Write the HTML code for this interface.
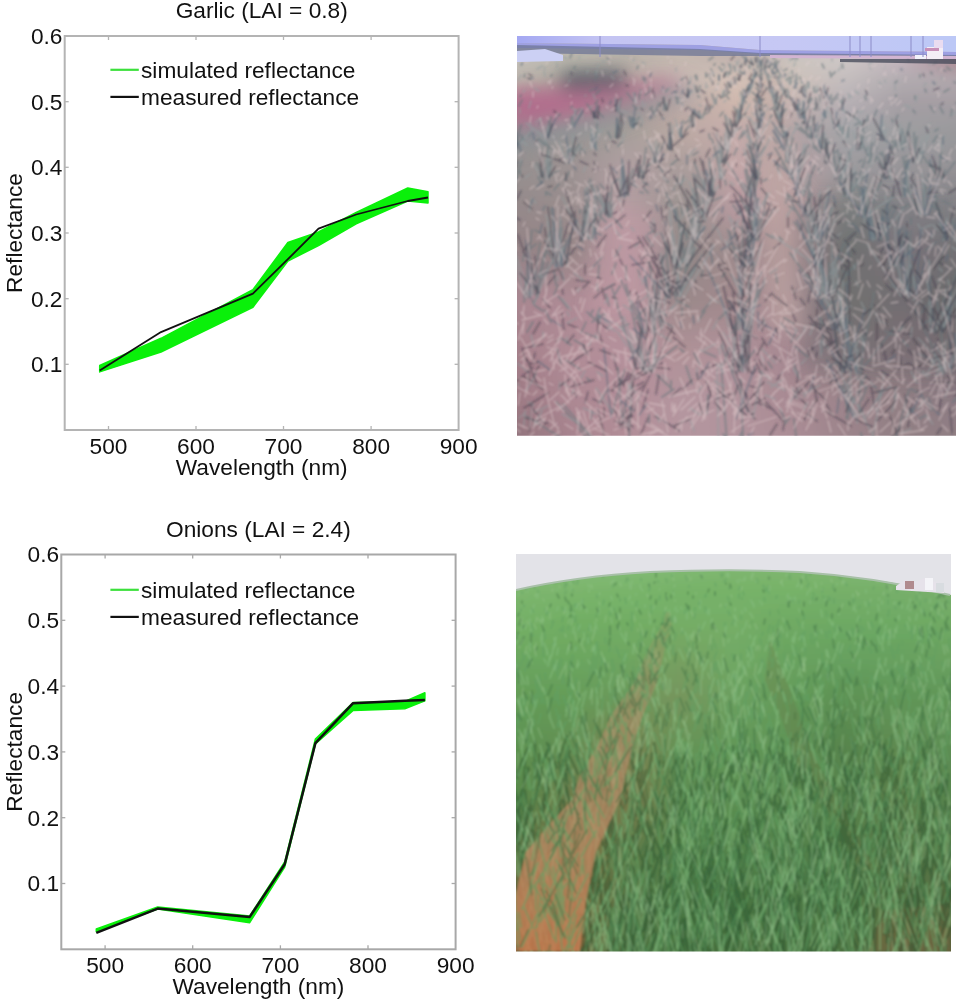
<!DOCTYPE html>
<html><head><meta charset="utf-8"><style>
html,body{margin:0;padding:0;background:#fff;width:966px;height:1000px;overflow:hidden}
svg{display:block}
.t{font-family:"Liberation Sans",sans-serif;font-size:22.7px;fill:#111}
.tx{will-change:transform;filter:blur(0.35px)}
</style></head><body>
<svg class="tx" width="966" height="1000" viewBox="0 0 966 1000">
<polygon points="99.7,365.5 161.0,338.3 252.9,289.7 287.9,242.5 318.5,232.0 356.2,212.4 407.8,188.0 428.0,191.7 428.0,203.0 407.8,201.0 356.2,223.8 318.5,245.6 287.9,261.0 252.9,307.3 161.0,352.0 99.7,371.9" fill="#0af00a" stroke="#0af00a" stroke-width="1.5" stroke-linejoin="round"/>
<polyline points="99.7,370.4 161.0,332.1 252.9,293.6 287.9,259.2 318.5,228.6 356.2,214.5 407.8,201.0 428.0,197.5" fill="none" stroke="#111" stroke-width="1.8" stroke-linejoin="round"/>
<rect x="64.7" y="36.0" width="393.9" height="394.0" fill="none" stroke="#b4b4b4" stroke-width="2"/>
<line x1="108.5" y1="430.0" x2="108.5" y2="426.0" stroke="#b4b4b4" stroke-width="1.3"/>
<line x1="108.5" y1="36.0" x2="108.5" y2="40.0" stroke="#b4b4b4" stroke-width="1.3"/>
<line x1="196.0" y1="430.0" x2="196.0" y2="426.0" stroke="#b4b4b4" stroke-width="1.3"/>
<line x1="196.0" y1="36.0" x2="196.0" y2="40.0" stroke="#b4b4b4" stroke-width="1.3"/>
<line x1="283.5" y1="430.0" x2="283.5" y2="426.0" stroke="#b4b4b4" stroke-width="1.3"/>
<line x1="283.5" y1="36.0" x2="283.5" y2="40.0" stroke="#b4b4b4" stroke-width="1.3"/>
<line x1="371.1" y1="430.0" x2="371.1" y2="426.0" stroke="#b4b4b4" stroke-width="1.3"/>
<line x1="371.1" y1="36.0" x2="371.1" y2="40.0" stroke="#b4b4b4" stroke-width="1.3"/>
<line x1="64.7" y1="364.3" x2="68.7" y2="364.3" stroke="#b4b4b4" stroke-width="1.3"/>
<line x1="458.6" y1="364.3" x2="454.6" y2="364.3" stroke="#b4b4b4" stroke-width="1.3"/>
<line x1="64.7" y1="298.7" x2="68.7" y2="298.7" stroke="#b4b4b4" stroke-width="1.3"/>
<line x1="458.6" y1="298.7" x2="454.6" y2="298.7" stroke="#b4b4b4" stroke-width="1.3"/>
<line x1="64.7" y1="233.0" x2="68.7" y2="233.0" stroke="#b4b4b4" stroke-width="1.3"/>
<line x1="458.6" y1="233.0" x2="454.6" y2="233.0" stroke="#b4b4b4" stroke-width="1.3"/>
<line x1="64.7" y1="167.3" x2="68.7" y2="167.3" stroke="#b4b4b4" stroke-width="1.3"/>
<line x1="458.6" y1="167.3" x2="454.6" y2="167.3" stroke="#b4b4b4" stroke-width="1.3"/>
<line x1="64.7" y1="101.7" x2="68.7" y2="101.7" stroke="#b4b4b4" stroke-width="1.3"/>
<line x1="458.6" y1="101.7" x2="454.6" y2="101.7" stroke="#b4b4b4" stroke-width="1.3"/>
<text x="108.5" y="453.5" text-anchor="middle" class="t">500</text>
<text x="196.0" y="453.5" text-anchor="middle" class="t">600</text>
<text x="283.5" y="453.5" text-anchor="middle" class="t">700</text>
<text x="371.1" y="453.5" text-anchor="middle" class="t">800</text>
<text x="458.6" y="453.5" text-anchor="middle" class="t">900</text>
<text x="62.5" y="372.1" text-anchor="end" class="t">0.1</text>
<text x="62.5" y="306.5" text-anchor="end" class="t">0.2</text>
<text x="62.5" y="240.8" text-anchor="end" class="t">0.3</text>
<text x="62.5" y="175.1" text-anchor="end" class="t">0.4</text>
<text x="62.5" y="109.5" text-anchor="end" class="t">0.5</text>
<text x="62.5" y="43.8" text-anchor="end" class="t">0.6</text>
<text x="261.7" y="475.0" text-anchor="middle" class="t">Wavelength (nm)</text>
<text transform="translate(22.2,233.0) rotate(-90)" text-anchor="middle" class="t">Reflectance</text>
<text x="261.7" y="18.0" text-anchor="middle" class="t">Garlic (LAI = 0.8)</text>
<line x1="110.4" y1="69.8" x2="138.8" y2="69.8" stroke="#3ce03c" stroke-width="2.2"/>
<line x1="110.4" y1="96.9" x2="138.8" y2="96.9" stroke="#111" stroke-width="2.2"/>
<text x="141.0" y="77.8" class="t">simulated reflectance</text>
<text x="141.0" y="104.9" class="t">measured reflectance</text>
<polygon points="96.3,928.9 157.7,907.0 249.7,915.9 284.7,862.0 315.4,739.0 353.1,702.6 404.8,701.5 424.9,692.8 424.9,700.7 404.8,708.8 353.1,710.4 315.4,744.0 284.7,867.0 249.7,922.7 157.7,909.0 96.3,931.4" fill="#0af00a" stroke="#0af00a" stroke-width="1.5" stroke-linejoin="round"/>
<polyline points="96.3,932.9 157.7,908.6 249.7,916.9 284.7,864.3 315.4,743.1 353.1,703.2 404.8,700.7 424.9,700.1" fill="none" stroke="#111" stroke-width="2.5" stroke-linejoin="round"/>
<rect x="61.3" y="554.5" width="394.3" height="394.8" fill="none" stroke="#a8a8a8" stroke-width="2"/>
<line x1="105.1" y1="949.3" x2="105.1" y2="945.3" stroke="#a8a8a8" stroke-width="1.3"/>
<line x1="105.1" y1="554.5" x2="105.1" y2="558.5" stroke="#a8a8a8" stroke-width="1.3"/>
<line x1="192.7" y1="949.3" x2="192.7" y2="945.3" stroke="#a8a8a8" stroke-width="1.3"/>
<line x1="192.7" y1="554.5" x2="192.7" y2="558.5" stroke="#a8a8a8" stroke-width="1.3"/>
<line x1="280.4" y1="949.3" x2="280.4" y2="945.3" stroke="#a8a8a8" stroke-width="1.3"/>
<line x1="280.4" y1="554.5" x2="280.4" y2="558.5" stroke="#a8a8a8" stroke-width="1.3"/>
<line x1="368.0" y1="949.3" x2="368.0" y2="945.3" stroke="#a8a8a8" stroke-width="1.3"/>
<line x1="368.0" y1="554.5" x2="368.0" y2="558.5" stroke="#a8a8a8" stroke-width="1.3"/>
<line x1="61.3" y1="883.5" x2="65.3" y2="883.5" stroke="#a8a8a8" stroke-width="1.3"/>
<line x1="455.6" y1="883.5" x2="451.6" y2="883.5" stroke="#a8a8a8" stroke-width="1.3"/>
<line x1="61.3" y1="817.7" x2="65.3" y2="817.7" stroke="#a8a8a8" stroke-width="1.3"/>
<line x1="455.6" y1="817.7" x2="451.6" y2="817.7" stroke="#a8a8a8" stroke-width="1.3"/>
<line x1="61.3" y1="751.9" x2="65.3" y2="751.9" stroke="#a8a8a8" stroke-width="1.3"/>
<line x1="455.6" y1="751.9" x2="451.6" y2="751.9" stroke="#a8a8a8" stroke-width="1.3"/>
<line x1="61.3" y1="686.1" x2="65.3" y2="686.1" stroke="#a8a8a8" stroke-width="1.3"/>
<line x1="455.6" y1="686.1" x2="451.6" y2="686.1" stroke="#a8a8a8" stroke-width="1.3"/>
<line x1="61.3" y1="620.3" x2="65.3" y2="620.3" stroke="#a8a8a8" stroke-width="1.3"/>
<line x1="455.6" y1="620.3" x2="451.6" y2="620.3" stroke="#a8a8a8" stroke-width="1.3"/>
<text x="105.1" y="972.8" text-anchor="middle" class="t">500</text>
<text x="192.7" y="972.8" text-anchor="middle" class="t">600</text>
<text x="280.4" y="972.8" text-anchor="middle" class="t">700</text>
<text x="368.0" y="972.8" text-anchor="middle" class="t">800</text>
<text x="455.6" y="972.8" text-anchor="middle" class="t">900</text>
<text x="59.1" y="891.3" text-anchor="end" class="t">0.1</text>
<text x="59.1" y="825.5" text-anchor="end" class="t">0.2</text>
<text x="59.1" y="759.7" text-anchor="end" class="t">0.3</text>
<text x="59.1" y="693.9" text-anchor="end" class="t">0.4</text>
<text x="59.1" y="628.1" text-anchor="end" class="t">0.5</text>
<text x="59.1" y="562.3" text-anchor="end" class="t">0.6</text>
<text x="258.4" y="994.3" text-anchor="middle" class="t">Wavelength (nm)</text>
<text transform="translate(22.2,751.9) rotate(-90)" text-anchor="middle" class="t">Reflectance</text>
<text x="258.4" y="536.5" text-anchor="middle" class="t">Onions (LAI = 2.4)</text>
<line x1="110.4" y1="589.8" x2="138.8" y2="589.8" stroke="#3ce03c" stroke-width="2.2"/>
<line x1="110.4" y1="616.9" x2="138.8" y2="616.9" stroke="#111" stroke-width="2.2"/>
<text x="141.0" y="597.8" class="t">simulated reflectance</text>
<text x="141.0" y="624.9" class="t">measured reflectance</text>
<defs><linearGradient id="g1_0" x1="0" x2="1" y1="0" y2="0"><stop offset="0.022" stop-color="#c3beb8"/><stop offset="0.142" stop-color="#bdb8ae"/><stop offset="0.261" stop-color="#b9b2aa"/><stop offset="0.381" stop-color="#c5b9b0"/><stop offset="0.501" stop-color="#c0b2ad"/><stop offset="0.621" stop-color="#cbc4c0"/><stop offset="0.741" stop-color="#cec8c6"/><stop offset="0.861" stop-color="#c5b5bd"/><stop offset="0.978" stop-color="#ac8a93"/></linearGradient><linearGradient id="g1_1" x1="0" x2="1" y1="0" y2="0"><stop offset="0.022" stop-color="#c3beb8"/><stop offset="0.142" stop-color="#bdb8ae"/><stop offset="0.261" stop-color="#b9b2aa"/><stop offset="0.381" stop-color="#c5b9b0"/><stop offset="0.501" stop-color="#c0b2ad"/><stop offset="0.621" stop-color="#cbc4c0"/><stop offset="0.741" stop-color="#cec8c6"/><stop offset="0.861" stop-color="#c5b5bd"/><stop offset="0.978" stop-color="#ac8a93"/></linearGradient><linearGradient id="g1_2" x1="0" x2="1" y1="0" y2="0"><stop offset="0.022" stop-color="#c3beb8"/><stop offset="0.142" stop-color="#bdb8ae"/><stop offset="0.261" stop-color="#b9b2aa"/><stop offset="0.381" stop-color="#c5b9b0"/><stop offset="0.501" stop-color="#c0b2ad"/><stop offset="0.621" stop-color="#cbc4c0"/><stop offset="0.741" stop-color="#cec8c6"/><stop offset="0.861" stop-color="#c5b5bd"/><stop offset="0.978" stop-color="#ac8a93"/></linearGradient><linearGradient id="g1_3" x1="0" x2="1" y1="0" y2="0"><stop offset="0.022" stop-color="#c3beb8"/><stop offset="0.142" stop-color="#bdb8ae"/><stop offset="0.261" stop-color="#b9b2aa"/><stop offset="0.381" stop-color="#c5b9b0"/><stop offset="0.501" stop-color="#c0b2ad"/><stop offset="0.621" stop-color="#cbc4c0"/><stop offset="0.741" stop-color="#cec8c6"/><stop offset="0.861" stop-color="#c5b5bd"/><stop offset="0.978" stop-color="#ac8a93"/></linearGradient><linearGradient id="g1_4" x1="0" x2="1" y1="0" y2="0"><stop offset="0.022" stop-color="#c3beb8"/><stop offset="0.142" stop-color="#bdb8ae"/><stop offset="0.261" stop-color="#b9b2aa"/><stop offset="0.381" stop-color="#c5b9b0"/><stop offset="0.501" stop-color="#c0b2ad"/><stop offset="0.621" stop-color="#cbc4c0"/><stop offset="0.741" stop-color="#cec8c6"/><stop offset="0.861" stop-color="#c5b5bd"/><stop offset="0.978" stop-color="#ac8a93"/></linearGradient><linearGradient id="g1_5" x1="0" x2="1" y1="0" y2="0"><stop offset="0.022" stop-color="#c3beb8"/><stop offset="0.142" stop-color="#bdb8ae"/><stop offset="0.261" stop-color="#b9b2aa"/><stop offset="0.381" stop-color="#c5b9b0"/><stop offset="0.501" stop-color="#c0b2ad"/><stop offset="0.621" stop-color="#cbc4c0"/><stop offset="0.741" stop-color="#cec8c6"/><stop offset="0.861" stop-color="#c5b5bd"/><stop offset="0.978" stop-color="#ac8a93"/></linearGradient><linearGradient id="g1_6" x1="0" x2="1" y1="0" y2="0"><stop offset="0.022" stop-color="#c3beb8"/><stop offset="0.142" stop-color="#bcb8ae"/><stop offset="0.261" stop-color="#b9b2a9"/><stop offset="0.381" stop-color="#c5b9b1"/><stop offset="0.501" stop-color="#c1b2ad"/><stop offset="0.621" stop-color="#cbc4bf"/><stop offset="0.741" stop-color="#cec8c6"/><stop offset="0.861" stop-color="#c4b5bd"/><stop offset="0.978" stop-color="#ac8b94"/></linearGradient><linearGradient id="g1_7" x1="0" x2="1" y1="0" y2="0"><stop offset="0.022" stop-color="#c1bcb5"/><stop offset="0.142" stop-color="#b7b3a9"/><stop offset="0.261" stop-color="#b9b0a8"/><stop offset="0.381" stop-color="#c6b9b1"/><stop offset="0.501" stop-color="#c6b6b0"/><stop offset="0.621" stop-color="#ccc4be"/><stop offset="0.741" stop-color="#cbc5c4"/><stop offset="0.861" stop-color="#c0b2ba"/><stop offset="0.978" stop-color="#ad9199"/></linearGradient><linearGradient id="g1_8" x1="0" x2="1" y1="0" y2="0"><stop offset="0.022" stop-color="#c0bab3"/><stop offset="0.142" stop-color="#b2aea5"/><stop offset="0.261" stop-color="#b8afa7"/><stop offset="0.381" stop-color="#c7b9b2"/><stop offset="0.501" stop-color="#cabab2"/><stop offset="0.621" stop-color="#cdc3bd"/><stop offset="0.741" stop-color="#c9c2c2"/><stop offset="0.861" stop-color="#bbb0b7"/><stop offset="0.978" stop-color="#ae979f"/></linearGradient><linearGradient id="g1_9" x1="0" x2="1" y1="0" y2="0"><stop offset="0.022" stop-color="#bfb8b0"/><stop offset="0.142" stop-color="#adaaa0"/><stop offset="0.261" stop-color="#b8ada6"/><stop offset="0.381" stop-color="#c7bab3"/><stop offset="0.501" stop-color="#cfbdb5"/><stop offset="0.621" stop-color="#cdc3bc"/><stop offset="0.741" stop-color="#c6c0c0"/><stop offset="0.861" stop-color="#b7aeb4"/><stop offset="0.978" stop-color="#ae9ea4"/></linearGradient><linearGradient id="g1_10" x1="0" x2="1" y1="0" y2="0"><stop offset="0.022" stop-color="#beb7ae"/><stop offset="0.142" stop-color="#a8a59c"/><stop offset="0.261" stop-color="#b7aba4"/><stop offset="0.381" stop-color="#c8bab3"/><stop offset="0.501" stop-color="#d4c1b7"/><stop offset="0.621" stop-color="#cec2ba"/><stop offset="0.741" stop-color="#c4bdbd"/><stop offset="0.861" stop-color="#b2acb0"/><stop offset="0.978" stop-color="#afa4aa"/></linearGradient><linearGradient id="g1_11" x1="0" x2="1" y1="0" y2="0"><stop offset="0.022" stop-color="#bcaea9"/><stop offset="0.142" stop-color="#a99f99"/><stop offset="0.261" stop-color="#b5a8a2"/><stop offset="0.381" stop-color="#c7b8b2"/><stop offset="0.501" stop-color="#d4c0b6"/><stop offset="0.621" stop-color="#cdc0b9"/><stop offset="0.741" stop-color="#c1babc"/><stop offset="0.861" stop-color="#afa9ae"/><stop offset="0.978" stop-color="#aea5aa"/></linearGradient><linearGradient id="g1_12" x1="0" x2="1" y1="0" y2="0"><stop offset="0.022" stop-color="#bba2a3"/><stop offset="0.142" stop-color="#ac9897"/><stop offset="0.261" stop-color="#b2a49e"/><stop offset="0.381" stop-color="#c4b5af"/><stop offset="0.501" stop-color="#d3beb4"/><stop offset="0.621" stop-color="#cbbdb7"/><stop offset="0.741" stop-color="#beb8ba"/><stop offset="0.861" stop-color="#ada7ab"/><stop offset="0.978" stop-color="#aca3a8"/></linearGradient><linearGradient id="g1_13" x1="0" x2="1" y1="0" y2="0"><stop offset="0.022" stop-color="#ba979e"/><stop offset="0.142" stop-color="#af9195"/><stop offset="0.261" stop-color="#ae9f9b"/><stop offset="0.381" stop-color="#c2b1ac"/><stop offset="0.501" stop-color="#d1bcb1"/><stop offset="0.621" stop-color="#cabab6"/><stop offset="0.741" stop-color="#bcb5b8"/><stop offset="0.861" stop-color="#aaa4a9"/><stop offset="0.978" stop-color="#a9a2a7"/></linearGradient><linearGradient id="g1_14" x1="0" x2="1" y1="0" y2="0"><stop offset="0.022" stop-color="#b98b98"/><stop offset="0.142" stop-color="#b38a93"/><stop offset="0.261" stop-color="#ab9b98"/><stop offset="0.381" stop-color="#bfaeaa"/><stop offset="0.501" stop-color="#d0b9af"/><stop offset="0.621" stop-color="#c8b8b4"/><stop offset="0.741" stop-color="#b9b2b6"/><stop offset="0.861" stop-color="#a7a1a6"/><stop offset="0.978" stop-color="#a7a0a5"/></linearGradient><linearGradient id="g1_15" x1="0" x2="1" y1="0" y2="0"><stop offset="0.022" stop-color="#b87f92"/><stop offset="0.142" stop-color="#b68391"/><stop offset="0.261" stop-color="#a89694"/><stop offset="0.381" stop-color="#bdaba7"/><stop offset="0.501" stop-color="#ceb7ad"/><stop offset="0.621" stop-color="#c6b5b3"/><stop offset="0.741" stop-color="#b6b0b4"/><stop offset="0.861" stop-color="#a59fa4"/><stop offset="0.978" stop-color="#a59ea3"/></linearGradient><linearGradient id="g1_16" x1="0" x2="1" y1="0" y2="0"><stop offset="0.022" stop-color="#b37f90"/><stop offset="0.142" stop-color="#b38491"/><stop offset="0.261" stop-color="#a79694"/><stop offset="0.381" stop-color="#bcaaa6"/><stop offset="0.501" stop-color="#cdb5ac"/><stop offset="0.621" stop-color="#c3b2b1"/><stop offset="0.741" stop-color="#b3adb2"/><stop offset="0.861" stop-color="#a39ea3"/><stop offset="0.978" stop-color="#a29da2"/></linearGradient><linearGradient id="g1_17" x1="0" x2="1" y1="0" y2="0"><stop offset="0.022" stop-color="#ac8390"/><stop offset="0.142" stop-color="#ad8891"/><stop offset="0.261" stop-color="#a69895"/><stop offset="0.381" stop-color="#bcaaa6"/><stop offset="0.501" stop-color="#cbb3ab"/><stop offset="0.621" stop-color="#bfafae"/><stop offset="0.741" stop-color="#afabaf"/><stop offset="0.861" stop-color="#a29ea2"/><stop offset="0.978" stop-color="#a09ca0"/></linearGradient><linearGradient id="g1_18" x1="0" x2="1" y1="0" y2="0"><stop offset="0.022" stop-color="#a68790"/><stop offset="0.142" stop-color="#a88c92"/><stop offset="0.261" stop-color="#a69a97"/><stop offset="0.381" stop-color="#bdaaa5"/><stop offset="0.501" stop-color="#c9b1ab"/><stop offset="0.621" stop-color="#bbabac"/><stop offset="0.741" stop-color="#aca9ad"/><stop offset="0.861" stop-color="#a19ea2"/><stop offset="0.978" stop-color="#9e9b9f"/></linearGradient><linearGradient id="g1_19" x1="0" x2="1" y1="0" y2="0"><stop offset="0.022" stop-color="#9f8b90"/><stop offset="0.142" stop-color="#a29092"/><stop offset="0.261" stop-color="#a69c98"/><stop offset="0.381" stop-color="#bdaaa5"/><stop offset="0.501" stop-color="#c7afab"/><stop offset="0.621" stop-color="#b7a8a9"/><stop offset="0.741" stop-color="#a8a7aa"/><stop offset="0.861" stop-color="#a09ea1"/><stop offset="0.978" stop-color="#9c9a9e"/></linearGradient><linearGradient id="g1_20" x1="0" x2="1" y1="0" y2="0"><stop offset="0.022" stop-color="#988f90"/><stop offset="0.142" stop-color="#9d9493"/><stop offset="0.261" stop-color="#a59e99"/><stop offset="0.381" stop-color="#bdaaa5"/><stop offset="0.501" stop-color="#c5adaa"/><stop offset="0.621" stop-color="#b4a5a7"/><stop offset="0.741" stop-color="#a5a5a8"/><stop offset="0.861" stop-color="#9e9ea1"/><stop offset="0.978" stop-color="#9a999c"/></linearGradient><linearGradient id="g1_21" x1="0" x2="1" y1="0" y2="0"><stop offset="0.022" stop-color="#969090"/><stop offset="0.142" stop-color="#9b9593"/><stop offset="0.261" stop-color="#a69f9a"/><stop offset="0.381" stop-color="#bba9a4"/><stop offset="0.501" stop-color="#c4abaa"/><stop offset="0.621" stop-color="#b3a4a6"/><stop offset="0.741" stop-color="#a3a3a6"/><stop offset="0.861" stop-color="#9d9da0"/><stop offset="0.978" stop-color="#99989b"/></linearGradient><linearGradient id="g1_22" x1="0" x2="1" y1="0" y2="0"><stop offset="0.022" stop-color="#969090"/><stop offset="0.142" stop-color="#9b9493"/><stop offset="0.261" stop-color="#a89f9c"/><stop offset="0.381" stop-color="#b9a7a2"/><stop offset="0.501" stop-color="#c4aba9"/><stop offset="0.621" stop-color="#b3a3a6"/><stop offset="0.741" stop-color="#a2a2a5"/><stop offset="0.861" stop-color="#9c9c9f"/><stop offset="0.978" stop-color="#98989b"/></linearGradient><linearGradient id="g1_23" x1="0" x2="1" y1="0" y2="0"><stop offset="0.022" stop-color="#969090"/><stop offset="0.142" stop-color="#9b9492"/><stop offset="0.261" stop-color="#a99f9d"/><stop offset="0.381" stop-color="#b6a5a1"/><stop offset="0.501" stop-color="#c4aaa9"/><stop offset="0.621" stop-color="#b4a3a5"/><stop offset="0.741" stop-color="#a1a1a4"/><stop offset="0.861" stop-color="#9b9b9e"/><stop offset="0.978" stop-color="#97979a"/></linearGradient><linearGradient id="g1_24" x1="0" x2="1" y1="0" y2="0"><stop offset="0.022" stop-color="#969090"/><stop offset="0.142" stop-color="#9b9492"/><stop offset="0.261" stop-color="#ab9f9e"/><stop offset="0.381" stop-color="#b3a4a0"/><stop offset="0.501" stop-color="#c3a9a9"/><stop offset="0.621" stop-color="#b4a2a5"/><stop offset="0.741" stop-color="#a09fa3"/><stop offset="0.861" stop-color="#9a999d"/><stop offset="0.978" stop-color="#979699"/></linearGradient><linearGradient id="g1_25" x1="0" x2="1" y1="0" y2="0"><stop offset="0.022" stop-color="#969090"/><stop offset="0.142" stop-color="#9b9392"/><stop offset="0.261" stop-color="#ac9f9f"/><stop offset="0.381" stop-color="#b1a29f"/><stop offset="0.501" stop-color="#c3a8a8"/><stop offset="0.621" stop-color="#b5a2a5"/><stop offset="0.741" stop-color="#a09ea2"/><stop offset="0.861" stop-color="#9a989c"/><stop offset="0.978" stop-color="#969598"/></linearGradient><linearGradient id="g1_26" x1="0" x2="1" y1="0" y2="0"><stop offset="0.022" stop-color="#969090"/><stop offset="0.142" stop-color="#9b9392"/><stop offset="0.261" stop-color="#ae9fa0"/><stop offset="0.381" stop-color="#aea09d"/><stop offset="0.501" stop-color="#c3a8a8"/><stop offset="0.621" stop-color="#b6a1a4"/><stop offset="0.741" stop-color="#9f9da0"/><stop offset="0.861" stop-color="#99979a"/><stop offset="0.978" stop-color="#969498"/></linearGradient><linearGradient id="g1_27" x1="0" x2="1" y1="0" y2="0"><stop offset="0.022" stop-color="#969090"/><stop offset="0.142" stop-color="#9c9292"/><stop offset="0.261" stop-color="#af9fa1"/><stop offset="0.381" stop-color="#ab9e9c"/><stop offset="0.501" stop-color="#c3a7a8"/><stop offset="0.621" stop-color="#b6a1a4"/><stop offset="0.741" stop-color="#9e9c9f"/><stop offset="0.861" stop-color="#989699"/><stop offset="0.978" stop-color="#959397"/></linearGradient><linearGradient id="g1_28" x1="0" x2="1" y1="0" y2="0"><stop offset="0.022" stop-color="#969090"/><stop offset="0.142" stop-color="#9c9292"/><stop offset="0.261" stop-color="#b19fa2"/><stop offset="0.381" stop-color="#a99d9b"/><stop offset="0.501" stop-color="#c3a6a7"/><stop offset="0.621" stop-color="#b7a0a4"/><stop offset="0.741" stop-color="#9d9a9e"/><stop offset="0.861" stop-color="#979498"/><stop offset="0.978" stop-color="#959296"/></linearGradient><linearGradient id="g1_29" x1="0" x2="1" y1="0" y2="0"><stop offset="0.022" stop-color="#968f8f"/><stop offset="0.142" stop-color="#9b9191"/><stop offset="0.261" stop-color="#b19fa2"/><stop offset="0.381" stop-color="#a79b9a"/><stop offset="0.501" stop-color="#c2a5a7"/><stop offset="0.621" stop-color="#b79fa3"/><stop offset="0.741" stop-color="#9a989b"/><stop offset="0.861" stop-color="#959397"/><stop offset="0.978" stop-color="#939194"/></linearGradient><linearGradient id="g1_30" x1="0" x2="1" y1="0" y2="0"><stop offset="0.022" stop-color="#968f8f"/><stop offset="0.142" stop-color="#9b9191"/><stop offset="0.261" stop-color="#b29fa2"/><stop offset="0.381" stop-color="#a59a98"/><stop offset="0.501" stop-color="#c0a3a6"/><stop offset="0.621" stop-color="#b79fa3"/><stop offset="0.741" stop-color="#979598"/><stop offset="0.861" stop-color="#949195"/><stop offset="0.978" stop-color="#918f93"/></linearGradient><linearGradient id="g1_31" x1="0" x2="1" y1="0" y2="0"><stop offset="0.022" stop-color="#968e8e"/><stop offset="0.142" stop-color="#9a9090"/><stop offset="0.261" stop-color="#b29ea2"/><stop offset="0.381" stop-color="#a39997"/><stop offset="0.501" stop-color="#bfa2a5"/><stop offset="0.621" stop-color="#b89ea2"/><stop offset="0.741" stop-color="#949395"/><stop offset="0.861" stop-color="#929094"/><stop offset="0.978" stop-color="#908d91"/></linearGradient><linearGradient id="g1_32" x1="0" x2="1" y1="0" y2="0"><stop offset="0.022" stop-color="#968d8d"/><stop offset="0.142" stop-color="#9a8f8f"/><stop offset="0.261" stop-color="#b39ea2"/><stop offset="0.381" stop-color="#a19795"/><stop offset="0.501" stop-color="#bda0a4"/><stop offset="0.621" stop-color="#b89da2"/><stop offset="0.741" stop-color="#919091"/><stop offset="0.861" stop-color="#918e92"/><stop offset="0.978" stop-color="#8e8c8f"/></linearGradient><linearGradient id="g1_33" x1="0" x2="1" y1="0" y2="0"><stop offset="0.022" stop-color="#958c8d"/><stop offset="0.142" stop-color="#998e8f"/><stop offset="0.261" stop-color="#b39ea2"/><stop offset="0.381" stop-color="#9f9694"/><stop offset="0.501" stop-color="#bc9fa3"/><stop offset="0.621" stop-color="#b89ca2"/><stop offset="0.741" stop-color="#8d8d8e"/><stop offset="0.861" stop-color="#8f8d91"/><stop offset="0.978" stop-color="#8c8a8d"/></linearGradient><linearGradient id="g1_34" x1="0" x2="1" y1="0" y2="0"><stop offset="0.022" stop-color="#958b8c"/><stop offset="0.142" stop-color="#998e8e"/><stop offset="0.261" stop-color="#b49ea2"/><stop offset="0.381" stop-color="#9d9592"/><stop offset="0.501" stop-color="#ba9da2"/><stop offset="0.621" stop-color="#b99ca1"/><stop offset="0.741" stop-color="#8a8a8a"/><stop offset="0.861" stop-color="#8e8b8f"/><stop offset="0.978" stop-color="#8a888c"/></linearGradient><linearGradient id="g1_35" x1="0" x2="1" y1="0" y2="0"><stop offset="0.022" stop-color="#958a8b"/><stop offset="0.142" stop-color="#998d8d"/><stop offset="0.261" stop-color="#b49da2"/><stop offset="0.381" stop-color="#9c9491"/><stop offset="0.501" stop-color="#b99ca1"/><stop offset="0.621" stop-color="#b99ba1"/><stop offset="0.741" stop-color="#878887"/><stop offset="0.861" stop-color="#8c8a8e"/><stop offset="0.978" stop-color="#89868a"/></linearGradient><linearGradient id="g1_36" x1="0" x2="1" y1="0" y2="0"><stop offset="0.022" stop-color="#95898b"/><stop offset="0.142" stop-color="#988c8d"/><stop offset="0.261" stop-color="#b59da2"/><stop offset="0.381" stop-color="#9a9290"/><stop offset="0.501" stop-color="#b79aa0"/><stop offset="0.621" stop-color="#b99aa0"/><stop offset="0.741" stop-color="#848584"/><stop offset="0.861" stop-color="#8b888c"/><stop offset="0.978" stop-color="#878588"/></linearGradient><linearGradient id="g1_37" x1="0" x2="1" y1="0" y2="0"><stop offset="0.022" stop-color="#95898a"/><stop offset="0.142" stop-color="#988b8c"/><stop offset="0.261" stop-color="#b59ca2"/><stop offset="0.381" stop-color="#99918f"/><stop offset="0.501" stop-color="#b5999e"/><stop offset="0.621" stop-color="#b8999f"/><stop offset="0.741" stop-color="#818381"/><stop offset="0.861" stop-color="#8a878b"/><stop offset="0.978" stop-color="#858386"/></linearGradient><linearGradient id="g1_38" x1="0" x2="1" y1="0" y2="0"><stop offset="0.022" stop-color="#95888a"/><stop offset="0.142" stop-color="#988b8b"/><stop offset="0.261" stop-color="#b69ca2"/><stop offset="0.381" stop-color="#98908e"/><stop offset="0.501" stop-color="#b2979c"/><stop offset="0.621" stop-color="#b6979e"/><stop offset="0.741" stop-color="#7f817f"/><stop offset="0.861" stop-color="#898589"/><stop offset="0.978" stop-color="#838184"/></linearGradient><linearGradient id="g1_39" x1="0" x2="1" y1="0" y2="0"><stop offset="0.022" stop-color="#958789"/><stop offset="0.142" stop-color="#988a8b"/><stop offset="0.261" stop-color="#b69ba2"/><stop offset="0.381" stop-color="#978f8d"/><stop offset="0.501" stop-color="#af9599"/><stop offset="0.621" stop-color="#b4969c"/><stop offset="0.741" stop-color="#7d7f7d"/><stop offset="0.861" stop-color="#898388"/><stop offset="0.978" stop-color="#817f82"/></linearGradient><linearGradient id="g1_40" x1="0" x2="1" y1="0" y2="0"><stop offset="0.022" stop-color="#958789"/><stop offset="0.142" stop-color="#97898a"/><stop offset="0.261" stop-color="#b69aa2"/><stop offset="0.381" stop-color="#978e8c"/><stop offset="0.501" stop-color="#ac9497"/><stop offset="0.621" stop-color="#b3949b"/><stop offset="0.741" stop-color="#7b7d7b"/><stop offset="0.861" stop-color="#888286"/><stop offset="0.978" stop-color="#7f7d80"/></linearGradient><linearGradient id="g1_41" x1="0" x2="1" y1="0" y2="0"><stop offset="0.022" stop-color="#958688"/><stop offset="0.142" stop-color="#978889"/><stop offset="0.261" stop-color="#b699a2"/><stop offset="0.381" stop-color="#968d8b"/><stop offset="0.501" stop-color="#a99295"/><stop offset="0.621" stop-color="#b19399"/><stop offset="0.741" stop-color="#797b79"/><stop offset="0.861" stop-color="#888085"/><stop offset="0.978" stop-color="#7d7b7e"/></linearGradient><linearGradient id="g1_42" x1="0" x2="1" y1="0" y2="0"><stop offset="0.022" stop-color="#958588"/><stop offset="0.142" stop-color="#978889"/><stop offset="0.261" stop-color="#b799a2"/><stop offset="0.381" stop-color="#958c8b"/><stop offset="0.501" stop-color="#a69093"/><stop offset="0.621" stop-color="#af9198"/><stop offset="0.741" stop-color="#777977"/><stop offset="0.861" stop-color="#877e83"/><stop offset="0.978" stop-color="#7b797c"/></linearGradient><linearGradient id="g1_43" x1="0" x2="1" y1="0" y2="0"><stop offset="0.022" stop-color="#958587"/><stop offset="0.142" stop-color="#978788"/><stop offset="0.261" stop-color="#b798a2"/><stop offset="0.381" stop-color="#958b8a"/><stop offset="0.501" stop-color="#a38e90"/><stop offset="0.621" stop-color="#ad9096"/><stop offset="0.741" stop-color="#757774"/><stop offset="0.861" stop-color="#877c81"/><stop offset="0.978" stop-color="#797779"/></linearGradient><linearGradient id="g1_44" x1="0" x2="1" y1="0" y2="0"><stop offset="0.022" stop-color="#958487"/><stop offset="0.142" stop-color="#978687"/><stop offset="0.261" stop-color="#b797a1"/><stop offset="0.381" stop-color="#948a89"/><stop offset="0.501" stop-color="#a08d8e"/><stop offset="0.621" stop-color="#ab8e95"/><stop offset="0.741" stop-color="#737572"/><stop offset="0.861" stop-color="#867b80"/><stop offset="0.978" stop-color="#777577"/></linearGradient><linearGradient id="g1_45" x1="0" x2="1" y1="0" y2="0"><stop offset="0.022" stop-color="#968488"/><stop offset="0.142" stop-color="#988688"/><stop offset="0.261" stop-color="#b797a1"/><stop offset="0.381" stop-color="#948a89"/><stop offset="0.501" stop-color="#9f8c8e"/><stop offset="0.621" stop-color="#ab8e95"/><stop offset="0.741" stop-color="#737472"/><stop offset="0.861" stop-color="#85797f"/><stop offset="0.978" stop-color="#767376"/></linearGradient><linearGradient id="g1_46" x1="0" x2="1" y1="0" y2="0"><stop offset="0.022" stop-color="#988589"/><stop offset="0.142" stop-color="#9b8789"/><stop offset="0.261" stop-color="#b796a1"/><stop offset="0.381" stop-color="#958a89"/><stop offset="0.501" stop-color="#a08b8d"/><stop offset="0.621" stop-color="#ab8e95"/><stop offset="0.741" stop-color="#747472"/><stop offset="0.861" stop-color="#84787d"/><stop offset="0.978" stop-color="#757275"/></linearGradient><linearGradient id="g1_47" x1="0" x2="1" y1="0" y2="0"><stop offset="0.022" stop-color="#9a858a"/><stop offset="0.142" stop-color="#9d878b"/><stop offset="0.261" stop-color="#b796a1"/><stop offset="0.381" stop-color="#958a89"/><stop offset="0.501" stop-color="#a08b8d"/><stop offset="0.621" stop-color="#ab8e95"/><stop offset="0.741" stop-color="#747472"/><stop offset="0.861" stop-color="#82787c"/><stop offset="0.978" stop-color="#747274"/></linearGradient><linearGradient id="g1_48" x1="0" x2="1" y1="0" y2="0"><stop offset="0.022" stop-color="#9c858b"/><stop offset="0.142" stop-color="#9f888c"/><stop offset="0.261" stop-color="#b796a0"/><stop offset="0.381" stop-color="#968a89"/><stop offset="0.501" stop-color="#a08b8d"/><stop offset="0.621" stop-color="#ac8e96"/><stop offset="0.741" stop-color="#757472"/><stop offset="0.861" stop-color="#81777b"/><stop offset="0.978" stop-color="#737173"/></linearGradient><linearGradient id="g1_49" x1="0" x2="1" y1="0" y2="0"><stop offset="0.022" stop-color="#9e858c"/><stop offset="0.142" stop-color="#a2888e"/><stop offset="0.261" stop-color="#b796a0"/><stop offset="0.381" stop-color="#978a89"/><stop offset="0.501" stop-color="#a18b8d"/><stop offset="0.621" stop-color="#ac8e96"/><stop offset="0.741" stop-color="#757472"/><stop offset="0.861" stop-color="#80767a"/><stop offset="0.978" stop-color="#727072"/></linearGradient><linearGradient id="g1_50" x1="0" x2="1" y1="0" y2="0"><stop offset="0.022" stop-color="#a0868d"/><stop offset="0.142" stop-color="#a4898f"/><stop offset="0.261" stop-color="#b795a0"/><stop offset="0.381" stop-color="#978989"/><stop offset="0.501" stop-color="#a18a8d"/><stop offset="0.621" stop-color="#ac8f96"/><stop offset="0.741" stop-color="#757572"/><stop offset="0.861" stop-color="#7e7578"/><stop offset="0.978" stop-color="#716f70"/></linearGradient><linearGradient id="g1_51" x1="0" x2="1" y1="0" y2="0"><stop offset="0.022" stop-color="#a2868e"/><stop offset="0.142" stop-color="#a68990"/><stop offset="0.261" stop-color="#b7959f"/><stop offset="0.381" stop-color="#98898a"/><stop offset="0.501" stop-color="#a18a8d"/><stop offset="0.621" stop-color="#ac8f97"/><stop offset="0.741" stop-color="#767572"/><stop offset="0.861" stop-color="#7d7477"/><stop offset="0.978" stop-color="#706e6f"/></linearGradient><linearGradient id="g1_52" x1="0" x2="1" y1="0" y2="0"><stop offset="0.022" stop-color="#a4868f"/><stop offset="0.142" stop-color="#a98a92"/><stop offset="0.261" stop-color="#b7959f"/><stop offset="0.381" stop-color="#98898a"/><stop offset="0.501" stop-color="#a28a8d"/><stop offset="0.621" stop-color="#ac8f97"/><stop offset="0.741" stop-color="#767572"/><stop offset="0.861" stop-color="#7b7376"/><stop offset="0.978" stop-color="#6f6d6e"/></linearGradient><linearGradient id="g1_53" x1="0" x2="1" y1="0" y2="0"><stop offset="0.022" stop-color="#a68790"/><stop offset="0.142" stop-color="#ab8a93"/><stop offset="0.261" stop-color="#b7949f"/><stop offset="0.381" stop-color="#99898a"/><stop offset="0.501" stop-color="#a2898d"/><stop offset="0.621" stop-color="#ad8f97"/><stop offset="0.741" stop-color="#777572"/><stop offset="0.861" stop-color="#7a7275"/><stop offset="0.978" stop-color="#6f6c6d"/></linearGradient><linearGradient id="g1_54" x1="0" x2="1" y1="0" y2="0"><stop offset="0.022" stop-color="#a88791"/><stop offset="0.142" stop-color="#ad8b95"/><stop offset="0.261" stop-color="#b7949e"/><stop offset="0.381" stop-color="#9a898a"/><stop offset="0.501" stop-color="#a2898c"/><stop offset="0.621" stop-color="#ad8f98"/><stop offset="0.741" stop-color="#777572"/><stop offset="0.861" stop-color="#797173"/><stop offset="0.978" stop-color="#6e6b6c"/></linearGradient><linearGradient id="g1_55" x1="0" x2="1" y1="0" y2="0"><stop offset="0.022" stop-color="#a88790"/><stop offset="0.142" stop-color="#ae8b95"/><stop offset="0.261" stop-color="#b7949e"/><stop offset="0.381" stop-color="#9b8a8b"/><stop offset="0.501" stop-color="#a38a8d"/><stop offset="0.621" stop-color="#ac8f97"/><stop offset="0.741" stop-color="#787572"/><stop offset="0.861" stop-color="#797174"/><stop offset="0.978" stop-color="#6e6b6c"/></linearGradient><linearGradient id="g1_56" x1="0" x2="1" y1="0" y2="0"><stop offset="0.022" stop-color="#a88690"/><stop offset="0.142" stop-color="#ae8b95"/><stop offset="0.261" stop-color="#b6939e"/><stop offset="0.381" stop-color="#9d8a8c"/><stop offset="0.501" stop-color="#a48a8f"/><stop offset="0.621" stop-color="#ac8e97"/><stop offset="0.741" stop-color="#787573"/><stop offset="0.861" stop-color="#7a7274"/><stop offset="0.978" stop-color="#706c6d"/></linearGradient><linearGradient id="g1_57" x1="0" x2="1" y1="0" y2="0"><stop offset="0.022" stop-color="#a7858f"/><stop offset="0.142" stop-color="#ae8b96"/><stop offset="0.261" stop-color="#b6939d"/><stop offset="0.381" stop-color="#a08b8d"/><stop offset="0.501" stop-color="#a68b90"/><stop offset="0.621" stop-color="#ab8d96"/><stop offset="0.741" stop-color="#797573"/><stop offset="0.861" stop-color="#7c7275"/><stop offset="0.978" stop-color="#716c6d"/></linearGradient><linearGradient id="g1_58" x1="0" x2="1" y1="0" y2="0"><stop offset="0.022" stop-color="#a7848e"/><stop offset="0.142" stop-color="#af8b96"/><stop offset="0.261" stop-color="#b6939d"/><stop offset="0.381" stop-color="#a28c8f"/><stop offset="0.501" stop-color="#a78c91"/><stop offset="0.621" stop-color="#aa8c95"/><stop offset="0.741" stop-color="#7a7574"/><stop offset="0.861" stop-color="#7d7275"/><stop offset="0.978" stop-color="#726c6e"/></linearGradient><linearGradient id="g1_59" x1="0" x2="1" y1="0" y2="0"><stop offset="0.022" stop-color="#a6848e"/><stop offset="0.142" stop-color="#af8b96"/><stop offset="0.261" stop-color="#b6939d"/><stop offset="0.381" stop-color="#a48d90"/><stop offset="0.501" stop-color="#a88d93"/><stop offset="0.621" stop-color="#a98c94"/><stop offset="0.741" stop-color="#7a7574"/><stop offset="0.861" stop-color="#7e7276"/><stop offset="0.978" stop-color="#736c6e"/></linearGradient><linearGradient id="g1_60" x1="0" x2="1" y1="0" y2="0"><stop offset="0.022" stop-color="#a6838d"/><stop offset="0.142" stop-color="#af8c96"/><stop offset="0.261" stop-color="#b6929d"/><stop offset="0.381" stop-color="#a68e91"/><stop offset="0.501" stop-color="#a98e94"/><stop offset="0.621" stop-color="#a88b94"/><stop offset="0.741" stop-color="#7b7475"/><stop offset="0.861" stop-color="#7f7376"/><stop offset="0.978" stop-color="#756d6f"/></linearGradient><linearGradient id="g1_61" x1="0" x2="1" y1="0" y2="0"><stop offset="0.022" stop-color="#a6828d"/><stop offset="0.142" stop-color="#af8c96"/><stop offset="0.261" stop-color="#b6929c"/><stop offset="0.381" stop-color="#a88e93"/><stop offset="0.501" stop-color="#ab8e95"/><stop offset="0.621" stop-color="#a88a93"/><stop offset="0.741" stop-color="#7c7475"/><stop offset="0.861" stop-color="#817377"/><stop offset="0.978" stop-color="#766d70"/></linearGradient><linearGradient id="g1_62" x1="0" x2="1" y1="0" y2="0"><stop offset="0.022" stop-color="#a5828c"/><stop offset="0.142" stop-color="#af8c96"/><stop offset="0.261" stop-color="#b5929c"/><stop offset="0.381" stop-color="#aa8f94"/><stop offset="0.501" stop-color="#ac8f97"/><stop offset="0.621" stop-color="#a78a92"/><stop offset="0.741" stop-color="#7c7476"/><stop offset="0.861" stop-color="#827378"/><stop offset="0.978" stop-color="#776d70"/></linearGradient><linearGradient id="g1_63" x1="0" x2="1" y1="0" y2="0"><stop offset="0.022" stop-color="#a5818b"/><stop offset="0.142" stop-color="#b08c96"/><stop offset="0.261" stop-color="#b5919c"/><stop offset="0.381" stop-color="#ac9095"/><stop offset="0.501" stop-color="#ad9098"/><stop offset="0.621" stop-color="#a68991"/><stop offset="0.741" stop-color="#7d7476"/><stop offset="0.861" stop-color="#837478"/><stop offset="0.978" stop-color="#786e71"/></linearGradient><linearGradient id="g1_64" x1="0" x2="1" y1="0" y2="0"><stop offset="0.022" stop-color="#a4808b"/><stop offset="0.142" stop-color="#b08c96"/><stop offset="0.261" stop-color="#b5919c"/><stop offset="0.381" stop-color="#ae9196"/><stop offset="0.501" stop-color="#af9199"/><stop offset="0.621" stop-color="#a58891"/><stop offset="0.741" stop-color="#7d7477"/><stop offset="0.861" stop-color="#847479"/><stop offset="0.978" stop-color="#7a6e71"/></linearGradient><linearGradient id="g1_65" x1="0" x2="1" y1="0" y2="0"><stop offset="0.022" stop-color="#a4808a"/><stop offset="0.142" stop-color="#b08c96"/><stop offset="0.261" stop-color="#b5919b"/><stop offset="0.381" stop-color="#af9197"/><stop offset="0.501" stop-color="#af919a"/><stop offset="0.621" stop-color="#a58890"/><stop offset="0.741" stop-color="#807578"/><stop offset="0.861" stop-color="#86757a"/><stop offset="0.978" stop-color="#7b6f73"/></linearGradient><linearGradient id="g1_66" x1="0" x2="1" y1="0" y2="0"><stop offset="0.022" stop-color="#a37f89"/><stop offset="0.142" stop-color="#af8b96"/><stop offset="0.261" stop-color="#b4909b"/><stop offset="0.381" stop-color="#b09298"/><stop offset="0.501" stop-color="#af919a"/><stop offset="0.621" stop-color="#a58891"/><stop offset="0.741" stop-color="#83777a"/><stop offset="0.861" stop-color="#87767b"/><stop offset="0.978" stop-color="#7d7074"/></linearGradient><linearGradient id="g1_67" x1="0" x2="1" y1="0" y2="0"><stop offset="0.022" stop-color="#a27e89"/><stop offset="0.142" stop-color="#af8b95"/><stop offset="0.261" stop-color="#b4909b"/><stop offset="0.381" stop-color="#b09299"/><stop offset="0.501" stop-color="#b0929a"/><stop offset="0.621" stop-color="#a58891"/><stop offset="0.741" stop-color="#86787c"/><stop offset="0.861" stop-color="#88777c"/><stop offset="0.978" stop-color="#7f7176"/></linearGradient><linearGradient id="g1_68" x1="0" x2="1" y1="0" y2="0"><stop offset="0.022" stop-color="#a27e88"/><stop offset="0.142" stop-color="#af8b95"/><stop offset="0.261" stop-color="#b4909a"/><stop offset="0.381" stop-color="#b1939a"/><stop offset="0.501" stop-color="#b0929a"/><stop offset="0.621" stop-color="#a68891"/><stop offset="0.741" stop-color="#897a7e"/><stop offset="0.861" stop-color="#89787d"/><stop offset="0.978" stop-color="#807278"/></linearGradient><linearGradient id="g1_69" x1="0" x2="1" y1="0" y2="0"><stop offset="0.022" stop-color="#a17d88"/><stop offset="0.142" stop-color="#ae8a95"/><stop offset="0.261" stop-color="#b4909a"/><stop offset="0.381" stop-color="#b1939b"/><stop offset="0.501" stop-color="#b0929b"/><stop offset="0.621" stop-color="#a68891"/><stop offset="0.741" stop-color="#8c7c80"/><stop offset="0.861" stop-color="#8b797e"/><stop offset="0.978" stop-color="#82747a"/></linearGradient><linearGradient id="g1_70" x1="0" x2="1" y1="0" y2="0"><stop offset="0.022" stop-color="#a17d87"/><stop offset="0.142" stop-color="#ae8a94"/><stop offset="0.261" stop-color="#b38f9a"/><stop offset="0.381" stop-color="#b2949b"/><stop offset="0.501" stop-color="#b0929b"/><stop offset="0.621" stop-color="#a68991"/><stop offset="0.741" stop-color="#8f7d82"/><stop offset="0.861" stop-color="#8c7a7f"/><stop offset="0.978" stop-color="#84757b"/></linearGradient><linearGradient id="g1_71" x1="0" x2="1" y1="0" y2="0"><stop offset="0.022" stop-color="#a07c86"/><stop offset="0.142" stop-color="#ad8994"/><stop offset="0.261" stop-color="#b38f99"/><stop offset="0.381" stop-color="#b2949c"/><stop offset="0.501" stop-color="#b0929b"/><stop offset="0.621" stop-color="#a68991"/><stop offset="0.741" stop-color="#927f84"/><stop offset="0.861" stop-color="#8d7b81"/><stop offset="0.978" stop-color="#85767d"/></linearGradient><linearGradient id="g1_72" x1="0" x2="1" y1="0" y2="0"><stop offset="0.022" stop-color="#9f7b86"/><stop offset="0.142" stop-color="#ad8993"/><stop offset="0.261" stop-color="#b38f99"/><stop offset="0.381" stop-color="#b3959d"/><stop offset="0.501" stop-color="#b1939b"/><stop offset="0.621" stop-color="#a68991"/><stop offset="0.741" stop-color="#958086"/><stop offset="0.861" stop-color="#8e7c82"/><stop offset="0.978" stop-color="#87777f"/></linearGradient><linearGradient id="g1_73" x1="0" x2="1" y1="0" y2="0"><stop offset="0.022" stop-color="#9f7b85"/><stop offset="0.142" stop-color="#ad8993"/><stop offset="0.261" stop-color="#b28e99"/><stop offset="0.381" stop-color="#b3959e"/><stop offset="0.501" stop-color="#b1939b"/><stop offset="0.621" stop-color="#a78992"/><stop offset="0.741" stop-color="#988288"/><stop offset="0.861" stop-color="#8f7e83"/><stop offset="0.978" stop-color="#897881"/></linearGradient><linearGradient id="g1_74" x1="0" x2="1" y1="0" y2="0"><stop offset="0.022" stop-color="#9e7a85"/><stop offset="0.142" stop-color="#ac8893"/><stop offset="0.261" stop-color="#b28e99"/><stop offset="0.381" stop-color="#b4969f"/><stop offset="0.501" stop-color="#b1939c"/><stop offset="0.621" stop-color="#a78992"/><stop offset="0.741" stop-color="#9b848a"/><stop offset="0.861" stop-color="#917f84"/><stop offset="0.978" stop-color="#8a7a82"/></linearGradient><linearGradient id="g1_75" x1="0" x2="1" y1="0" y2="0"><stop offset="0.022" stop-color="#9d7a84"/><stop offset="0.142" stop-color="#ac8892"/><stop offset="0.261" stop-color="#b28e98"/><stop offset="0.381" stop-color="#b4969f"/><stop offset="0.501" stop-color="#b1939c"/><stop offset="0.621" stop-color="#a78992"/><stop offset="0.741" stop-color="#9c848b"/><stop offset="0.861" stop-color="#917f84"/><stop offset="0.978" stop-color="#8b7a83"/></linearGradient><linearGradient id="g1_76" x1="0" x2="1" y1="0" y2="0"><stop offset="0.022" stop-color="#9b7983"/><stop offset="0.142" stop-color="#ab8792"/><stop offset="0.261" stop-color="#b28e98"/><stop offset="0.381" stop-color="#b4969f"/><stop offset="0.501" stop-color="#b1939c"/><stop offset="0.621" stop-color="#a88a93"/><stop offset="0.741" stop-color="#9c848b"/><stop offset="0.861" stop-color="#917f84"/><stop offset="0.978" stop-color="#8c7b83"/></linearGradient><linearGradient id="g1_77" x1="0" x2="1" y1="0" y2="0"><stop offset="0.022" stop-color="#9a7882"/><stop offset="0.142" stop-color="#aa8691"/><stop offset="0.261" stop-color="#b28e98"/><stop offset="0.381" stop-color="#b4969f"/><stop offset="0.501" stop-color="#b1939c"/><stop offset="0.621" stop-color="#a98b93"/><stop offset="0.741" stop-color="#9c848b"/><stop offset="0.861" stop-color="#917f84"/><stop offset="0.978" stop-color="#8d7c83"/></linearGradient><linearGradient id="g1_78" x1="0" x2="1" y1="0" y2="0"><stop offset="0.022" stop-color="#987781"/><stop offset="0.142" stop-color="#aa8690"/><stop offset="0.261" stop-color="#b28e98"/><stop offset="0.381" stop-color="#b4969f"/><stop offset="0.501" stop-color="#b1939c"/><stop offset="0.621" stop-color="#a98b94"/><stop offset="0.741" stop-color="#9c848b"/><stop offset="0.861" stop-color="#917f84"/><stop offset="0.978" stop-color="#8e7d84"/></linearGradient><linearGradient id="g1_79" x1="0" x2="1" y1="0" y2="0"><stop offset="0.022" stop-color="#977780"/><stop offset="0.142" stop-color="#a98590"/><stop offset="0.261" stop-color="#b28e98"/><stop offset="0.381" stop-color="#b4969f"/><stop offset="0.501" stop-color="#b1939c"/><stop offset="0.621" stop-color="#aa8c94"/><stop offset="0.741" stop-color="#9c848b"/><stop offset="0.861" stop-color="#917f84"/><stop offset="0.978" stop-color="#8f7d84"/></linearGradient><linearGradient id="g1_80" x1="0" x2="1" y1="0" y2="0"><stop offset="0.022" stop-color="#95767f"/><stop offset="0.142" stop-color="#a9858f"/><stop offset="0.261" stop-color="#b28e98"/><stop offset="0.381" stop-color="#b4969f"/><stop offset="0.501" stop-color="#b1939c"/><stop offset="0.621" stop-color="#aa8c95"/><stop offset="0.741" stop-color="#9c848b"/><stop offset="0.861" stop-color="#917f84"/><stop offset="0.978" stop-color="#907e84"/></linearGradient><linearGradient id="g1_81" x1="0" x2="1" y1="0" y2="0"><stop offset="0.022" stop-color="#93757e"/><stop offset="0.142" stop-color="#a8848f"/><stop offset="0.261" stop-color="#b28e98"/><stop offset="0.381" stop-color="#b4969f"/><stop offset="0.501" stop-color="#b1939c"/><stop offset="0.621" stop-color="#ab8d96"/><stop offset="0.741" stop-color="#9c848b"/><stop offset="0.861" stop-color="#917f84"/><stop offset="0.978" stop-color="#917f84"/></linearGradient><linearGradient id="g1_82" x1="0" x2="1" y1="0" y2="0"><stop offset="0.022" stop-color="#93757e"/><stop offset="0.142" stop-color="#a8848e"/><stop offset="0.261" stop-color="#b28e98"/><stop offset="0.381" stop-color="#b4969f"/><stop offset="0.501" stop-color="#b1939c"/><stop offset="0.621" stop-color="#ab8d96"/><stop offset="0.741" stop-color="#9c848b"/><stop offset="0.861" stop-color="#917f84"/><stop offset="0.978" stop-color="#917f84"/></linearGradient><linearGradient id="g1_83" x1="0" x2="1" y1="0" y2="0"><stop offset="0.022" stop-color="#93757e"/><stop offset="0.142" stop-color="#a8848e"/><stop offset="0.261" stop-color="#b28e98"/><stop offset="0.381" stop-color="#b4969f"/><stop offset="0.501" stop-color="#b1939c"/><stop offset="0.621" stop-color="#ab8d96"/><stop offset="0.741" stop-color="#9c848b"/><stop offset="0.861" stop-color="#917f84"/><stop offset="0.978" stop-color="#917f84"/></linearGradient><filter id="bl1" x="0" y="0" width="1" height="1"><feGaussianBlur stdDeviation="0.8"/></filter><filter id="bf1" x="-0.2" y="-0.2" width="1.4" height="1.4"><feGaussianBlur stdDeviation="9"/></filter><filter id="bb1" x="0" y="0" width="1" height="1"><feGaussianBlur stdDeviation="3"/></filter><clipPath id="c1"><rect x="517" y="36" width="439" height="399.7"/></clipPath></defs>
<g clip-path="url(#c1)">
<g filter="url(#bb1)">
<rect x="507" y="26" width="459" height="5.6" fill="url(#g1_0)"/>
<rect x="507" y="31" width="459" height="5.6" fill="url(#g1_1)"/>
<rect x="507" y="36" width="459" height="5.6" fill="url(#g1_2)"/>
<rect x="507" y="41" width="459" height="5.6" fill="url(#g1_3)"/>
<rect x="507" y="46" width="459" height="5.6" fill="url(#g1_4)"/>
<rect x="507" y="51" width="459" height="5.6" fill="url(#g1_5)"/>
<rect x="507" y="56" width="459" height="5.6" fill="url(#g1_6)"/>
<rect x="507" y="61" width="459" height="5.6" fill="url(#g1_7)"/>
<rect x="507" y="66" width="459" height="5.6" fill="url(#g1_8)"/>
<rect x="507" y="71" width="459" height="5.6" fill="url(#g1_9)"/>
<rect x="507" y="76" width="459" height="5.6" fill="url(#g1_10)"/>
<rect x="507" y="81" width="459" height="5.6" fill="url(#g1_11)"/>
<rect x="507" y="86" width="459" height="5.6" fill="url(#g1_12)"/>
<rect x="507" y="91" width="459" height="5.6" fill="url(#g1_13)"/>
<rect x="507" y="96" width="459" height="5.6" fill="url(#g1_14)"/>
<rect x="507" y="101" width="459" height="5.6" fill="url(#g1_15)"/>
<rect x="507" y="106" width="459" height="5.6" fill="url(#g1_16)"/>
<rect x="507" y="111" width="459" height="5.6" fill="url(#g1_17)"/>
<rect x="507" y="116" width="459" height="5.6" fill="url(#g1_18)"/>
<rect x="507" y="121" width="459" height="5.6" fill="url(#g1_19)"/>
<rect x="507" y="126" width="459" height="5.6" fill="url(#g1_20)"/>
<rect x="507" y="131" width="459" height="5.6" fill="url(#g1_21)"/>
<rect x="507" y="136" width="459" height="5.6" fill="url(#g1_22)"/>
<rect x="507" y="141" width="459" height="5.6" fill="url(#g1_23)"/>
<rect x="507" y="146" width="459" height="5.6" fill="url(#g1_24)"/>
<rect x="507" y="151" width="459" height="5.6" fill="url(#g1_25)"/>
<rect x="507" y="156" width="459" height="5.6" fill="url(#g1_26)"/>
<rect x="507" y="161" width="459" height="5.6" fill="url(#g1_27)"/>
<rect x="507" y="166" width="459" height="5.6" fill="url(#g1_28)"/>
<rect x="507" y="171" width="459" height="5.6" fill="url(#g1_29)"/>
<rect x="507" y="176" width="459" height="5.6" fill="url(#g1_30)"/>
<rect x="507" y="181" width="459" height="5.6" fill="url(#g1_31)"/>
<rect x="507" y="186" width="459" height="5.6" fill="url(#g1_32)"/>
<rect x="507" y="191" width="459" height="5.6" fill="url(#g1_33)"/>
<rect x="507" y="196" width="459" height="5.6" fill="url(#g1_34)"/>
<rect x="507" y="201" width="459" height="5.6" fill="url(#g1_35)"/>
<rect x="507" y="206" width="459" height="5.6" fill="url(#g1_36)"/>
<rect x="507" y="211" width="459" height="5.6" fill="url(#g1_37)"/>
<rect x="507" y="216" width="459" height="5.6" fill="url(#g1_38)"/>
<rect x="507" y="221" width="459" height="5.6" fill="url(#g1_39)"/>
<rect x="507" y="226" width="459" height="5.6" fill="url(#g1_40)"/>
<rect x="507" y="231" width="459" height="5.6" fill="url(#g1_41)"/>
<rect x="507" y="236" width="459" height="5.6" fill="url(#g1_42)"/>
<rect x="507" y="241" width="459" height="5.6" fill="url(#g1_43)"/>
<rect x="507" y="246" width="459" height="5.6" fill="url(#g1_44)"/>
<rect x="507" y="251" width="459" height="5.6" fill="url(#g1_45)"/>
<rect x="507" y="256" width="459" height="5.6" fill="url(#g1_46)"/>
<rect x="507" y="261" width="459" height="5.6" fill="url(#g1_47)"/>
<rect x="507" y="266" width="459" height="5.6" fill="url(#g1_48)"/>
<rect x="507" y="271" width="459" height="5.6" fill="url(#g1_49)"/>
<rect x="507" y="276" width="459" height="5.6" fill="url(#g1_50)"/>
<rect x="507" y="281" width="459" height="5.6" fill="url(#g1_51)"/>
<rect x="507" y="286" width="459" height="5.6" fill="url(#g1_52)"/>
<rect x="507" y="291" width="459" height="5.6" fill="url(#g1_53)"/>
<rect x="507" y="296" width="459" height="5.6" fill="url(#g1_54)"/>
<rect x="507" y="301" width="459" height="5.6" fill="url(#g1_55)"/>
<rect x="507" y="306" width="459" height="5.6" fill="url(#g1_56)"/>
<rect x="507" y="311" width="459" height="5.6" fill="url(#g1_57)"/>
<rect x="507" y="316" width="459" height="5.6" fill="url(#g1_58)"/>
<rect x="507" y="321" width="459" height="5.6" fill="url(#g1_59)"/>
<rect x="507" y="326" width="459" height="5.6" fill="url(#g1_60)"/>
<rect x="507" y="331" width="459" height="5.6" fill="url(#g1_61)"/>
<rect x="507" y="336" width="459" height="5.6" fill="url(#g1_62)"/>
<rect x="507" y="341" width="459" height="5.6" fill="url(#g1_63)"/>
<rect x="507" y="346" width="459" height="5.6" fill="url(#g1_64)"/>
<rect x="507" y="351" width="459" height="5.6" fill="url(#g1_65)"/>
<rect x="507" y="356" width="459" height="5.6" fill="url(#g1_66)"/>
<rect x="507" y="361" width="459" height="5.6" fill="url(#g1_67)"/>
<rect x="507" y="366" width="459" height="5.6" fill="url(#g1_68)"/>
<rect x="507" y="371" width="459" height="5.6" fill="url(#g1_69)"/>
<rect x="507" y="376" width="459" height="5.6" fill="url(#g1_70)"/>
<rect x="507" y="381" width="459" height="5.6" fill="url(#g1_71)"/>
<rect x="507" y="386" width="459" height="5.6" fill="url(#g1_72)"/>
<rect x="507" y="391" width="459" height="5.6" fill="url(#g1_73)"/>
<rect x="507" y="396" width="459" height="5.6" fill="url(#g1_74)"/>
<rect x="507" y="401" width="459" height="5.6" fill="url(#g1_75)"/>
<rect x="507" y="406" width="459" height="5.6" fill="url(#g1_76)"/>
<rect x="507" y="411" width="459" height="5.6" fill="url(#g1_77)"/>
<rect x="507" y="416" width="459" height="5.6" fill="url(#g1_78)"/>
<rect x="507" y="421" width="459" height="5.6" fill="url(#g1_79)"/>
<rect x="507" y="426" width="459" height="5.6" fill="url(#g1_80)"/>
<rect x="507" y="431" width="459" height="5.6" fill="url(#g1_81)"/>
<rect x="507" y="436" width="459" height="5.6" fill="url(#g1_82)"/>
<rect x="507" y="441" width="459" height="5.3" fill="url(#g1_83)"/>
</g>
<g filter="url(#bf1)">
<path d="M510,90 L600,86 L665,78 L690,82 L640,98 L580,114 L510,130 Z" fill="#af698c" opacity="0.75"/>
<path d="M562,72 L625,70 L625,88 L562,90 Z" fill="#46505e" opacity="0.8"/>
<path d="M510,132 L580,118 L690,86 L700,92 L600,130 L510,150 Z" fill="#82919a" opacity="0.55"/>
<path d="M752,62 L776,62 L800,200 L805,330 L770,330 L760,200 Z" fill="#c0aaa4" opacity="0.5"/>
<path d="M600,210 L660,210 L650,320 L590,320 Z" fill="#c39ca4" opacity="0.45"/>
<path d="M790,200 L956,190 L956,380 L800,370 Z" fill="#5a5f69" opacity="0.2"/>
</g>
<g filter="url(#bl1)">
<path d="M731 68l-2 -4M722 71l-3 -4M713 74l-2 -5M706 77l0 -4M706 77l2 -2M697 80l-1 -5M697 80l0 -3M697 80l-2 -4M688 84l2 -2M665 92l3 -3M635 103l-8 -10M635 103l-0 -10M619 110l2 -12M595 118l-1 -5M572 127l11 -15M572 128l0 -10M573 126l-0 -9M572 128l-1 -11M548 137l3 -20M547 137l2 -16M513 149l10 -11M513 149l0 -7M515 149l1 -17M515 149l6 -24M480 161l7 -25M482 164l6 -22M480 162l0 -19M435 178l15 -29M436 178l2 -12M435 177l-2 -20M383 195l-1 -32M388 196l-1 -12M389 196l-6 -27M385 194l7 -31M336 215l-9 -44M338 217l0 -17M332 216l-1 -33M335 217l3 -20M272 240l25 -41M271 239l-11 -41M279 241l-1 -15M215 265l3 -48M215 263l-6 -22M210 267l3 -19M214 263l-8 -15M209 264l5 -31M209 267l33 -48M134 298l-24 -35M129 294l-35 -13M119 295l3 -20M128 294l-3 -21M125 297l-2 -18M120 294l-2 -65M123 295l7 -26M39 329l20 -66M38 332l25 -21M29 333l-20 -72M43 331l29 -19M32 333l-41 -55M37 328l6 -53M30 330l-10 -16M36 330l6 -21M37 329l17 -58M35 332l10 -71M28 332l-44 -47M45 328l-17 -48M-82 370l4 -37M-71 373l17 -40M-73 367l40 -71M-86 371l18 -47M-77 369l44 -56M-87 373l36 -39M-85 372l8 -31M-68 367l-2 -85M-75 372l37 -45M-198 416l-17 -38M-190 413l-8 -71M-207 413l-12 -87M-192 413l14 -27M-208 419l-33 -42M-335 472l33 -75M-324 471l-66 -69M752 62l-1 -3M741 68l1 -4M735 71l-1 -5M729 74l-1 -2M730 74l1 -4M724 77l1 -3M724 77l2 -3M719 80l-0 -3M719 80l-0 -4M713 84l-3 -7M698 92l2 -6M688 97l0 -9M678 103l-2 -5M678 103l-3 -11M677 103l1 -6M667 110l-1 -5M664 110l-0 -13M653 118l6 -15M632 127l-1 -7M633 128l2 -9M634 127l5 -10M615 137l2 -8M616 137l1 -19M591 148l1 -12M593 148l2 -10M596 148l1 -24M568 163l11 -19M572 162l2 -16M549 179l4 -31M549 179l-0 -17M545 179l14 -9M543 177l2 -9M547 177l1 -32M543 177l-6 -14M509 196l-6 -35M513 197l4 -20M511 197l6 -21M507 196l-11 -21M511 196l-0 -32M509 196l13 -35M478 214l2 -46M483 216l-1 -27M481 216l7 -12M474 217l18 -31M483 217l6 -14M479 215l12 -21M432 239l-1 -27M434 241l-2 -43M438 237l16 -29M435 237l21 -33M436 238l-0 -16M390 266l-6 -17M395 264l24 -22M396 263l6 -23M387 264l11 -28M388 264l23 -55M398 265l-10 -19M386 264l-5 -45M384 267l-10 -51M394 265l-40 -41M330 297l10 -62M343 295l28 -51M330 298l-1 -57M334 294l-11 -30M331 295l-12 -16M340 296l10 -27M278 329l8 -33M276 329l12 -20M280 328l9 -40M262 329l8 -39M262 329l-6 -76M271 328l2 -37M206 370l-22 -47M207 367l35 -81M198 372l53 -44M202 371l-14 -28M109 416l-44 -38M109 415l-28 -87M102 419l5 -38M12 466l72 -88M19 470l-33 -56M756 62l-1 -4M753 65l0 -2M753 65l-1 -3M749 68l-0 -2M744 74l-4 -3M739 80l-1 -2M734 84l1 -3M736 84l-1 -7M727 92l1 -10M722 97l3 -6M723 97l7 -5M716 104l0 -5M715 103l-3 -9M709 110l4 -4M700 118l-1 -7M702 118l4 -9M694 126l0 -15M689 127l2 -5M691 126l3 -9M680 136l3 -15M683 137l-4 -4M668 149l3 -17M671 148l-1 -25M654 163l5 -19M659 163l-12 -23M654 162l11 -20M644 177l-5 -9M644 177l-4 -9M640 177l6 -7M642 179l4 -31M638 178l3 -12M621 197l1 -33M625 197l8 -28M621 196l1 -18M628 195l-5 -22M627 194l-4 -30M610 217l3 -16M609 217l3 -31M608 217l1 -15M609 217l-21 -35M601 216l-11 -37M607 216l-10 -30M612 217l-7 -14M581 239l8 -34M592 240l4 -27M581 238l6 -35M589 239l-1 -52M592 240l17 -47M587 238l-2 -48M582 239l2 -32M563 265l-18 -25M560 264l6 -24M557 266l-8 -33M556 264l5 -43M561 264l1 -20M555 263l-10 -15M560 266l-9 -58M566 263l-2 -14M557 266l5 -38M538 294l11 -60M538 297l-9 -44M524 297l8 -34M533 295l7 -52M529 296l6 -26M524 295l8 -65M528 298l25 -36M537 293l11 -31M537 295l13 -63M536 295l8 -42M529 295l13 -29M480 330l-35 -44M482 331l-35 -68M485 333l-37 -52M480 330l14 -48M482 330l15 -19M499 329l-16 -55M495 333l0 -21M486 331l-36 -47M456 368l-4 -33M469 371l-40 -52M463 371l-47 -63M392 414l1 -56M410 413l-25 -101M397 416l-47 -75M400 419l19 -16M406 412l-18 -60M418 418l-41 -82M341 469l-22 -58M366 471l56 -104M361 468l10 -37M759 65l-2 -4M758 68l-1 -4M754 77l-0 -2M755 77l2 -3M753 80l-0 -3M753 80l0 -3M751 88l0 -3M750 87l0 -3M749 92l1 -6M745 97l3 -11M745 97l4 -8M746 103l-5 -11M746 103l-1 -3M741 110l2 -12M739 118l-1 -9M738 117l5 -12M740 118l-6 -11M732 128l-2 -9M737 127l-0 -13M731 137l-5 -16M730 137l4 -13M729 138l-4 -23M733 137l8 -22M727 149l1 -25M725 149l0 -15M725 163l6 -29M723 163l-2 -26M722 162l2 -17M719 163l-7 -24M721 162l0 -15M722 179l-2 -8M721 177l-6 -27M722 179l4 -9M705 196l2 -22M706 194l-2 -14M714 195l-5 -37M712 194l-2 -32M706 194l-12 -32M710 195l5 -26M703 217l4 -20M703 217l-10 -43M708 215l-12 -40M698 215l-5 -26M698 214l-6 -16M687 238l-21 -45M686 240l10 -36M699 238l-1 -30M695 241l11 -32M695 240l-2 -25M688 238l-6 -13M693 240l2 -24M696 237l1 -16M693 239l-6 -32M680 267l16 -35M675 264l-14 -31M688 266l7 -17M685 265l-6 -40M678 265l-6 -24M678 267l26 -39M679 266l19 -45M686 264l-10 -57M680 267l1 -35M679 296l17 -27M678 294l16 -47M681 296l6 -37M679 295l6 -17M669 295l-9 -38M679 294l-7 -60M675 295l19 -41M670 297l-4 -52M675 295l21 -30M667 298l-6 -18M644 333l-23 -53M655 329l5 -49M646 333l0 -21M655 330l-10 -54M656 332l-3 -26M654 328l-2 -30M661 330l-1 -37M653 333l-4 -31M655 331l2 -29M661 329l-12 -67M644 370l-5 -56M645 371l32 -25M651 370l-5 -20M645 373l-19 -89M643 370l-4 -23M643 370l12 -34M655 368l-1 -62M636 367l-24 -79M646 370l-10 -20M612 413l13 -44M623 419l6 -33M622 419l-4 -51M614 469l-36 -41M616 464l-53 -60M613 470l-87 -54M624 471l-68 -69M628 472l3 -90M762 62l0 -1M762 62l0 -2M762 65l1 -3M761 65l-1 -4M761 68l-2 -4M762 68l-0 -2M760 71l1 -4M760 74l0 -1M760 77l-1 -1M760 77l-0 -3M761 80l-3 -4M761 80l1 -7M759 84l3 -5M760 87l1 -4M761 88l0 -4M761 92l-5 -4M759 92l-0 -3M759 98l-7 -6M758 97l-1 -3M759 103l0 -4M761 103l-0 -4M761 103l-0 -4M759 110l-5 -11M761 111l1 -11M760 110l6 -5M759 118l-1 -8M758 119l1 -6M757 118l-2 -12M758 118l0 -7M758 127l1 -5M760 126l3 -19M761 127l-0 -12M757 127l-0 -5M759 136l-3 -7M751 148l-4 -23M753 149l6 -13M756 148l3 -23M758 163l-11 -18M753 163l6 -20M754 162l11 -15M753 161l11 -25M756 162l-8 -16M754 179l-0 -18M759 179l-7 -22M751 196l-5 -32M753 195l2 -23M754 194l5 -25M750 195l-5 -25M748 197l-17 -29M752 196l8 -23M751 194l-2 -18M753 195l-9 -11M751 195l10 -34M754 195l5 -20M760 214l-9 -36M750 216l-10 -19M749 216l3 -42M755 240l-9 -41M753 240l6 -16M752 238l-13 -11M759 240l-4 -38M746 240l22 -30M750 240l9 -41M750 240l-2 -12M757 240l2 -30M756 239l18 -30M758 240l9 -47M756 238l-13 -36M757 238l-9 -31M756 239l-2 -44M751 264l-4 -38M746 267l-12 -14M741 267l2 -47M742 297l-8 -17M738 297l9 -54M743 295l-13 -63M743 294l-12 -20M749 331l-7 -18M747 329l18 -51M732 333l33 -50M744 330l2 -29M746 333l-8 -34M738 329l18 -25M733 329l29 -57M737 367l17 -58M739 367l8 -46M742 371l16 -87M742 368l1 -23M732 368l6 -56M733 373l2 -41M736 373l19 -23M748 412l-27 -67M729 469l-8 -106M723 470l20 -40M744 469l-3 -90M745 464l-22 -30M764 65l2 -3M765 68l5 -2M766 71l-1 -5M766 74l-0 -2M766 74l-2 -5M767 77l1 -4M768 80l0 -6M770 84l1 -2M769 84l1 -3M770 92l-1 -9M771 92l1 -4M773 97l0 -10M775 103l-4 -11M775 104l0 -4M776 110l-3 -12M775 110l3 -13M775 110l2 -14M778 110l-5 -15M777 118l7 -8M780 118l6 -9M777 118l2 -14M777 118l-3 -8M780 126l1 -14M784 137l-2 -11M784 137l-6 -21M786 150l1 -8M783 150l5 -16M793 164l16 -19M788 162l5 -24M786 162l-0 -20M793 162l-9 -16M793 179l3 -35M797 177l9 -27M797 179l4 -19M792 178l-17 -30M791 177l1 -8M795 195l6 -16M804 195l11 -30M804 196l-22 -33M803 195l5 -11M804 194l-7 -24M807 217l-1 -11M809 214l0 -27M804 216l3 -13M810 217l-21 -22M810 217l-0 -41M817 237l-5 -26M809 241l8 -10M812 240l-25 -46M820 268l-24 -45M822 264l9 -56M816 265l-8 -43M820 267l-2 -52M818 296l27 -53M817 296l20 -28M829 294l-0 -31M833 294l6 -19M825 296l-15 -63M822 297l-32 -44M825 296l33 -33M841 328l-21 -68M856 371l3 -23M859 373l35 -45M840 371l-7 -55M843 372l10 -27M855 369l-18 -78M860 368l14 -75M848 418l-4 -36M846 418l20 -43M848 419l-0 -40M859 416l5 -95M888 469l21 -79M870 472l-9 -39M766 62l1 -2M768 65l-0 -4M768 65l0 -5M772 71l1 -2M773 74l0 -1M775 77l-1 -5M775 77l1 -5M777 80l1 -4M779 83l-2 -5M779 84l-1 -7M779 83l2 -8M782 88l-0 -3M785 92l2 -3M784 92l-3 -10M785 92l-2 -6M788 98l0 -7M794 103l-5 -7M802 118l7 -13M803 118l-7 -14M802 117l2 -14M808 126l-3 -6M806 128l-1 -14M807 127l4 -10M812 137l-2 -10M810 138l3 -19M814 137l9 -17M811 137l-16 -14M812 138l-15 -10M816 137l2 -6M821 148l0 -11M817 149l-11 -15M821 148l-6 -19M828 163l1 -9M827 163l-4 -30M839 178l-6 -20M841 179l-3 -27M841 179l0 -25M838 178l-5 -29M841 177l7 -12M836 179l4 -19M840 177l-9 -12M840 178l4 -9M852 194l14 -36M852 195l0 -20M845 197l-8 -23M847 194l20 -20M867 216l6 -22M858 216l5 -15M868 215l8 -19M863 214l0 -24M864 216l16 -34M862 216l-8 -14M866 216l-12 -43M860 214l6 -17M864 217l17 -35M857 216l10 -30M880 240l16 -33M874 240l18 -34M871 237l22 -42M873 240l13 -33M879 239l6 -18M872 240l-1 -37M871 237l-9 -49M899 263l0 -46M900 265l4 -38M894 264l12 -28M895 267l-10 -23M891 267l-9 -57M901 264l5 -32M889 267l31 -25M894 265l-10 -33M908 296l6 -16M909 297l-9 -36M911 296l-3 -63M908 296l3 -65M917 295l-11 -54M914 295l-17 -17M905 294l-1 -20M905 293l4 -16M909 297l-20 -47M932 331l-3 -71M943 332l6 -26M945 328l-1 -30M942 332l18 -45M941 331l18 -68M936 333l-9 -54M946 372l-6 -48M956 371l7 -80M949 368l27 -79M951 373l12 -71M944 373l-29 -64M960 372l5 -34M983 415l9 -60M1007 468l19 -109M768 62l1 -2M769 62l-2 -3M772 65l-1 -3M774 68l2 -3M780 74l-3 -5M787 80l3 -3M790 84l1 -6M790 84l1 -3M800 92l2 -2M806 97l-2 -2M806 97l-1 -12M809 103l3 -4M809 103l2 -5M819 110l1 -15M815 110l1 -12M826 117l-2 -7M843 137l1 -10M843 137l-5 -4M843 136l4 -17M848 137l0 -10M843 137l-5 -16M862 148l1 -23M858 150l7 -17M872 162l4 -21M871 162l1 -17M870 162l-11 -28M870 162l-2 -8M868 163l4 -20M872 162l5 -15M890 179l-8 -27M885 179l-1 -8M889 177l-11 -19M909 195l-3 -19M904 195l-2 -24M906 195l2 -29M909 194l-6 -37M910 197l-4 -15M905 195l1 -39M921 216l4 -37M921 214l8 -40M920 215l-17 -31M944 238l-9 -42M942 241l4 -12M953 240l1 -17M943 241l2 -19M974 264l-8 -56M978 264l20 -48M969 268l-0 -17M982 266l26 -35M970 267l-15 -29M1002 296l8 -25M1005 296l16 -19M999 298l18 -39M1003 293l5 -17M1001 296l4 -66M1011 295l-8 -47M1003 295l-13 -58M1005 294l-8 -27M999 298l-33 -55M1011 295l8 -45M1002 295l-20 -22M1043 329l-5 -70M1035 332l2 -21M1029 331l1 -32M1036 330l-0 -21M1078 367l-9 -31M1090 369l-49 -65M1089 370l-6 -61M1084 371l12 -60M1083 372l41 -42M1078 370l22 -66M1081 373l-11 -39M1131 417l27 -31M1125 416l78 -61M1182 472l-23 -62M1165 471l-11 -81M1194 467l36 -96M776 65l3 -4M775 65l1 -5M783 71l4 -2M794 77l-2 -6M793 77l0 -2M797 80l-1 -6M802 83l-2 -6M808 87l-0 -3M808 87l0 -5M816 92l2 -2M814 92l-0 -5M830 103l8 -9M832 104l6 -6M832 103l-1 -3M831 103l-0 -8M840 110l3 -13M843 110l-2 -6M866 127l2 -11M867 127l2 -7M864 128l-10 -13M903 150l0 -18M898 150l-2 -10M903 149l7 -26M902 149l-2 -10M897 150l5 -21M903 149l-11 -8M920 163l6 -20M916 163l-2 -30M913 162l4 -25M939 178l2 -26M938 177l-20 -28M942 178l3 -8M937 178l3 -11M942 179l13 -17M973 197l-2 -36M971 195l4 -36M965 197l1 -34M969 195l-6 -35M968 197l-0 -22M972 195l-4 -39M994 216l3 -26M1002 216l-30 -29M993 216l-4 -23M994 217l-2 -39M1000 217l1 -44M1029 239l-14 -31M1030 237l-2 -15M1026 240l2 -42M1029 238l-9 -17M1027 239l-9 -27M1023 239l-0 -18M1067 266l-0 -38M1068 267l7 -32M1080 267l-2 -16M1069 265l-11 -30M1072 267l-5 -59M1069 263l-0 -15M1125 298l12 -64M1122 294l18 -44M1124 295l4 -58M1123 295l1 -45M1118 294l0 -33M1111 294l-3 -27M1113 295l20 -66M1116 296l4 -27M1161 332l23 -52M1170 333l8 -38M1162 330l-6 -40M1167 329l21 -61M1168 330l-7 -20M1157 333l4 -30M1163 331l13 -32M1171 330l8 -44M1159 332l-18 -68M1158 329l-9 -54M1237 373l4 -48M1234 372l-1 -48M1221 371l-20 -42M1224 369l12 -57M1292 413l-13 -84M1291 416l21 -99M1366 470l-19 -51M1380 468l-29 -104M1366 471l-29 -99M680 270l3 -3M554 295l4 -10M700 365l-6 -12M524 77l1 -3M751 230l4 -3M634 320l12 -12M890 246l-9 -8M935 131l3 -2M531 248l5 -4M755 76l2 -4M925 323l7 -4M681 185l2 -9M536 281l-6 -4M596 318l4 -10M908 346l-6 -6M783 241l-4 -4M543 311l-9 -6M944 92l5 -3M635 186l-2 -8M713 216l6 -7M852 201l-6 -7M719 319l11 -11M591 225l-6 -4M609 306l-3 -12M909 144l-4 -2M693 155l5 -3M676 185l2 -7M682 214l0 -7M698 321l7 -10M724 65l-2 -1M551 322l-6 -12M950 204l-7 -3M720 116l3 -4M632 353l-3 -12M554 190l5 -6M902 209l7 -5M601 235l-8 -4M835 175l6 -8M582 242l2 -6M956 103l3 -1M585 153l-5 -6M900 329l3 -5M814 109l2 -2M703 115l6 -3M581 154l-1 -4M612 274l4 -11M673 190l1 -2M950 347l4 -7M561 364l-4 -15M834 222l3 -5M797 331l-3 -3M520 97l1 -2M933 64l4 -2M603 117l-5 -5M820 265l-4 -4M682 235l2 -9M690 119l2 -6M816 137l-3 -4M704 350l11 -6M827 328l-9 -11M843 68l-1 -4M683 106l-1 -3M653 232l-3 -9M956 307l1 -8M796 436l-2 -17M648 185l-5 -3M524 140l-3 -5M637 340l-1 -4M519 106l3 -6M596 94l4 -4M692 384l-6 -18M941 368l-9 -6M699 97l-1 -1M623 115l-4 -3M873 222l-6 -10M746 59l-4 -3M770 110l6 -4M731 251l-6 -10M934 410l-6 -12M667 316l-10 -8M908 258l8 -4M855 125l6 -3M897 336l-12 -5M543 210l2 -4M726 185l-1 -5M657 158l-4 -5M876 388l-6 -6M874 193l-1 -6M788 141l-1 -6M748 247l4 -5M773 238l-7 -4M605 209l-1 -3M637 109l-4 -4M570 151l0 -4M689 307l-13 -7M550 148l-5 -6M725 74l1 -2M653 113l2 -1M786 136l-4 -7M779 172l-2 -8M932 74l-1 -2M643 193l-3 -1M875 161l2 -5M824 68l-2 -4M943 294l4 -5M773 59l1 -2M546 195l0 -3M943 113l-3 -6M832 75l3 -3M941 231l6 -8M648 234l6 -3M894 146l3 -2M811 197l1 -4M856 176l0 -4M797 212l-8 -6M803 112l-3 -3M948 321l-1 -7M854 400l-13 -15M895 83l2 -2M723 366l6 -18M551 195l-5 -3M786 422l-6 -13M956 83l-2 -1M673 274l4 -12M834 153l4 -3M749 211l-4 -3M826 368l12 -6M581 333l5 -11M617 128l0 -7M662 397l12 -8M576 115l-0 -3M815 126l-3 -5M791 336l-10 -13M626 280l-0 -14M595 104l3 -4M891 152l3 -7M797 59l0 -5M638 187l-7 -3M645 81l-2 -2M915 113l-2 -3M859 162l3 -2M770 118l2 -3M639 177l-4 -2M648 193l-4 -5M918 393l-7 -4M614 296l6 -10M951 116l1 -7M574 68l1 -1M806 132l2 -4M529 136l2 -4M837 131l6 -3M821 305l2 -7M701 277l2 -7M702 312l10 -12M863 413l-3 -6M886 324l-10 -5M645 95l5 -4M675 298l5 -7M542 184l-4 -7M671 165l6 -5M753 81l-3 -2M801 126l3 -5M777 143l-4 -5M944 315l-4 -4M755 107l2 -2M933 168l-6 -6M734 155l3 -7M779 148l3 -2M905 419l5 -11M650 109l2 -2M520 174l-0 -3M825 309l6 -6M947 239l-5 -12M649 89l1 -2M907 165l1 -8M527 332l6 -10M763 181l4 -2M668 182l-5 -5M709 60l4 -3M820 330l1 -13M772 368l-4 -6M640 275l-2 -5M682 315l-0 -7M867 150l1 -3M926 250l10 -8M948 228l8 -9M686 130l4 -5M904 291l-13 -6M595 80l2 -4M641 126l0 -2M597 110l0 -6M599 403l8 -13M931 238l3 -4M743 135l5 -6M599 323l-12 -11M730 237l-2 -7M571 108l1 -2M622 228l-7 -9M592 322l12 -8M896 97l-0 -2M874 116l3 -6M739 214l-6 -9M736 131l5 -4M612 184l6 -5M783 94l1 -1M804 409l3 -6M637 69l1 -3M663 172l-4 -6M889 220l3 -3M591 419l1 -8M915 99l0 -3M611 138l-3 -6M781 109l2 -4M905 418l10 -10M827 145l2 -3M590 316l3 -6M794 324l-10 -6M707 414l1 -19M757 113l0 -2M598 291l-1 -7M739 252l-8 -9M758 300l1 -11M581 370l-15 -10M739 139l4 -7M785 424l5 -7M743 155l3 -2M585 346l-11 -6M798 376l-4 -12M831 144l-1 -2M628 425l-8 -4M646 322l-11 -8M882 155l-3 -2M619 328l10 -4M846 179l5 -8M809 136l4 -2M950 70l-3 -3M608 151l-2 -5M580 213l-0 -3M862 400l5 -14M618 146l4 -3M597 338l-12 -5M851 225l-3 -3M551 76l1 -1M624 330l-2 -13M575 112l5 -3M714 65l1 -1M831 77l-1 -5M721 154l-2 -2M540 233l-5 -3M540 124l1 -5M850 400l-10 -13M722 277l3 -4M534 303l5 -11M851 324l-5 -5M808 357l-14 -11M720 354l-1 -6M653 246l-7 -10M571 345l-10 -7M909 61l-1 -4M946 71l-3 -1M559 116l1 -2M777 283l-1 -9M690 198l8 -5M882 395l-4 -4M649 423l0 -8M844 285l5 -4M716 357l-16 -7M938 310l-1 -12M903 284l12 -7M854 117l3 -6M926 92l-1 -3M598 278l1 -13M850 275l-8 -4M866 100l-1 -4M791 342l6 -12M598 322l2 -7M639 314l-7 -13M681 80l3 -2M920 77l0 -2M556 285l-2 -14M744 285l-10 -7M524 302l2 -9M823 243l-2 -13M953 402l6 -6M934 208l3 -11M934 112l-4 -6M590 381l-3 -3M639 99l0 -4M894 398l2 -10M671 388l-14 -13M523 261l1 -7M940 210l-10 -5M881 176l-2 -2M596 75l-1 -3M619 129l-1 -3M896 119l2 -4M820 173l-1 -4M808 198l1 -9M710 139l-1 -5M684 352l-4 -3M604 189l-4 -5M641 338l1 -6M634 125l-1 -7M893 122l-1 -3M919 419l7 -4M931 410l-9 -14M822 352l1 -18M933 142l4 -6M598 139l0 -3M911 224l-0 -5M647 167l3 -3M640 95l1 -5M935 361l-16 -7M667 225l-2 -4M710 75l0 -1M712 201l10 -4M606 222l-7 -7M798 227l-4 -5M942 306l4 -12M593 267l9 -10M820 152l-7 -5M786 203l1 -10M714 76l-1 -2M685 123l6 -4M915 304l7 -3M759 118l5 -5M545 145l-6 -6M591 110l-4 -6M850 160l-1 -8M920 314l10 -13M671 391l0 -10M876 402l7 -12M865 388l-5 -10M781 106l-4 -4M527 250l1 -5M661 264l6 -12M673 327l-13 -7M844 183l3 -5M590 91l3 -2M742 137l-1 -2M568 308l-10 -12M534 304l-2 -4M729 99l-3 -4M565 180l4 -8" stroke="#69787d" stroke-opacity="0.60" stroke-width="1.8" fill="none" stroke-linecap="round"/>
<path d="M746 62l-1 -3M746 62l-1 -1M737 65l-1 -4M737 65l0 -1M738 65l1 -5M730 68l1 -4M722 71l3 -4M713 74l-0 -2M689 84l2 -7M679 87l1 -3M666 92l4 -4M637 103l-4 -10M618 110l2 -9M618 111l-3 -13M616 110l-0 -9M574 127l8 -19M571 127l5 -18M544 137l-18 -14M548 137l0 -11M549 138l-1 -9M515 148l18 -18M476 163l-0 -13M475 163l-4 -9M478 162l1 -18M434 177l-8 -24M385 197l5 -11M392 195l4 -10M328 217l22 -38M330 214l-4 -14M333 216l-4 -14M328 216l-2 -14M336 215l-22 -25M336 217l-10 -28M328 214l14 -19M276 241l8 -22M277 238l2 -29M274 237l-1 -12M208 267l7 -28M204 263l14 -43M204 267l-16 -24M201 265l-1 -18M125 293l-7 -25M132 297l17 -55M134 297l-40 -39M128 295l14 -39M123 295l-1 -44M37 331l23 -70M37 329l-9 -41M42 332l-8 -60M34 330l30 -73M37 331l-44 -59M41 329l6 -54M44 332l-2 -36M-74 372l4 -81M-67 369l-16 -64M-76 370l24 -57M-68 369l-1 -75M-200 415l-12 -22M-190 416l2 -45M-200 414l-6 -27M-193 412l-9 -35M-335 464l29 -58M751 62l-0 -2M746 65l-0 -3M735 71l1 -4M706 88l2 -2M706 88l-0 -4M706 87l0 -4M696 92l-0 -3M696 92l-2 -7M679 103l2 -4M665 110l-1 -4M667 110l-1 -8M650 118l4 -9M636 127l1 -7M633 126l1 -6M620 136l-0 -10M597 149l-6 -20M591 149l-0 -13M597 150l-5 -6M570 162l12 -18M571 163l-5 -9M566 163l-7 -22M565 163l3 -19M571 162l-1 -13M570 162l3 -27M541 178l-7 -14M541 178l6 -21M547 177l2 -26M545 178l4 -10M545 177l7 -12M475 215l-11 -32M475 215l1 -24M474 217l-22 -26M441 238l0 -36M436 238l-4 -27M434 240l-2 -22M428 240l-8 -35M429 240l30 -27M433 239l-4 -43M441 238l11 -22M433 239l-4 -18M433 239l-17 -22M397 264l23 -45M392 266l-16 -23M384 266l-3 -26M264 329l3 -29M274 329l-9 -66M274 332l-11 -35M277 328l-17 -44M275 333l-56 -45M272 332l-12 -23M215 367l-13 -20M200 372l22 -39M200 371l-30 -81M207 367l-20 -67M204 372l-14 -68M103 419l5 -88M27 469l-21 -67M30 469l-7 -51M751 68l-1 -4M740 77l-0 -5M730 87l1 -7M730 88l2 -5M727 92l-1 -5M721 97l3 -7M714 104l4 -9M708 110l-1 -4M706 110l-0 -4M708 110l-2 -5M703 118l-4 -5M694 127l-5 -10M682 137l-7 -18M681 137l-5 -12M671 149l2 -24M655 163l1 -23M652 162l5 -14M655 163l-0 -10M622 196l-3 -17M620 195l3 -34M610 216l6 -13M603 214l0 -11M611 216l-4 -14M607 217l-9 -25M592 241l-21 -26M592 238l4 -34M592 238l3 -50M582 237l7 -28M583 238l-21 -41M582 237l23 -33M562 263l-16 -48M567 267l3 -31M555 268l-5 -33M555 266l-8 -44M562 266l-2 -50M556 266l8 -19M538 294l16 -37M530 296l-20 -58M527 297l0 -16M523 293l-12 -54M490 331l-12 -61M481 329l-33 -49M484 329l14 -68M489 329l-1 -47M450 372l-0 -33M395 416l10 -55M395 419l-25 -65M364 468l67 -74M760 62l1 -2M756 71l1 -2M753 80l1 -5M751 83l3 -5M751 88l0 -2M749 92l5 -8M748 92l-1 -5M746 97l-3 -8M743 103l-3 -9M740 111l-1 -8M741 110l1 -13M742 118l8 -14M741 118l-4 -9M732 127l-6 -11M734 126l5 -12M733 137l2 -8M726 149l0 -20M726 150l4 -10M724 162l6 -17M719 162l-2 -29M722 179l1 -11M719 179l0 -17M721 178l-1 -14M721 177l-1 -35M711 195l-5 -24M712 195l-3 -33M707 195l-5 -18M712 195l-16 -10M701 216l17 -30M701 214l-12 -32M703 215l13 -39M697 216l-5 -19M691 238l4 -25M674 267l9 -42M680 266l-11 -49M674 266l-4 -56M677 267l19 -20M686 266l14 -57M683 298l31 -53M680 297l-1 -20M669 293l-8 -40M674 295l5 -24M679 297l23 -42M663 328l3 -41M654 329l1 -49M648 370l-17 -37M652 372l4 -33M653 372l4 -28M640 367l-16 -50M642 370l-20 -44M613 413l-17 -25M759 103l0 -7M759 110l-3 -7M758 119l-6 -6M759 127l-13 -11M759 138l11 -18M757 137l3 -19M757 137l-1 -14M759 137l-9 -20M756 148l-13 -18M756 149l-7 -13M758 162l12 -24M753 162l-1 -11M754 162l-7 -19M755 162l-3 -6M752 163l-2 -20M754 177l-10 -28M751 197l2 -12M749 196l-7 -14M749 196l4 -29M755 216l9 -14M753 217l-8 -12M753 216l17 -23M753 239l1 -28M755 267l-9 -35M747 267l-9 -17M744 266l-15 -50M753 265l2 -49M753 264l-6 -27M746 294l16 -50M740 293l8 -32M747 295l7 -47M740 331l-1 -22M749 333l4 -29M749 332l1 -46M742 371l-19 -39M746 370l11 -79M740 369l-23 -85M741 367l3 -54M753 418l9 -47M719 468l-2 -104M763 62l1 -5M765 68l1 -5M766 71l-0 -3M766 74l-1 -1M769 77l0 -2M768 80l4 -4M768 80l2 -3M772 92l-1 -3M775 97l1 -7M773 97l-1 -10M774 103l2 -12M776 103l4 -7M775 103l-4 -12M780 118l-4 -15M778 118l-1 -10M780 127l-1 -10M784 138l-10 -10M781 137l10 -10M785 149l10 -20M783 148l14 -20M787 148l-2 -7M784 149l-8 -16M786 162l5 -16M792 163l0 -13M793 177l-2 -8M793 177l13 -33M790 178l-1 -32M792 178l-6 -26M797 178l12 -25M803 195l5 -22M797 196l1 -29M808 239l13 -17M811 241l-5 -23M818 239l-12 -38M816 240l-7 -23M819 237l1 -46M819 238l10 -52M819 241l14 -34M815 239l-4 -23M819 238l-6 -30M821 264l9 -50M815 267l19 -45M821 267l-13 -27M819 266l-48 -31M825 263l-10 -25M819 294l-2 -16M832 294l0 -64M827 294l-9 -30M831 295l5 -29M821 294l1 -51M831 295l-20 -46M827 294l23 -49M843 330l-8 -71M844 328l-4 -34M846 328l-39 -69M840 332l3 -51M838 331l-5 -68M838 328l-20 -51M844 328l-36 -52M847 370l14 -36M843 368l5 -54M842 373l3 -21M858 369l-4 -43M855 416l-7 -29M853 418l-6 -97M867 416l13 -22M866 472l17 -88M888 464l-48 -91M772 71l-2 -5M778 80l3 -6M787 97l-4 -4M787 97l1 -5M796 110l3 -6M796 110l8 -10M808 126l2 -5M823 148l-13 -21M822 149l6 -10M825 161l4 -6M829 162l-4 -30M829 163l-3 -13M825 162l2 -9M834 177l13 -9M842 178l11 -31M848 194l25 -31M848 195l7 -28M849 196l-9 -33M863 217l29 -19M880 239l23 -30M873 240l-4 -18M875 239l-10 -52M872 238l-1 -15M896 267l-1 -42M906 294l5 -51M916 294l-5 -29M908 297l-3 -55M903 294l-7 -45M901 296l-34 -52M937 329l-10 -47M943 328l13 -30M930 333l-1 -73M933 332l30 -54M946 367l-28 -29M957 368l0 -65M950 367l34 -64M944 370l2 -30M951 368l-17 -24M963 373l-1 -24M990 414l-11 -53M990 418l23 -67M975 413l34 -77M1023 472l-9 -52M786 80l0 -4M791 83l-1 -4M790 84l-3 -4M795 87l2 -5M799 92l-0 -3M804 97l0 -4M810 103l-4 -4M810 103l0 -5M818 110l-1 -9M825 118l3 -11M824 117l2 -5M822 118l1 -5M835 128l-7 -17M838 127l-1 -8M837 128l-5 -7M847 138l-7 -12M845 137l2 -5M843 136l-5 -11M860 150l4 -6M859 148l-6 -16M870 162l-2 -15M883 178l5 -13M891 179l-2 -10M909 196l6 -13M905 196l4 -32M920 214l-4 -22M926 215l-4 -42M944 238l3 -20M944 240l8 -21M979 266l6 -24M978 266l7 -39M970 265l-15 -27M974 265l-10 -42M974 264l-22 -17M979 265l25 -45M1004 294l-27 -57M1009 294l6 -40M1008 294l13 -23M1009 294l3 -20M1013 296l-39 -56M1004 298l-0 -17M1013 295l-26 -36M1031 331l-18 -46M1031 332l2 -50M1041 328l3 -73M1030 333l7 -19M1032 332l1 -24M1046 330l0 -32M1090 373l72 -40M1068 369l22 -87M1075 370l3 -90M1071 368l18 -35M1084 368l9 -74M1112 416l-17 -102M1120 412l3 -58M1172 465l-21 -63M771 62l2 -3M780 68l-1 -5M783 71l-2 -2M789 74l1 -1M797 80l0 -3M802 83l0 -2M809 88l-0 -4M808 87l1 -5M816 92l1 -6M843 110l-4 -12M855 119l-14 -10M863 126l-6 -7M884 138l3 -9M884 137l0 -12M881 137l1 -19M882 137l1 -15M904 148l-4 -24M900 149l-1 -16M917 163l6 -26M919 162l9 -27M967 194l9 -35M968 196l3 -27M968 194l-7 -34M974 195l-4 -39M1001 216l-15 -41M998 215l13 -28M998 215l7 -31M995 215l-9 -36M1003 217l-5 -31M999 215l-13 -30M1002 216l-8 -28M1001 215l-4 -23M996 215l-2 -19M1028 238l-15 -32M1024 241l-4 -16M1029 240l-13 -36M1025 240l-3 -47M1026 238l-1 -34M1029 240l-1 -42M1069 267l-20 -57M1073 264l-19 -31M1080 267l-16 -36M1112 295l2 -28M1115 293l-25 -34M1109 294l-1 -59M1118 296l-2 -56M1175 330l8 -48M1165 332l-25 -65M1240 367l-11 -56M1240 371l-9 -50M1239 373l-2 -51M1224 371l-4 -81M1294 414l-3 -43M1292 413l7 -83M1280 417l-37 -80M1380 464l-33 -58M817 280l-12 -5M688 157l2 -1M622 142l2 -8M605 289l9 -5M546 143l-1 -4M860 113l4 -3M831 381l4 -4M915 381l-4 -10M569 82l1 -2M537 69l5 -3M928 372l8 -13M804 397l4 -6M801 364l5 -5M937 230l-4 -5M635 247l3 -3M740 216l0 -7M743 282l5 -9M793 257l5 -9M724 386l-10 -5M564 281l-2 -9M616 331l-9 -4M672 310l5 -8M776 212l2 -2M545 76l-1 -5M865 310l-4 -8M579 423l-17 -9M849 99l0 -4M938 282l3 -5M945 397l6 -14M802 394l18 -9M782 90l-2 -1M674 210l-7 -7M536 203l-5 -5M591 135l1 -6M866 421l-2 -7M838 71l3 -4M589 108l4 -2M713 231l0 -6M772 380l-13 -9M910 108l-5 -3M749 95l0 -2M814 119l0 -3M652 312l-1 -7M859 199l6 -6M624 332l-8 -9M747 138l-1 -4M534 405l-6 -3M912 187l-5 -3M640 114l-2 -1M520 113l-0 -4M581 378l4 -7M659 422l-2 -7M858 351l-7 -9M590 211l-1 -4M864 122l1 -2M572 394l2 -5M534 412l14 -6M820 140l3 -5M790 402l10 -15M892 412l5 -18M884 68l-0 -2M745 304l-8 -4M524 425l1 -14M525 178l5 -4M518 164l3 -4M519 385l-13 -7M596 74l1 -4M830 274l9 -10M614 79l-3 -3M518 156l0 -5M797 109l2 -3M585 96l1 -1M751 249l-5 -10M921 229l10 -4M534 426l8 -15M627 346l-9 -14M597 134l6 -5M657 162l-4 -5M736 339l-8 -3M713 329l4 -8M663 302l8 -12M928 377l-10 -6M678 220l1 -3M738 71l1 -3M787 133l-3 -7M539 91l-5 -3M717 85l2 -2M642 105l1 -4M781 176l-3 -5M536 122l5 -4M654 237l4 -4M679 184l7 -5M645 83l2 -1M671 98l-1 -1M534 347l-3 -12M701 106l-2 -1M819 197l-0 -3M605 303l4 -5M800 379l-7 -11M518 80l3 -5M598 122l-4 -3M595 99l-2 -5M615 257l6 -11M949 285l-1 -5M857 423l-1 -13M785 390l-18 -8M671 341l-13 -8M815 241l-6 -4M895 90l0 -5M583 172l3 -5M668 380l-6 -5M587 73l1 -3M545 69l-1 -2M943 80l-1 -3M766 111l2 -4M582 119l1 -4M698 392l4 -6M794 66l1 -3M758 86l-2 -3M567 386l-4 -3M859 94l-4 -3M557 68l-0 -5M579 59l1 -2M878 414l-3 -7M832 61l-0 -3M947 228l-8 -4M884 392l7 -7M879 236l2 -7M825 279l-3 -14M797 399l-4 -11M764 361l-3 -5M923 234l-5 -10M777 128l5 -2M803 182l1 -3M647 373l12 -16M546 162l5 -3M738 226l-8 -8M526 391l10 -17M559 389l1 -7M551 233l5 -11M734 185l-4 -3M855 269l-1 -4M578 117l-5 -2M952 71l1 -2M571 310l-9 -12M734 230l5 -11M930 375l-8 -4M694 431l-3 -10M577 292l3 -3M638 108l1 -1M527 145l-4 -3M913 300l4 -3M690 154l6 -6M918 409l5 -8M796 340l6 -6M852 97l-4 -3M765 324l-2 -7M790 83l-1 -1M676 71l0 -3M700 415l-10 -7M567 59l-3 -2M689 95l4 -4M584 150l2 -2M858 286l-2 -5M601 322l-3 -11M725 143l-0 -5M901 433l10 -4M787 216l5 -8M896 75l-0 -1M702 205l1 -10M936 371l4 -3M847 311l3 -12M722 240l-5 -12M936 376l8 -11M523 92l2 -2M858 380l-3 -13M881 84l-2 -2M723 349l0 -7M917 383l-3 -7M804 333l1 -7M714 278l-4 -3M558 281l-0 -5M894 271l-6 -3M843 395l1 -5M742 109l1 -2M942 271l-3 -3M724 102l2 -2M634 231l-3 -4M831 265l5 -5M601 132l-4 -3M702 229l2 -3M632 311l-9 -6M746 259l8 -5M528 372l-11 -9M775 363l-13 -14M534 304l4 -9M598 339l-3 -5M583 280l-9 -7M643 123l-2 -6M719 303l-9 -6M529 212l2 -10M869 64l3 -2M943 149l-4 -7M724 373l-6 -9M621 202l-3 -4M864 223l1 -8M674 287l-11 -7M829 349l-9 -9M944 139l-0 -3M605 323l-0 -9M652 149l-0 -2M710 176l-8 -3M929 137l-3 -1M939 70l-0 -2M728 77l-1 -3M886 201l-1 -6M925 128l6 -5M543 338l-0 -6M596 137l-1 -2M596 414l-13 -6M586 350l-6 -2M643 107l3 -3M529 108l2 -7M629 196l-1 -4M803 149l1 -5M782 139l-5 -3M897 332l6 -4M790 61l0 -2M871 69l-1 -2M757 114l4 -4M567 343l-0 -6M795 61l1 -2M802 110l1 -5M585 190l3 -3M770 273l7 -4M636 393l-9 -10M613 330l-7 -10M655 228l-2 -9M543 277l-4 -2M821 356l-1 -14M620 80l2 -1M951 115l6 -3M806 89l2 -2M929 65l2 -3M651 147l2 -4M916 102l1 -6M859 406l-9 -7M531 129l-1 -7M519 418l7 -6M911 337l1 -10M771 387l11 -7M622 126l-2 -3M589 346l2 -6M669 311l4 -5M760 100l2 -1M706 221l-3 -8M643 281l-4 -5M594 220l-3 -2M879 318l-4 -5M810 335l3 -10M715 90l2 -1M729 167l-2 -5M712 160l3 -4M825 293l3 -11M785 142l-0 -3M597 67l2 -2M930 362l5 -6M697 377l-0 -9M576 111l-4 -3M836 237l5 -4M641 301l7 -6M603 376l-6 -4M560 247l2 -4M768 90l-3 -4M621 237l-6 -7M795 128l3 -4M842 310l9 -4M645 64l-3 -2M943 375l-4 -11M567 323l10 -5M633 61l1 -2M924 86l2 -3M726 249l3 -10M605 62l-3 -1M627 113l-6 -3M885 82l0 -2M883 380l1 -7M775 399l-10 -4M642 284l5 -8M845 167l2 -5M864 345l-3 -8M942 327l3 -4M569 316l-2 -4M933 424l-7 -8M682 218l4 -8" stroke="#919ea0" stroke-opacity="0.55" stroke-width="1.6" fill="none" stroke-linecap="round"/>
<path d="M746 62l0 -5M617 111l-1 -11M594 117l3 -10M596 117l-3 -5M574 127l9 -17M547 137l10 -21M514 150l3 -7M514 149l1 -16M515 149l-13 -20M434 179l10 -14M393 196l12 -22M328 214l-1 -23M276 237l12 -17M275 240l4 -15M273 237l4 -21M275 238l9 -31M271 239l-5 -25M213 267l-0 -14M119 297l9 -30M131 295l7 -16M34 331l-11 -35M-77 373l-14 -76M-342 465l-33 -77M719 80l0 -5M687 97l4 -7M650 119l2 -6M635 127l-4 -10M631 126l-2 -9M633 127l2 -18M617 138l-0 -19M596 150l-4 -16M570 163l-4 -27M508 195l3 -13M476 215l-5 -21M429 237l-4 -16M439 237l-5 -34M388 264l-12 -15M343 294l8 -66M330 296l2 -29M331 295l22 -27M264 329l29 -30M117 414l-7 -46M115 418l-49 -73M744 74l1 -3M700 118l-6 -9M699 118l-9 -10M681 137l0 -14M670 150l-1 -22M659 162l5 -8M625 195l-3 -36M624 197l-2 -30M583 239l-13 -17M562 267l-5 -38M558 267l19 -47M559 264l9 -10M556 267l-3 -59M531 298l-5 -58M495 332l-22 -44M483 332l-5 -23M457 371l-13 -66M462 371l-3 -24M759 62l-1 -5M759 62l0 -2M755 74l-1 -5M755 77l-0 -2M752 84l1 -4M749 92l-0 -7M749 92l1 -8M745 97l-1 -7M746 97l0 -3M743 103l1 -9M743 104l-0 -3M739 119l1 -8M712 196l-6 -26M697 238l8 -11M670 298l-40 -42M644 332l-7 -31M611 417l-7 -69M761 65l-1 -3M761 71l1 -1M760 80l1 -1M761 87l-1 -8M760 104l-2 -10M760 119l-5 -6M761 128l3 -15M761 127l0 -16M756 163l2 -15M756 179l-5 -9M757 179l-3 -19M753 215l2 -25M750 217l1 -29M752 238l-16 -37M754 238l4 -39M750 266l7 -44M749 264l-3 -15M741 267l14 -36M753 265l-4 -20M733 328l-29 -68M748 333l-19 -33M743 329l-4 -63M744 372l-4 -37M736 419l19 -53M727 472l11 -31M772 92l-1 -7M774 97l1 -3M780 118l4 -16M785 137l2 -6M782 137l-10 -15M785 149l-11 -19M783 148l-10 -17M793 177l-20 -17M797 195l1 -35M804 215l-11 -38M808 216l-5 -11M816 240l2 -13M820 240l10 -49M820 240l8 -17M817 265l-20 -45M819 295l-6 -43M829 298l-12 -49M833 329l-12 -30M844 333l3 -48M841 333l-42 -63M836 329l6 -22M858 373l-12 -31M846 373l-15 -22M846 368l19 -59M851 371l-6 -60M854 418l-27 -58M773 74l-1 -3M781 87l-1 -2M794 104l-1 -6M798 110l1 -10M803 118l1 -16M800 118l-4 -12M808 127l-4 -12M811 137l7 -14M821 148l-3 -9M863 217l-23 -35M859 215l9 -44M870 240l-1 -20M874 238l-5 -26M878 240l5 -23M871 237l-10 -50M901 267l6 -37M889 264l-2 -60M909 296l-11 -64M916 294l5 -65M917 293l9 -36M965 371l-11 -38M950 368l-0 -77M998 419l3 -76M1018 471l36 -98M771 65l-1 -3M775 68l-1 -5M777 71l0 -5M783 77l1 -2M796 88l-1 -8M794 88l3 -5M805 97l-2 -9M825 118l-2 -5M825 118l0 -7M834 128l3 -16M885 179l5 -35M905 196l-0 -23M928 216l10 -36M926 215l-12 -27M924 215l7 -32M951 237l16 -38M946 240l-1 -16M947 240l-8 -26M981 267l8 -55M998 295l-3 -23M1041 331l-11 -70M1046 331l-5 -20M1074 368l19 -55M1074 368l9 -39M1132 417l-9 -40M825 97l-1 -12M831 103l-5 -11M842 110l1 -7M880 138l2 -23M1070 266l4 -28M1230 371l-4 -52M1280 418l9 -24M1286 417l2 -100M1375 468l2 -73M849 260l-1 -14M713 265l-2 -12M646 339l-13 -10M658 211l-2 -6M609 59l-2 -1M810 391l4 -15M700 378l9 -15M521 152l-2 -8M947 161l-7 -5M904 257l10 -8M613 323l-15 -7M759 329l-1 -17M694 323l-1 -7M534 139l-1 -6M617 173l-4 -5M835 302l4 -3M931 236l-0 -4M531 204l2 -5M836 127l2 -2M570 58l2 -5M646 79l-3 -2M899 234l2 -6M550 370l-12 -9M748 435l5 -2M650 77l1 -4M777 95l1 -3M844 349l-2 -4M788 135l-3 -3M842 81l2 -1M940 415l-4 -3M768 155l4 -2M646 286l-1 -9M843 261l-10 -5M561 326l-9 -6M634 411l-14 -11M769 344l7 -15M846 124l2 -1M576 170l-3 -5M664 119l-2 -1M629 361l10 -14M540 233l2 -9M730 240l6 -6M590 199l-3 -6M662 91l1 -4M672 93l5 -2M836 203l-3 -7M658 192l-2 -3M722 212l1 -5M537 187l6 -6M682 93l1 -3M595 90l2 -3M605 229l7 -5M801 193l-8 -5M521 65l2 -2M917 415l-7 -5M517 179l-3 -3M786 75l-1 -1M887 363l8 -8M710 253l3 -7M914 261l-5 -10M935 84l-2 -2M860 232l-7 -8M530 79l3 -1M906 168l4 -8M639 415l8 -11M610 104l1 -3M676 221l-2 -11M946 260l2 -5M902 70l-1 -1M888 142l-6 -4M943 144l-0 -7M746 311l14 -6M943 253l2 -9M771 329l-14 -9M713 156l6 -5M810 165l1 -3M613 73l4 -2M721 250l11 -7M912 410l10 -17M931 166l-1 -6M583 250l-6 -5M596 239l-1 -10M837 413l2 -15M682 328l-2 -6M792 59l3 -2M687 164l0 -9" stroke="#56687a" stroke-opacity="0.50" stroke-width="1.8" fill="none" stroke-linecap="round"/>
<path d="M688 83l-2 -6M678 88l-1 -3M654 97l-2 -9M615 110l3 -11M616 111l-1 -6M597 118l1 -7M598 119l1 -13M594 118l-2 -7M595 118l0 -7M548 138l4 -14M517 148l-2 -19M476 162l9 -9M439 177l-10 -15M436 177l-5 -28M389 195l6 -38M393 196l-10 -25M392 194l-3 -33M384 196l9 -37M386 197l4 -10M333 217l8 -27M339 217l-1 -27M332 215l5 -42M334 216l-15 -27M330 216l11 -6M335 215l12 -25M328 215l2 -13M277 240l-9 -48M278 239l-2 -13M274 237l-1 -26M280 239l3 -16M203 264l3 -22M204 264l2 -42M208 264l13 -42M129 297l-10 -21M128 297l-40 -35M122 294l-1 -54M46 333l-6 -28M39 328l-4 -38M36 330l13 -24M41 333l-4 -74M45 333l1 -42M-81 373l50 -65M-84 368l-1 -33M-85 373l-1 -76M-74 373l-4 -23M-83 372l-12 -50M745 65l-0 -4M740 68l0 -2M741 68l-0 -2M724 77l1 -4M713 84l0 -3M697 92l-1 -6M688 97l0 -7M688 97l-4 -4M666 110l-3 -12M667 110l3 -11M652 118l-0 -8M617 138l4 -23M618 138l1 -9M620 137l3 -19M565 163l-24 -9M569 162l7 -25M541 177l-0 -25M549 177l6 -10M543 178l-3 -14M546 177l-4 -15M507 196l11 -35M508 195l-10 -27M505 195l4 -40M505 196l4 -11M476 215l17 -33M478 217l-19 -17M474 214l-2 -33M439 240l-7 -46M438 237l4 -14M428 241l16 -31M437 238l3 -32M384 264l-12 -31M393 266l-3 -49M388 264l13 -44M329 298l-6 -26M337 295l51 -45M335 297l7 -23M342 297l42 -23M263 332l-1 -42M267 331l4 -39M265 328l-5 -26M204 371l-22 -85M205 373l-19 -81M210 372l13 -26M122 419l14 -39M15 469l-44 -45M756 62l0 -5M753 65l-2 -3M741 77l-0 -3M738 80l1 -3M740 80l-2 -6M735 83l-2 -5M731 87l-2 -5M730 87l-1 -5M728 92l-3 -8M721 98l-2 -3M708 110l2 -5M709 111l-3 -13M706 110l1 -4M699 118l-9 -8M694 127l-3 -5M692 127l0 -14M682 138l4 -8M669 149l-8 -14M673 150l-5 -26M672 148l-2 -18M671 150l-0 -11M671 148l17 -15M655 163l-0 -11M660 163l3 -16M639 177l1 -22M643 179l6 -20M638 177l-1 -11M628 195l1 -34M628 194l11 -35M628 194l-1 -17M619 196l10 -22M621 195l-9 -23M619 196l-9 -31M609 216l-6 -21M606 215l2 -33M605 214l4 -41M580 237l-15 -48M581 240l3 -19M566 265l9 -53M558 264l-13 -22M555 264l-7 -57M554 264l19 -52M563 265l32 -46M539 293l-21 -58M537 294l-10 -46M489 330l3 -24M496 328l-25 -64M494 333l1 -32M499 333l7 -23M458 370l-0 -86M450 373l-6 -34M467 371l-13 -77M457 367l12 -79M453 367l-18 -39M414 418l-2 -47M393 413l29 -65M756 74l-0 -1M752 83l-1 -3M746 97l2 -9M742 110l-1 -4M741 118l0 -13M737 127l4 -10M736 126l-3 -15M735 127l-1 -7M733 127l3 -16M733 137l-2 -16M732 137l-8 -14M724 149l-11 -16M722 162l5 -8M723 162l8 -8M710 195l-0 -17M714 195l-8 -16M710 195l-7 -25M712 196l-12 -38M711 195l0 -26M710 196l-15 -17M708 195l-5 -34M697 216l-23 -40M706 217l9 -25M699 215l-5 -37M708 217l-22 -27M694 238l-20 -22M686 266l37 -48M676 267l9 -45M673 267l-11 -54M669 297l14 -54M678 294l7 -19M674 295l-36 -58M666 296l-16 -31M679 294l-36 -57M667 297l-17 -52M666 296l12 -14M672 295l40 -51M669 294l-1 -23M654 328l5 -74M651 333l-15 -41M635 370l6 -41M643 371l9 -85M629 419l44 -92M632 418l2 -67M762 62l2 -3M761 84l-1 -7M759 87l-3 -4M761 92l2 -8M758 97l1 -6M760 98l7 -10M759 110l-3 -14M760 111l1 -6M759 110l-1 -5M760 128l-1 -10M758 128l-2 -19M760 138l-7 -9M755 137l-6 -17M757 150l4 -11M757 162l-4 -19M756 179l-9 -29M757 178l-7 -32M755 178l-9 -19M746 196l9 -27M754 196l0 -11M749 215l6 -41M758 215l-28 -30M759 237l12 -35M747 240l3 -26M755 239l-7 -23M752 240l-6 -43M753 237l-19 -43M749 267l15 -29M753 267l-2 -14M745 266l3 -55M743 264l2 -44M752 264l-11 -59M744 267l-9 -35M736 295l-17 -29M741 298l12 -30M744 296l-6 -60M743 332l-0 -79M751 373l-6 -28M747 373l-3 -33M740 372l-11 -24M743 369l-20 -84M749 371l1 -88M740 367l8 -33M739 371l-6 -79M739 413l25 -31M747 416l-29 -27M755 419l-36 -88M765 65l-0 -4M765 68l1 -3M770 84l-1 -3M771 88l-0 -5M770 88l-0 -4M776 103l1 -11M777 110l5 -15M782 127l-0 -13M781 127l-7 -16M781 127l2 -19M785 149l-2 -12M785 149l3 -17M789 163l1 -13M790 178l10 -24M794 197l11 -29M802 216l7 -17M808 216l23 -26M820 238l-6 -41M811 238l10 -43M824 267l1 -16M815 267l13 -33M822 264l7 -39M828 297l3 -17M834 296l13 -28M842 331l-12 -37M832 330l-20 -9M849 333l-0 -76M851 370l-42 -54M845 373l-22 -53M841 373l-7 -51M861 466l41 -39M766 62l-1 -5M769 68l-0 -2M786 97l-1 -6M797 110l-2 -8M795 110l-4 -12M794 111l3 -12M809 126l-6 -4M807 127l3 -17M813 138l1 -22M822 150l1 -25M825 163l1 -24M830 163l-5 -14M828 162l-1 -19M827 163l8 -19M837 179l2 -13M835 179l10 -15M850 195l1 -31M866 216l11 -36M861 215l-7 -10M880 240l-13 -18M880 237l-10 -39M894 264l-19 -46M901 263l5 -27M897 264l11 -26M894 264l8 -29M902 296l19 -51M909 295l4 -30M942 332l31 -34M937 333l36 -68M944 331l-16 -37M935 333l-2 -35M932 328l31 -63M929 331l-44 -60M943 332l-32 -42M935 328l-7 -53M951 373l31 -22M952 368l-2 -40M995 415l33 -62M994 412l39 -62M1025 466l26 -70M799 92l4 -6M800 92l1 -4M805 97l-4 -6M808 103l3 -11M817 110l-0 -9M836 126l3 -7M835 128l-4 -20M857 149l1 -21M859 148l2 -6M860 149l-3 -9M887 178l-8 -15M885 177l6 -31M882 178l8 -21M888 177l-2 -14M883 177l3 -22M901 196l-9 -27M918 216l-4 -22M946 240l8 -32M948 237l-12 -34M944 238l3 -12M980 267l-11 -25M973 267l-3 -49M973 266l-6 -57M1004 294l-8 -15M1003 296l-5 -16M1002 298l12 -20M998 295l10 -66M1013 296l3 -47M1035 328l-24 -71M1032 332l-9 -47M1042 332l-19 -63M1040 333l14 -65M1090 369l14 -26M1121 417l-11 -61M1136 419l-12 -85M823 98l-3 -10M840 110l5 -11M854 117l-8 -5M863 126l1 -6M863 126l2 -6M884 138l-11 -20M882 137l-5 -3M913 162l7 -14M913 162l-5 -30M945 178l-6 -11M941 177l-9 -21M937 178l-3 -17M969 196l16 -36M973 194l3 -33M975 194l10 -37M973 196l-4 -11M995 214l9 -30M997 216l12 -12M994 214l-13 -44M1024 238l24 -46M1029 237l-8 -45M1075 263l-10 -56M1068 264l5 -43M1071 267l0 -35M1115 295l0 -16M1111 295l1 -37M1163 328l-7 -18M1175 329l0 -45M1165 328l-15 -74M1169 330l-34 -67M1224 371l9 -45M1222 370l-22 -77M1231 373l-44 -76M1240 368l-12 -74M1273 413l5 -45M1285 419l29 -84M1376 470l19 -105M533 377l6 -11M841 269l-1 -7M900 237l3 -3M705 93l-4 -3M751 64l-4 -4M556 222l1 -4M567 343l7 -8M695 163l-0 -4M747 310l-13 -8M900 210l-7 -4M725 264l-10 -10M896 370l13 -7M588 165l-8 -4M955 396l4 -8M564 330l-2 -17M881 181l-7 -6M536 269l-1 -13M751 207l3 -6M734 254l-10 -10M642 177l7 -7M778 336l-2 -8M654 225l-5 -3M520 220l-9 -5M706 157l2 -5M666 208l2 -7M577 328l-9 -4M643 187l4 -4M563 294l-1 -5M812 173l-2 -3M809 355l5 -8M624 386l-6 -9M749 293l4 -9M762 376l-7 -16M696 289l-10 -11M702 371l15 -7M609 330l-9 -7M550 308l-7 -9M801 231l1 -7M753 374l3 -5M819 224l6 -11M632 387l-1 -11M736 166l0 -3M799 394l-3 -7M889 189l-6 -4M746 348l-7 -3M556 342l4 -4M740 357l-4 -13M772 206l-5 -3M634 125l4 -2M700 132l4 -2M696 283l-1 -3M822 310l-6 -10M689 210l-2 -9M528 382l2 -19M643 408l5 -18M718 131l-5 -3M725 398l-8 -10M945 235l-8 -10M752 405l13 -7M900 141l-0 -6M604 418l-0 -10M783 430l1 -6M616 143l-4 -2M823 329l-13 -5M826 106l1 -3M845 194l-2 -4M673 267l5 -5M621 211l3 -11M662 214l-1 -7M891 377l-10 -6M598 333l-0 -14M952 381l-4 -5M766 406l-12 -12M605 299l-3 -11M916 358l-8 -8M530 79l-3 -2M660 269l3 -13M700 218l4 -4M864 314l7 -5M836 246l-8 -11M628 431l-1 -12M624 384l4 -11M770 435l7 -11M576 397l-1 -5M794 293l3 -4M916 187l-5 -9M748 269l-7 -9M748 91l-2 -1M593 170l5 -2M891 250l-4 -7M743 265l-10 -8M873 427l-18 -8M846 358l7 -3M576 156l-4 -4M731 315l-0 -10M762 331l1 -11M720 188l-0 -9M953 313l9 -9M928 194l7 -6M703 413l-4 -10M864 370l-4 -3M907 402l-2 -7M766 368l-7 -8M867 95l-1 -5M641 434l7 -16M937 434l5 -7M666 227l-0 -11M660 106l2 -4M872 231l-10 -7M893 196l1 -10M893 154l-3 -6M935 330l-5 -4M847 267l-7 -4M747 343l4 -17M517 199l4 -8M835 126l4 -4M847 146l-4 -5M778 78l-4 -1M892 354l3 -5M596 155l-2 -2M585 213l1 -3M757 287l-2 -15M771 210l5 -3M912 188l-1 -3M662 335l2 -4M723 166l5 -8M812 268l3 -13M898 127l-2 -7M891 164l2 -6M532 76l-4 -2M546 237l-1 -9M737 214l8 -7M832 347l-2 -13M899 184l-3 -3M644 336l-7 -14M547 285l8 -9M840 396l-4 -17M575 289l3 -1M879 309l-5 -4M911 178l2 -4M622 428l-7 -18M780 361l-7 -5M734 229l1 -7M874 384l-12 -11M851 181l2 -7M765 301l7 -8M724 414l-9 -12M924 76l-1 -2M617 370l-3 -12M941 105l2 -2M921 373l-11 -9M601 279l-4 -2M887 214l-4 -4M826 94l2 -6M602 343l-3 -10M558 114l-4 -3M934 90l5 -2M890 408l6 -8M855 360l6 -7M627 419l0 -8M635 379l17 -9M893 291l-7 -6M831 216l7 -4M949 193l8 -5M732 329l-2 -11M594 298l7 -6M846 161l-6 -3M901 326l10 -9M757 355l7 -13M817 421l-10 -7M626 75l-2 -4M838 238l-7 -5M685 347l-12 -10M631 296l-1 -5M603 102l-1 -3M674 426l16 -7M807 211l-5 -4M523 177l-1 -2M817 318l-0 -9M657 162l7 -3M805 305l-5 -7M649 349l8 -16M952 325l1 -9M761 184l0 -6M566 181l-0 -8M814 285l-7 -13M939 411l2 -12M634 387l10 -5M664 176l7 -7M907 227l0 -4M801 115l3 -3M702 415l-1 -8M641 259l6 -4M877 341l-0 -18M866 335l-5 -8M885 278l4 -11M617 299l-5 -2M951 317l-7 -8M706 157l4 -8M913 369l17 -8M731 60l3 -4M788 227l0 -10M730 270l-12 -6M538 261l2 -3M651 178l0 -2M737 244l-6 -4M816 357l1 -5M735 312l-6 -11M799 163l3 -4M774 249l7 -7M655 233l-0 -9M878 258l5 -10M860 412l9 -13M687 206l-8 -3M700 268l-3 -2M599 170l-5 -8M701 373l3 -3M642 261l-2 -5M679 160l-3 -5M887 253l1 -10M777 380l6 -9M943 265l-3 -2M526 361l-4 -13M685 110l3 -3M628 86l-2 -1M559 160l5 -3M858 267l5 -3M681 301l6 -3M934 167l-4 -2M749 79l3 -5M662 116l-4 -5M884 266l3 -13M585 403l3 -11M796 322l-4 -10M807 352l9 -7M748 243l3 -3M898 250l1 -12M523 252l6 -9M924 329l0 -23M872 393l26 -6M658 259l-10 -4M744 115l2 -2M955 383l-23 -2M887 363l-5 -19M846 412l6 -15M855 253l-10 -13M585 274l0 -9M838 328l-3 -15M593 197l-3 -7M914 295l4 -6M524 408l24 -15M548 187l4 -1M825 347l12 -7M588 355l-5 -10M543 389l-20 -13M583 288l6 -6M922 279l-7 -9M629 429l-14 -8M769 159l2 -4M616 356l-16 -6M707 408l4 -17M799 202l-12 -2M590 282l-14 -2M884 140l-7 -1M713 277l-12 -2M714 399l21 -6M897 434l-8 -20M636 303l3 -7M804 420l13 -21M530 364l8 -2M615 223l10 -8M933 269l11 -13M656 167l4 -1M656 394l3 -18M817 401l-4 -18M636 369l27 -6M680 431l-25 -15M670 369l-17 -2M757 338l-13 -7M852 365l-6 -4M664 322l-3 -6M761 329l5 -5M787 306l-15 -12M547 273l12 -4M602 291l13 -7M733 401l5 -16M572 217l-8 -9M531 287l-11 -14M797 383l2 -12M672 258l-8 -15M830 383l9 -13M761 100l3 -1M848 262l-11 -13M533 334l7 -12M623 266l-7 -16M848 240l8 -8M701 248l-10 -10M931 193l6 -1M683 389l9 -9M643 110l-2 -2M619 428l16 -19M835 207l-1 -4M877 421l20 -21M928 133l-2 -6M826 400l-13 -12M606 371l-18 -9M808 302l3 -11M938 291l-7 -15M633 427l-11 -13M914 399l5 -9M753 417l-9 -14M890 224l-11 -1M878 408l11 -10M671 397l10 -9M619 385l24 -14M560 386l11 -8M784 422l-18 -20M952 433l-2 -25M927 358l-14 -20M611 391l23 -19M881 267l9 -13M831 413l-5 -9M627 400l17 -15M599 226l-4 -12M808 407l-15 -17M572 74l-1 -1M757 388l-7 -2M886 327l-0 -8M613 391l2 -10M842 393l18 -2M767 346l-5 -8M851 426l-26 -15M837 224l9 -6M846 368l-14 -10M875 410l-4 -24M775 165l5 -7M570 363l22 -14M548 423l-23 -5M672 283l16 -3M933 353l5 -14M577 387l-3 -6M569 387l25 -7M575 226l-0 -10M675 334l-8 -7M533 360l2 -7M532 209l-8 -7M633 376l-5 -5M794 398l16 -17M632 265l18 -3M629 248l11 -6M597 247l9 -12M536 142l1 -2M644 220l7 -9M517 381l16 -14M750 408l-4 -15M537 384l-10 -25M767 371l-6 -7M698 380l-1 -7M908 427l3 -23M730 202l12 -1M563 279l-3 -8M790 117l2 -4M877 320l3 -6M529 431l3 -26M934 358l20 -5M603 403l-10 -4M766 194l-5 -6M903 257l-14 -10M901 368l-1 -14M843 189l3 -10M545 424l-16 -20M741 313l4 -5M670 303l-19 -6M955 349l-3 -6M698 222l7 -1M711 395l-5 -14M612 214l5 -2M911 334l-21 -3M617 197l11 -5M796 299l-4 -12M604 435l-6 -26M774 410l-16 -7M524 348l19 -4" stroke="#3c3746" stroke-opacity="0.50" stroke-width="1.6" fill="none" stroke-linecap="round"/>
<path d="M713 74l-2 -3M688 83l-3 -4M678 88l2 -5M664 92l-2 -3M653 97l-1 -3M652 98l-1 -3M636 103l0 -6M635 103l1 -6M572 128l-4 -4M546 138l-6 -20M513 149l-2 -6M476 163l3 -20M476 161l6 -29M441 179l-2 -30M336 216l-7 -19M269 237l12 -32M205 266l16 -21M203 263l-19 -31M208 264l-18 -48M120 296l-10 -60M131 294l3 -33M127 294l20 -39M-83 373l-2 -58M-330 470l57 -42M-342 472l15 -64M-346 469l7 -47M713 83l-2 -7M653 118l-2 -6M591 148l4 -9M593 149l-3 -7M566 162l-14 -16M567 163l-12 -22M547 179l-8 -29M513 197l2 -28M504 197l15 -18M473 216l18 -25M437 237l15 -19M433 240l12 -29M390 264l-3 -46M390 265l7 -29M392 267l3 -19M334 294l6 -23M339 296l-3 -20M268 333l16 -41M280 330l25 -73M267 332l-40 -35M270 329l-26 -39M109 417l-21 -60M747 71l-0 -1M747 71l-1 -4M734 84l-1 -6M727 92l-1 -6M690 126l2 -4M659 163l-10 -24M658 162l1 -13M657 163l9 -21M618 195l-13 -26M585 240l-16 -19M586 239l2 -16M585 238l8 -45M559 265l-2 -42M555 264l3 -58M532 296l-5 -68M526 297l-19 -28M524 294l25 -56M494 328l17 -30M498 333l-21 -42M465 370l17 -44M465 368l-19 -25M468 368l21 -83M460 367l43 -32M349 469l-8 -47M342 464l42 -94M758 65l0 -3M733 137l7 -14M729 149l-3 -12M726 148l11 -20M726 149l-13 -16M727 149l8 -14M726 148l-0 -14M715 178l-3 -14M708 217l22 -24M705 216l2 -37M695 239l2 -16M695 240l-16 -45M694 239l1 -22M682 267l-19 -45M684 266l14 -54M674 266l2 -20M669 295l-10 -13M645 332l8 -59M652 329l-12 -20M656 328l-4 -36M654 372l-2 -54M651 369l5 -33M640 371l22 -76M654 370l17 -35M600 465l-17 -54M760 84l-2 -6M760 83l-1 -6M760 87l1 -6M760 92l2 -5M759 118l-2 -15M756 118l-3 -14M756 128l1 -6M759 136l3 -14M757 138l3 -9M760 137l7 -10M758 138l-0 -7M757 163l-2 -16M757 217l-5 -30M755 238l24 -30M751 263l6 -19M741 297l-16 -45M748 297l-12 -34M751 296l13 -58M751 293l27 -47M745 329l12 -48M749 330l9 -63M746 373l-29 -48M740 418l-19 -59M763 62l2 -4M764 65l1 -3M767 71l-0 -2M772 92l-1 -9M785 149l-4 -12M789 162l-4 -21M793 163l-2 -8M790 177l1 -19M798 178l-4 -34M791 177l18 -21M803 194l-13 -38M798 194l11 -29M799 196l-9 -38M808 216l1 -12M803 215l-2 -20M820 239l0 -29M814 239l17 -35M813 265l7 -15M817 266l18 -43M820 298l15 -8M818 295l2 -19M827 294l-3 -56M817 296l1 -49M844 330l-2 -32M869 418l23 -28M879 468l-3 -46M765 62l1 -4M774 77l-0 -2M778 80l-2 -4M780 83l-0 -5M782 88l1 -6M792 103l2 -12M794 111l-4 -4M806 126l3 -15M809 127l1 -5M814 138l-2 -17M831 162l-0 -23M837 179l-14 -29M836 178l8 -23M838 177l-13 -19M848 196l-0 -33M867 217l12 -41M858 214l-11 -27M860 215l15 -40M862 215l-1 -18M878 238l-9 -47M891 266l-14 -55M896 265l11 -23M890 266l9 -19M915 295l31 -52M915 295l15 -29M905 295l-1 -21M909 297l-14 -18M947 372l-6 -24M959 367l-17 -64M988 417l32 -41M997 413l10 -58M982 415l-12 -21M1025 472l-4 -80M1022 470l-12 -81M783 77l-1 -2M799 92l1 -3M805 98l0 -6M818 110l2 -6M834 127l3 -7M843 137l-9 -12M844 137l4 -17M858 148l1 -16M872 163l6 -26M923 215l-6 -41M922 214l-6 -18M917 215l-10 -22M926 214l16 -43M953 237l-18 -24M978 265l-31 -43M1004 295l-23 -62M1014 295l-7 -43M1036 332l-4 -49M1079 369l-3 -82M1073 369l-20 -60M1189 465l31 -48M771 62l1 -3M770 62l-1 -3M779 68l1 -5M794 77l0 -4M822 97l-2 -5M833 103l9 -6M830 103l1 -3M841 110l-2 -7M852 118l2 -11M856 117l-2 -10M867 127l5 -12M864 127l4 -5M899 149l-2 -17M917 163l-9 -26M969 197l-7 -30M995 214l-0 -24M999 217l0 -40M1003 215l1 -11M1021 239l-23 -45M1067 265l-13 -23M1075 263l22 -29M1071 264l9 -15M1071 265l-2 -58M1076 264l1 -38M1173 330l17 -56M1225 368l-7 -58M1234 368l21 -76M1231 368l-10 -61M1278 417l3 -47M569 403l-8 -8M589 360l-2 -17M628 407l8 -15M768 379l4 -2M665 309l1 -4M578 135l3 -2M812 415l2 -14M904 354l-6 -3M769 64l-0 -2M848 384l8 -7M788 362l3 -3M533 97l-0 -5M630 281l-5 -5M915 403l-8 -6M692 423l6 -16M543 316l-9 -4M533 262l-8 -4M717 392l-13 -15M709 304l12 -10M552 159l1 -8M797 197l3 -4M658 134l-4 -3M854 143l5 -5M617 311l5 -3M794 168l4 -7M654 140l1 -2M696 147l5 -3M566 267l7 -7M557 170l3 -2M808 418l1 -9M926 262l-2 -6M703 196l-5 -7M905 288l-7 -9M526 392l2 -18M915 247l-11 -8M628 427l0 -6M600 254l4 -12M873 101l-3 -4M595 172l2 -9M530 122l1 -6M931 173l-1 -4M617 280l-4 -12M619 238l10 -5M789 314l14 -6M853 95l-1 -4M754 255l-8 -8M581 312l4 -13M657 180l-8 -6M654 176l-1 -3M622 415l-9 -9M782 411l-9 -11M918 163l3 -8M643 372l14 -13M617 403l14 -13M869 358l-1 -16M807 398l5 -8M757 352l-2 -5M519 156l4 -4M883 329l-7 -16M944 182l2 -5M742 403l1 -16M862 110l2 -3M868 89l-1 -1M777 342l-7 -8M841 264l5 -7M774 212l-4 -9M701 387l-3 -5M881 351l14 -11M680 285l5 -10M909 413l-10 -17M548 338l5 -3M787 412l3 -12M584 186l-9 -4M585 198l9 -5M890 100l-1 -2M580 303l1 -5M658 263l2 -6M863 357l0 -4M874 66l2 -1M779 88l-5 -2M952 416l16 -10M537 108l1 -2M575 294l-2 -4M824 107l4 -3M542 240l-3 -5M924 350l-1 -5M845 350l-5 -4M730 360l8 -5M536 425l9 -6M901 147l7 -4M578 422l-1 -13M939 150l0 -7M568 207l1 -3M709 201l-8 -8M700 351l5 -10M714 395l-2 -7M788 201l-2 -1M848 401l5 -11M836 258l-2 -9M794 75l1 -1M708 377l0 -9M783 419l8 -3M628 392l-1 -9M921 173l0 -4M870 411l7 -9M681 101l3 -2M800 239l1 -8M736 315l-12 -6M710 271l-6 -8M531 359l-3 -4M790 395l-6 -17M826 379l2 -7M893 339l12 -10M787 312l-3 -5M781 73l2 -3M565 86l3 -1M680 319l5 -2M809 239l-1 -5M787 118l3 -3M621 146l2 -1M873 152l1 -5M525 397l2 -7M797 262l-4 -12M672 195l6 -3M949 290l2 -4M613 209l4 -6M711 268l8 -10M910 419l7 -6M918 350l4 -2M845 129l2 -7M774 315l13 -6M902 177l3 -2M878 181l2 -10M934 110l1 -2M878 342l5 -5M895 408l3 -15M821 282l-6 -5M834 415l-14 -9M658 364l-8 -4M879 408l11 -6M897 105l4 -4M550 84l1 -4M841 111l-0 -7M720 243l-4 -3M734 413l2 -11M523 315l1 -9M737 70l1 -2M632 181l5 -4M829 336l-12 -6M525 63l-1 -2M567 369l-7 -12M838 269l2 -8M631 59l0 -2M854 285l7 -4M906 187l-3 -2M622 211l-2 -10M705 104l-2 -1M666 180l-6 -6M618 282l3 -4M681 431l1 -5M759 330l6 -7M930 420l-4 -11M545 314l3 -4M547 304l-3 -7M879 108l4 -5M683 339l-10 -13M921 392l9 -5M597 195l5 -5M847 355l-3 -3M913 308l-5 -5M684 329l-3 -9M816 135l1 -3M605 434l-12 -16M566 146l-4 -2M675 361l-12 -7M771 380l-5 -8M740 69l1 -2M858 299l5 -15M641 93l1 -2M735 417l3 -11M870 356l-6 -14M827 325l10 -6M758 211l1 -11M943 194l-3 -4M896 75l0 -2M609 435l-16 -7M904 344l5 -4M952 409l13 -9M764 142l-3 -3M846 436l-8 -12M885 75l-0 -3M932 351l13 -8M733 356l4 -5M801 81l4 -2M707 241l3 -1M623 154l0 -5M786 365l9 -7M789 326l-4 -5M896 348l0 -15M843 222l1 -3M706 416l-1 -13M641 154l-2 -1M657 335l2 -5M799 71l0 -2M754 391l8 -4M616 341l-7 -4M647 73l3 -2M840 318l6 -7M824 382l12 -5M901 212l-3 -3M738 132l-5 -5M753 313l5 -14M772 161l2 -3M859 200l-9 -6M603 193l4 -2M558 432l0 -5M729 253l-4 -13M812 192l-2 -5M790 184l-6 -3M541 381l-4 -4M530 394l-13 -7M675 413l0 -9M868 83l1 -4M693 367l1 -7M930 126l-2 -1M924 150l1 -7M647 115l5 -2M535 363l-9 -13M806 65l3 -3M533 395l4 -4M747 264l-6 -7M616 361l-5 -4M530 436l4 -4M886 273l-4 -7M754 235l2 -8M798 311l-7 -6M785 196l-3 -2M859 390l3 -4M763 218l-8 -9M608 149l1 -5M603 76l-1 -5M532 87l-2 -5M558 176l-0 -3M805 189l-6 -3M915 381l2 -19M654 299l-8 -9M721 261l-9 -10M877 247l12 -5M813 247l0 -3M672 243l-2 -9M685 65l1 -3M593 138l-0 -7M529 429l-11 -5M634 343l-12 -10M586 430l6 -5M855 341l-6 -16M687 263l3 -8M707 178l-2 -3M566 392l-1 -17M872 67l-1 -1M553 316l10 -6M944 230l7 -4M765 281l0 -14M840 361l-5 -7M566 361l7 -14M567 130l5 -4M940 137l1 -2M629 303l4 -7M571 186l-6 -3M842 321l2 -5M949 389l5 -13M857 399l-1 -14M672 255l1 -12M637 342l-4 -11M756 233l-8 -3M871 255l-2 -11M944 354l15 -7M763 210l-2 -5M928 342l-2 -4M919 428l-1 -8M572 204l4 -8M748 168l-7 -5M737 313l8 -14M938 409l-18 -10M586 130l-0 -7M842 343l-2 -16M891 385l-12 -13M784 242l-3 -1M598 231l0 -7M783 389l-1 -16M711 165l2 -2M867 160l1 -3M651 82l0 -3M550 400l9 -8M681 110l2 -6M738 146l-3 -5M670 132l-2 -6M640 400l-0 -6M898 178l-9 -5M789 153l4 -6M885 327l-3 -13M637 301l3 -3M843 342l14 -8M749 403l9 -8M679 422l17 -8M835 122l-2 -7M858 131l5 -5M594 291l9 -10M545 261l-1 -3M573 371l-13 -14M741 272l1 -6M648 142l4 -4M797 331l-7 -8M897 177l5 -8M848 430l-0 -8M771 397l5 -6M690 316l-2 -7M680 295l-2 -5M778 239l-4 -6M570 379l9 -16M943 161l7 -4M688 154l3 -5M749 414l4 -3M886 231l-2 -7M555 128l1 -2M625 120l-1 -2M852 260l-12 -7M596 424l19 -9M877 199l-8 -6M562 138l3 -2M695 295l-3 -15M823 85l-1 -1M705 414l9 -4M664 196l-2 -9M724 179l-4 -7M909 406l2 -5M860 378l5 -3M667 158l1 -5M902 436l0 -13M646 412l8 -4M590 236l-3 -3M555 154l-1 -4M952 186l-4 -5M592 212l-0 -3M539 429l7 -12M796 154l-2 -2M751 411l-3 -12M954 108l-1 -1M730 352l-2 -4M920 390l-1 -20M600 380l-2 -5M572 177l0 -6M709 76l2 -2M672 411l-0 -8M816 298l-5 -4M870 287l-3 -6M634 85l0 -4M687 214l3 -2M858 88l1 -4M589 199l7 -6M729 371l-16 -10M558 344l5 -13M592 218l-1 -7M537 239l3 -2M786 407l8 -19M745 96l4 -5M875 255l-4 -3M716 302l-9 -8M945 283l-7 -4M923 366l8 -11M949 155l3 -6M616 425l5 -19M719 90l-3 -5M928 185l-6 -6M894 245l-2 -4M654 139l5 -5M927 240l1 -6M832 391l2 -8M661 351l16 -9M537 189l7 -4M626 434l-1 -15M948 305l3 -8M651 89l-0 -5M580 396l-6 -19M777 362l3 -5M895 152l1 -3M823 231l5 -10M850 147l-4 -3M668 58l-0 -2M781 194l-5 -3M803 408l-13 -5M546 64l2 -2M712 266l6 -5M880 432l11 -10M560 181l3 -5M891 105l1 -3M678 194l1 -2M941 71l1 -3M702 421l3 -8M667 190l-3 -6M939 386l-4 -11M681 410l14 -13M700 236l3 -3M823 220l-0 -4M679 158l-0 -9M865 346l-6 -5M956 267l-5 -8M784 87l-0 -2M745 321l-8 -13M643 67l-0 -2M574 277l-4 -2M768 272l5 -4M573 237l3 -2M589 270l4 -3M565 193l-3 -5M557 182l-2 -8M814 383l-4 -5M735 87l1 -5M669 176l-2 -2M696 237l2 -4M589 187l-4 -6M824 192l6 -3M724 408l-7 -6M585 204l-9 -6M773 113l-3 -2M734 300l-5 -2M817 65l2 -1M694 131l1 -5M751 433l3 -6M601 258l2 -6M611 58l-2 -2M767 73l2 -1M948 431l-6 -6M674 412l-0 -6M544 154l1 -6M790 233l-5 -3M698 357l1 -7M579 236l-4 -7M903 425l5 -12M747 233l-4 -10M740 266l-5 -9M887 114l-0 -3M794 229l-2 -2M630 405l11 -12M655 332l8 -5M619 363l-1 -10M674 139l-2 -4M749 366l8 -5M833 218l1 -3M755 380l7 -4M692 235l3 -3M528 77l-1 -2M849 120l-2 -6M797 342l10 -14M758 144l2 -8M563 191l3 -6M850 300l2 -5M542 128l2 -1M730 83l-1 -3M874 384l-13 -5M781 373l10 -9M833 395l7 -6M829 324l-4 -2M825 95l-2 -1M611 110l4 -2M606 184l-0 -10M951 160l-8 -4M783 330l-11 -11M942 251l-4 -5M600 399l6 -11M860 101l2 -1M661 266l-4 -4M880 299l-1 -4M532 167l1 -5M570 220l-5 -4M636 342l-6 -12M841 192l-4 -7M955 212l-6 -3M581 255l-3 -3M763 119l-1 -2M928 254l2 -6M774 376l-4 -3M560 371l7 -4M702 366l-7 -16M698 322l-1 -6M916 368l-2 -17M708 111l-1 -5M804 81l-1 -3M561 245l3 -2M536 424l9 -6M837 254l-4 -12M775 267l10 -8M699 320l-2 -7M618 361l-6 -7M552 436l8 -4M882 289l-5 -4M639 158l-4 -5M864 135l-3 -3M935 148l4 -5M824 214l6 -8M864 238l-3 -11M745 96l-1 -3M786 198l-2 -11M839 335l12 -7M555 207l4 -11M865 422l-5 -4M944 80l0 -2M922 217l-7 -6M616 170l7 -6M664 146l1 -2M930 180l2 -6M583 156l-1 -5M791 355l4 -14M942 363l5 -8M639 187l-5 -4M836 177l5 -5M597 140l2 -6M864 175l5 -4M834 379l-9 -13M632 399l-4 -4M644 275l3 -14M779 59l-1 -3M690 328l0 -4M903 384l-1 -17M748 305l-12 -6M829 354l10 -6M764 256l8 -5M940 141l-2 -1M699 215l-5 -2M713 146l1 -2M616 218l6 -9M683 364l6 -7M616 234l-3 -12M916 424l-13 -17M851 167l-1 -3M857 402l5 -9M778 289l-2 -4M883 129l1 -2M930 395l8 -15M787 362l1 -5M790 204l-0 -5M887 190l-4 -2M760 318l8 -11M824 345l0 -5M822 258l6 -4M709 179l1 -3M812 143l-3 -4M835 385l14 -11M609 316l0 -6M784 262l3 -2M690 114l1 -4M582 320l-8 -14M597 289l-6 -3M711 269l-9 -11M619 422l10 -10M823 382l-1 -5M806 430l7 -15M669 229l-5 -10M816 144l2 -7M662 246l-9 -9M587 340l1 -5M731 432l18 -12M627 396l9 -10M834 169l-3 -4M869 269l2 -3M927 282l3 -12M871 103l-0 -4M731 229l4 -4M723 201l6 -4M893 72l1 -3M570 362l11 -15M651 225l-8 -10M666 170l-6 -5M893 164l5 -6M683 306l2 -5M766 109l-5 -2M560 215l3 -1M931 409l-16 -11M523 334l1 -12M921 298l8 -6M884 67l-1 -1M701 341l-0 -12M893 135l2 -8M894 278l-2 -11M935 256l1 -9M699 141l-4 -2M936 404l4 -18M863 323l-10 -9M786 240l2 -9M814 360l-5 -12M813 273l0 -6M680 183l1 -10M838 284l1 -5M779 331l6 -8M915 197l-1 -10M897 418l3 -7M909 175l-1 -4M606 228l5 -5M829 239l0 -7M659 137l2 -3M727 396l-15 -13M629 279l-7 -13M743 77l1 -1M741 354l1 -5M865 135l6 -3M552 316l8 -10M577 291l2 -3M787 131l-2 -3M919 407l8 -8M570 398l-3 -6M816 80l4 -3M890 140l-0 -3M905 271l-2 -4M666 200l2 -1M815 377l2 -12M572 162l-1 -5M738 184l4 -4M731 387l0 -6M873 364l2 -7M842 400l-6 -16M653 310l-3 -7M786 301l-3 -6M566 149l5 -3M585 431l14 -13M831 432l-3 -11M678 96l-4 -2M655 114l3 -2M666 380l-1 -17M574 272l8 -7M675 168l-3 -1M557 340l5 -6M615 403l-6 -10M520 432l-8 -7M577 204l2 -10M587 111l0 -2M749 310l-8 -5M830 292l2 -6M852 210l-7 -6M886 152l2 -2M707 345l-11 -8M767 66l-0 -2M831 299l-8 -4M680 232l2 -4M868 171l2 -2M869 432l8 -6M536 285l-3 -5M735 343l-0 -6M715 288l11 -5M931 333l3 -11M911 313l7 -13M799 248l7 -8M603 231l-10 -7M744 418l-9 -10M883 257l9 -5M586 354l-7 -7M853 227l-5 -2M867 415l4 -6M548 83l1 -2M740 233l-2 -4M676 129l6 -5M614 308l2 -9M767 317l6 -4M557 427l-8 -7M691 428l12 -18M524 366l0 -8M545 421l-6 -5M552 88l1 -1M776 405l7 -6M666 162l1 -3M644 171l-0 -5M528 62l-1 -1M867 186l-3 -3M773 394l9 -8M610 415l-14 -7M758 274l7 -9M600 170l-5 -3M796 103l-1 -3M711 372l8 -7M761 113l1 -2M904 294l-5 -4M617 97l-1 -3M819 242l-8 -8M853 219l1 -4M634 369l-4 -8M704 333l7 -14M610 64l-1 -3M539 220l-3 -2M703 290l-13 -8M869 216l9 -6M548 324l-4 -5M783 179l-5 -8M580 340l8 -3M590 419l0 -11M819 159l-4 -3M715 89l4 -2M902 111l2 -3M650 180l-0 -5M901 383l4 -4M912 417l-8 -3M577 201l4 -3M649 311l-6 -9M566 391l11 -16M913 246l10 -7M780 180l-1 -6M560 318l5 -3M788 189l6 -3M612 203l3 -5M679 326l-4 -10M932 307l5 -12M920 430l7 -4M525 428l-7 -4M925 270l2 -7M572 203l-1 -9M752 219l-7 -6M791 185l-3 -2M743 354l-3 -12M553 385l-4 -2M635 81l-2 -3M760 323l-11 -9M936 178l2 -7M536 411l7 -10M665 282l12 -6M735 370l-10 -12M573 429l-8 -5M882 232l-12 -5M818 173l5 -5M694 210l0 -3M862 213l-7 -4M751 370l-0 -10M688 395l-8 -17M649 261l1 -11M678 152l-3 -4M725 261l0 -10M613 374l-14 -13M847 251l9 -10M825 370l4 -7M700 395l9 -15M905 82l1 -5M671 63l0 -2M881 87l-2 -1M809 80l3 -4M569 159l2 -6M664 214l3 -3M737 252l8 -4M886 75l-3 -1M814 107l-3 -2M793 405l-7 -3M913 155l-2 -4M642 378l-17 -9M747 254l12 -6M645 139l-1 -8M646 92l-1 -4M888 175l-5 -5M930 201l5 -2M939 94l-2 -2M552 304l-7 -4M858 184l2 -5M564 412l-10 -11M767 123l-3 -3M774 198l-6 -5M814 282l-1 -8M901 341l-7 -14M521 360l5 -5M946 371l-3 -9M815 211l3 -4M894 103l3 -5M932 184l-4 -6M610 87l3 -3M731 170l1 -9M894 296l6 -12M918 248l9 -10M933 237l-8 -7M550 361l7 -14M893 178l1 -9M757 287l-4 -4M629 389l6 -19M641 259l5 -12M919 169l0 -3M828 352l6 -7M951 269l-6 -4M595 244l-4 -5M942 411l6 -8M612 320l-9 -10M517 250l-2 -6M829 227l-0 -10M539 274l8 -4M661 141l-5 -6M915 396l6 -5M924 423l5 -6M951 365l-0 -10M869 336l3 -4M795 353l2 -4M537 145l-1 -3M750 163l-5 -6M761 392l1 -5M554 138l-1 -2M756 131l2 -1M768 358l3 -3M649 435l11 -5M944 386l2 -6M571 104l1 -2M770 178l2 -3M819 124l3 -2M574 165l-6 -5M530 189l4 -3M668 358l11 -7M815 276l-1 -7M571 194l-4 -4M732 257l5 -7M896 138l3 -2M916 298l10 -8M609 185l-1 -4M832 244l-8 -4M731 341l-2 -13M658 202l2 -8M613 257l-0 -7M578 274l-11 -9M557 224l-5 -8M735 177l-6 -5M910 60l1 -3M838 190l8 -6M591 256l-1 -7M796 159l3 -7M548 119l-1 -2M772 140l-3 -4M704 418l-6 -9M810 281l-7 -4M660 421l4 -7M940 152l-6 -4M841 93l-0 -2M681 169l2 -3M812 92l-2 -1M598 260l-3 -7M732 167l4 -7M626 226l3 -5M853 367l7 -9M632 413l7 -17M520 355l7 -5M546 388l-27 -10M914 380l25 -11M608 387l15 -15M932 246l-7 -4M738 244l-7 -4M789 372l-10 -24M834 221l10 -8M587 346l6 -8M601 405l-6 -15M696 124l-2 -5M675 313l23 -2M934 235l0 -5M814 409l-26 -9M892 434l3 -15M543 305l4 -16M718 416l9 -11M533 429l4 -13M829 312l2 -7M561 335l-5 -21M890 98l3 -0M912 368l-27 -3M812 165l3 -5M712 372l-2 -8M893 369l-7 -3M797 127l5 -2M737 244l7 -10M794 428l14 -26M802 275l13 -14M895 408l4 -14M659 297l3 -5M851 299l-12 -10M773 315l0 -13M898 329l4 -7M641 435l18 -5M705 278l17 -5M934 300l4 -7M709 250l10 -9M559 289l11 -11M638 418l-1 -27M682 145l1 -2M755 391l5 -15M534 347l12 -14M623 210l-1 -3M879 362l-1 -18M814 253l12 -10M813 261l-11 -12M807 394l-5 -8M938 97l1 -2M885 280l8 -13M818 165l-7 -6M608 108l-2 -2M690 170l1 -7M745 237l4 -4M598 208l-8 -5M747 281l-10 -11M933 397l23 -5M906 159l8 -5M571 96l-1 -0M605 139l1 -2M633 404l-20 -17M641 359l7 -21M939 420l8 -14M940 280l12 -12M534 372l11 -2M557 411l23 -20M688 411l10 -8M733 407l-5 -8M547 301l11 -7M946 191l-5 -2M661 337l3 -6M955 241l-0 -5M848 425l7 -9M853 407l-18 -22M703 269l-3 -6M859 280l-1 -20M764 407l-3 -14M723 145l-0 -3M555 117l3 -4M792 292l16 -6M891 303l7 -1M764 368l-3 -16M895 256l12 -12M886 176l2 -10M773 277l11 -4M822 412l6 -21M944 362l5 -6M815 384l6 -7M811 383l9 -5M873 366l22 -6M676 431l11 -14M676 286l-7 -4M596 131l-5 -5M859 416l-14 -22M541 152l-3 -8M582 208l-4 -10M652 204l-5 -2M565 260l-7 -16M722 414l12 -21M933 363l-7 -15M928 152l4 -6M573 378l-18 -18M570 395l-4 -8M716 373l17 -5M604 418l-19 -16M561 357l24 -6M662 356l2 -15M668 432l-6 -31M547 343l6 -4M891 317l-8 -10M637 356l-24 -6M717 347l-17 -14M634 298l13 -8M906 213l8 -6M518 340l6 -18M758 289l9 -8M811 224l14 -5M899 381l-5 -6M868 142l2 -5M651 299l0 -5M880 255l-8 -5M886 317l-7 -3M883 172l3 -1M760 274l-14 -1M669 397l28 -7M656 166l-5 -5M583 385l-7 -12M850 223l-5 -5M626 366l-1 -18M543 358l10 -9M881 388l16 -19M561 247l-5 -14M800 377l-4 -28M671 209l8 -5M721 362l-3 -23M640 427l-9 -8M814 328l-18 -4M673 416l11 -17M922 302l-16 -11M585 426l-9 -18M578 436l22 -10M614 430l20 -8M886 418l-6 -11M930 384l10 -10M946 297l-1 -5M549 375l11 -22M556 350l-9 -3M816 340l14 -20M518 405l2 -12M811 172l-5 -7M931 367l7 -3M812 298l4 -16M768 219l-4 -2M950 298l-10 -6M606 331l16 -11M687 220l7 -5M816 290l-2 -6M881 297l-4 -6M827 418l-6 -17M923 409l-2 -9M938 300l-10 -7M838 376l-17 -12M572 246l8 -2M653 255l-8 -2M689 301l-6 -5M705 419l-5 -24M871 385l7 -4M876 308l13 -14M550 354l9 -15M609 347l-16 -8M733 403l-15 -8M644 358l14 -4M553 252l3 -3M922 292l-4 -7M793 356l-20 -12M777 304l-13 -9M802 289l-5 -16M868 243l-13 -4M850 195l3 -2M637 378l-10 -21M956 148l1 -3M810 269l2 -5M837 323l8 -19M935 218l-8 -1M529 204l-3 -4M574 295l-2 -6M594 342l-18 -13M854 340l12 -10M862 329l12 -19M638 429l0 -26M844 177l-2 -7M577 193l3 -9M846 306l-8 -11M805 377l10 -3M819 391l24 -8M895 426l27 -16M664 422l-19 -19M826 298l10 -5M747 221l0 -9M522 320l19 -5M650 374l-16 -22M568 120l-3 -0M899 228l5 -15M796 386l19 -12M588 210l8 -5M799 334l-16 -6M546 391l-2 -13M859 177l-3 -1M647 252l6 -12M889 415l-12 -1M921 359l-3 -12M596 289l2 -9M806 352l-19 -18M597 275l-8 -1M713 222l5 -11M694 211l9 -6M857 416l24 -10M684 275l-9 -5M942 397l-1 -24M526 319l-5 -7M906 332l5 -9M952 331l1 -13M665 406l-16 -3M770 376l-13 -1M873 359l1 -10M571 374l23 -10M810 120l1 -1M601 230l5 -3M815 419l-18 -6M541 213l-4 -1M934 215l3 -3M561 250l-16 -2M781 337l-13 -8M657 281l17 -9M546 295l0 -18M778 204l-11 -4M666 325l-5 -16M668 315l10 -9M661 291l9 -4M817 219l11 -4M920 329l-2 -22M779 343l2 -25M953 385l-6 -25M757 337l-15 -6M697 393l0 -10M584 246l-8 -5M629 305l6 -6M888 195l-2 -4M792 399l-1 -13M847 213l2 -11M752 295l-14 -12M666 302l-12 -2M956 412l10 -27M930 249l3 -6M665 240l7 -13M916 246l1 -9M673 198l-5 -2M563 216l2 -10M865 171l-4 -2M673 189l-3 -1M748 426l28 -9M815 319l11 -8M526 346l21 -11M860 264l3 -9M569 231l1 -5M677 360l11 -8M663 432l-12 -8M518 324l-19 -13M649 156l-3 -1M754 286l-2 -5M745 382l-6 -6M873 370l-25 -8M633 241l-15 -3M899 434l25 -4M530 427l2 -20M907 387l15 -13M810 408l3 -7M621 329l-16 -13M523 226l2 -4M648 396l-11 -5M812 279l1 -11M530 370l-8 -5M895 226l-3 -6M841 374l-7 -9M948 392l-7 -9M846 395l13 -15M877 194l-4 -7M891 254l-3 -4M886 385l-9 -7M530 354l-9 -16M656 315l20 -6M719 369l15 -8M888 152l3 -1M721 267l5 -1M853 393l19 -12M766 336l8 -4M952 372l9 -8M923 277l2 -4M922 284l4 -11M733 408l2 -13M709 250l-10 -13M583 395l-13 -6M837 313l2 -17M955 363l4 -6M613 260l7 -3M703 404l27 -14M751 309l4 -6M652 146l-4 -3M715 378l-20 -16M692 286l-6 -11M933 367l-19 -11M854 342l1 -16M886 224l-8 -3M669 170l-2 -3M559 152l0 -5M782 373l16 -12M898 367l2 -22M589 184l6 -2M780 314l11 -1M678 184l-4 -1M554 369l-2 -16M949 355l-12 -13M637 129l-1 -3M655 187l5 -5M789 143l-1 -5M811 423l6 -19M814 346l5 -5M578 265l-9 -9M801 398l-22 -16M644 86l-0 -1M697 354l21 -12M864 311l-10 -3M935 291l11 -1M802 421l-11 -9M795 415l-7 -12M944 254l5 -9M734 433l1 -26M597 341l4 -17M628 299l7 -9M939 184l-9 -1M647 257l-8 -7M739 418l16 -2M668 436l-22 -12M554 423l-8 -31M819 103l-2 -2M878 266l10 -11M535 420l26 -14M903 205l-6 -9M550 429l7 -6M733 414l14 -12M577 434l3 -23M932 303l8 -19M567 195l7 -3M741 276l9 -13M887 403l12 -16" stroke="#e8d4d4" stroke-opacity="0.50" stroke-width="1.3" fill="none" stroke-linecap="round"/>
</g>
<linearGradient id="sk1" x1="0" y1="0" x2="1" y2="0"><stop offset="0" stop-color="#a4a8f2"/><stop offset="0.2" stop-color="#c4c4f2"/><stop offset="0.6" stop-color="#c6c8f4"/><stop offset="1" stop-color="#bcc8f6"/></linearGradient>
<path d="M517,36 H956 V52 L760,50 L700,45 L517,43 Z" fill="url(#sk1)"/>
<path d="M517,43 L700,45 L760,50 L956,52 V56 L760,54 L700,50 L517,48 Z" fill="#9ea0e2"/>
<path d="M517,45 L700,49 L760,53 L956,55 V57 L760,56 L700,56 L517,53 Z" fill="#6e7596" opacity="0.75"/>
<path d="M770,55 L956,56 V59 L770,58 Z" fill="#d2b4d2"/>
<path d="M840,59 L956,59 V64 L840,62 Z" fill="#4a4e5c" opacity="0.8"/>
<path d="M517,51 L545,49 L563,55 L563,61 L517,62 Z" fill="#ccd0f4"/>
<rect x="927" y="47" width="16" height="12" fill="#f4eef6"/><rect x="934" y="40" width="9" height="8" fill="#eadcf0"/><rect x="925" y="48" width="14" height="3" fill="#c890b8"/><rect x="915" y="55" width="11" height="4" fill="#f2f2fa"/>
<line x1="600" y1="36" x2="600" y2="57" stroke="#8c8cc8" stroke-width="1"/>
<line x1="760" y1="36" x2="760" y2="57" stroke="#8c8cc8" stroke-width="1"/>
<line x1="850" y1="36" x2="850" y2="57" stroke="#8c8cc8" stroke-width="1"/>
<line x1="860" y1="36" x2="860" y2="57" stroke="#8c8cc8" stroke-width="1"/>
<line x1="871" y1="36" x2="871" y2="57" stroke="#8c8cc8" stroke-width="1"/>
<line x1="911" y1="36" x2="911" y2="57" stroke="#8c8cc8" stroke-width="1"/>
<line x1="923" y1="36" x2="923" y2="57" stroke="#8c8cc8" stroke-width="1"/>
</g>
<defs><linearGradient id="g2_0" x1="0" x2="1" y1="0" y2="0"><stop offset="0.022" stop-color="#87bd77"/><stop offset="0.141" stop-color="#84bb75"/><stop offset="0.262" stop-color="#82bb74"/><stop offset="0.382" stop-color="#7fb871"/><stop offset="0.501" stop-color="#7db66f"/><stop offset="0.620" stop-color="#7db66f"/><stop offset="0.738" stop-color="#7fb671"/><stop offset="0.857" stop-color="#82b674"/><stop offset="0.976" stop-color="#84b677"/></linearGradient><linearGradient id="g2_1" x1="0" x2="1" y1="0" y2="0"><stop offset="0.022" stop-color="#87bd77"/><stop offset="0.141" stop-color="#84bb75"/><stop offset="0.262" stop-color="#82bb74"/><stop offset="0.382" stop-color="#7fb871"/><stop offset="0.501" stop-color="#7db66f"/><stop offset="0.620" stop-color="#7db66f"/><stop offset="0.738" stop-color="#7fb671"/><stop offset="0.857" stop-color="#82b674"/><stop offset="0.976" stop-color="#84b677"/></linearGradient><linearGradient id="g2_2" x1="0" x2="1" y1="0" y2="0"><stop offset="0.022" stop-color="#87bd77"/><stop offset="0.141" stop-color="#84bb75"/><stop offset="0.262" stop-color="#82bb74"/><stop offset="0.382" stop-color="#7fb871"/><stop offset="0.501" stop-color="#7db66f"/><stop offset="0.620" stop-color="#7db66f"/><stop offset="0.738" stop-color="#7fb671"/><stop offset="0.857" stop-color="#82b674"/><stop offset="0.976" stop-color="#84b677"/></linearGradient><linearGradient id="g2_3" x1="0" x2="1" y1="0" y2="0"><stop offset="0.022" stop-color="#87bd77"/><stop offset="0.141" stop-color="#84bb75"/><stop offset="0.262" stop-color="#82bb74"/><stop offset="0.382" stop-color="#7fb871"/><stop offset="0.501" stop-color="#7db66f"/><stop offset="0.620" stop-color="#7db66f"/><stop offset="0.738" stop-color="#7fb671"/><stop offset="0.857" stop-color="#82b674"/><stop offset="0.976" stop-color="#84b677"/></linearGradient><linearGradient id="g2_4" x1="0" x2="1" y1="0" y2="0"><stop offset="0.022" stop-color="#87bd77"/><stop offset="0.141" stop-color="#84bb75"/><stop offset="0.262" stop-color="#82bb74"/><stop offset="0.382" stop-color="#7fb871"/><stop offset="0.501" stop-color="#7db66f"/><stop offset="0.620" stop-color="#7db66f"/><stop offset="0.738" stop-color="#7fb671"/><stop offset="0.857" stop-color="#82b674"/><stop offset="0.976" stop-color="#84b677"/></linearGradient><linearGradient id="g2_5" x1="0" x2="1" y1="0" y2="0"><stop offset="0.022" stop-color="#86bc77"/><stop offset="0.141" stop-color="#83ba75"/><stop offset="0.262" stop-color="#81ba73"/><stop offset="0.382" stop-color="#7fb870"/><stop offset="0.501" stop-color="#7db66e"/><stop offset="0.620" stop-color="#7db66e"/><stop offset="0.738" stop-color="#7fb670"/><stop offset="0.857" stop-color="#81b673"/><stop offset="0.976" stop-color="#83b677"/></linearGradient><linearGradient id="g2_6" x1="0" x2="1" y1="0" y2="0"><stop offset="0.022" stop-color="#84bb75"/><stop offset="0.141" stop-color="#81b972"/><stop offset="0.262" stop-color="#7fb871"/><stop offset="0.382" stop-color="#7db66e"/><stop offset="0.501" stop-color="#7bb56d"/><stop offset="0.620" stop-color="#7bb56d"/><stop offset="0.738" stop-color="#7db46e"/><stop offset="0.857" stop-color="#7eb471"/><stop offset="0.976" stop-color="#80b474"/></linearGradient><linearGradient id="g2_7" x1="0" x2="1" y1="0" y2="0"><stop offset="0.022" stop-color="#81b972"/><stop offset="0.141" stop-color="#7fb770"/><stop offset="0.262" stop-color="#7db76f"/><stop offset="0.382" stop-color="#7ab56c"/><stop offset="0.501" stop-color="#7ab46b"/><stop offset="0.620" stop-color="#7ab46b"/><stop offset="0.738" stop-color="#7ab36c"/><stop offset="0.857" stop-color="#7bb36f"/><stop offset="0.976" stop-color="#7eb371"/></linearGradient><linearGradient id="g2_8" x1="0" x2="1" y1="0" y2="0"><stop offset="0.022" stop-color="#7fb770"/><stop offset="0.141" stop-color="#7db66e"/><stop offset="0.262" stop-color="#7ab56c"/><stop offset="0.382" stop-color="#78b36a"/><stop offset="0.501" stop-color="#78b369"/><stop offset="0.620" stop-color="#78b369"/><stop offset="0.738" stop-color="#78b16a"/><stop offset="0.857" stop-color="#79b16c"/><stop offset="0.976" stop-color="#7bb16f"/></linearGradient><linearGradient id="g2_9" x1="0" x2="1" y1="0" y2="0"><stop offset="0.022" stop-color="#7db66e"/><stop offset="0.141" stop-color="#7bb56c"/><stop offset="0.262" stop-color="#79b46a"/><stop offset="0.382" stop-color="#77b268"/><stop offset="0.501" stop-color="#77b268"/><stop offset="0.620" stop-color="#76b268"/><stop offset="0.738" stop-color="#76af68"/><stop offset="0.857" stop-color="#76af6a"/><stop offset="0.976" stop-color="#79af6c"/></linearGradient><linearGradient id="g2_10" x1="0" x2="1" y1="0" y2="0"><stop offset="0.022" stop-color="#7bb56d"/><stop offset="0.141" stop-color="#79b46b"/><stop offset="0.262" stop-color="#78b369"/><stop offset="0.382" stop-color="#76b168"/><stop offset="0.501" stop-color="#76b168"/><stop offset="0.620" stop-color="#75b067"/><stop offset="0.738" stop-color="#75ae67"/><stop offset="0.857" stop-color="#75ae69"/><stop offset="0.976" stop-color="#77ae6b"/></linearGradient><linearGradient id="g2_11" x1="0" x2="1" y1="0" y2="0"><stop offset="0.022" stop-color="#7ab46b"/><stop offset="0.141" stop-color="#78b269"/><stop offset="0.262" stop-color="#76b268"/><stop offset="0.382" stop-color="#76b067"/><stop offset="0.501" stop-color="#76b067"/><stop offset="0.620" stop-color="#74af67"/><stop offset="0.738" stop-color="#73ad67"/><stop offset="0.857" stop-color="#73ad68"/><stop offset="0.976" stop-color="#76ad69"/></linearGradient><linearGradient id="g2_12" x1="0" x2="1" y1="0" y2="0"><stop offset="0.022" stop-color="#79b36a"/><stop offset="0.141" stop-color="#76b168"/><stop offset="0.262" stop-color="#75b167"/><stop offset="0.382" stop-color="#76b067"/><stop offset="0.501" stop-color="#76b067"/><stop offset="0.620" stop-color="#73ae66"/><stop offset="0.738" stop-color="#72ac66"/><stop offset="0.857" stop-color="#72ac67"/><stop offset="0.976" stop-color="#74ac68"/></linearGradient><linearGradient id="g2_13" x1="0" x2="1" y1="0" y2="0"><stop offset="0.022" stop-color="#77b269"/><stop offset="0.141" stop-color="#75b066"/><stop offset="0.262" stop-color="#74af66"/><stop offset="0.382" stop-color="#75af67"/><stop offset="0.501" stop-color="#75af67"/><stop offset="0.620" stop-color="#72ad65"/><stop offset="0.738" stop-color="#71ab65"/><stop offset="0.857" stop-color="#71ab66"/><stop offset="0.976" stop-color="#73ab66"/></linearGradient><linearGradient id="g2_14" x1="0" x2="1" y1="0" y2="0"><stop offset="0.022" stop-color="#76b167"/><stop offset="0.141" stop-color="#73af65"/><stop offset="0.262" stop-color="#73ae65"/><stop offset="0.382" stop-color="#75ae66"/><stop offset="0.501" stop-color="#75ae66"/><stop offset="0.620" stop-color="#71ab65"/><stop offset="0.738" stop-color="#6faa65"/><stop offset="0.857" stop-color="#6faa65"/><stop offset="0.976" stop-color="#71aa65"/></linearGradient><linearGradient id="g2_15" x1="0" x2="1" y1="0" y2="0"><stop offset="0.022" stop-color="#74af66"/><stop offset="0.141" stop-color="#72ad64"/><stop offset="0.262" stop-color="#72ad64"/><stop offset="0.382" stop-color="#75ad66"/><stop offset="0.501" stop-color="#75ad66"/><stop offset="0.620" stop-color="#70aa64"/><stop offset="0.738" stop-color="#6ea964"/><stop offset="0.857" stop-color="#6ea964"/><stop offset="0.976" stop-color="#70a964"/></linearGradient><linearGradient id="g2_16" x1="0" x2="1" y1="0" y2="0"><stop offset="0.022" stop-color="#73ae65"/><stop offset="0.141" stop-color="#71ac63"/><stop offset="0.262" stop-color="#72ac64"/><stop offset="0.382" stop-color="#75ac65"/><stop offset="0.501" stop-color="#74ad66"/><stop offset="0.620" stop-color="#6fa963"/><stop offset="0.738" stop-color="#6da863"/><stop offset="0.857" stop-color="#6da863"/><stop offset="0.976" stop-color="#6fa863"/></linearGradient><linearGradient id="g2_17" x1="0" x2="1" y1="0" y2="0"><stop offset="0.022" stop-color="#72ad64"/><stop offset="0.141" stop-color="#70ab63"/><stop offset="0.262" stop-color="#71ab63"/><stop offset="0.382" stop-color="#75aa65"/><stop offset="0.501" stop-color="#74ac66"/><stop offset="0.620" stop-color="#6ea863"/><stop offset="0.738" stop-color="#6ca763"/><stop offset="0.857" stop-color="#6ca763"/><stop offset="0.976" stop-color="#6ea763"/></linearGradient><linearGradient id="g2_18" x1="0" x2="1" y1="0" y2="0"><stop offset="0.022" stop-color="#71ac63"/><stop offset="0.141" stop-color="#6faa62"/><stop offset="0.262" stop-color="#70aa63"/><stop offset="0.382" stop-color="#75a864"/><stop offset="0.501" stop-color="#73ac66"/><stop offset="0.620" stop-color="#6da762"/><stop offset="0.738" stop-color="#6ba662"/><stop offset="0.857" stop-color="#6ba662"/><stop offset="0.976" stop-color="#6da662"/></linearGradient><linearGradient id="g2_19" x1="0" x2="1" y1="0" y2="0"><stop offset="0.022" stop-color="#70aa62"/><stop offset="0.141" stop-color="#6fa961"/><stop offset="0.262" stop-color="#70a962"/><stop offset="0.382" stop-color="#75a763"/><stop offset="0.501" stop-color="#73ab66"/><stop offset="0.620" stop-color="#6ca661"/><stop offset="0.738" stop-color="#6aa561"/><stop offset="0.857" stop-color="#6aa561"/><stop offset="0.976" stop-color="#6ca561"/></linearGradient><linearGradient id="g2_20" x1="0" x2="1" y1="0" y2="0"><stop offset="0.022" stop-color="#6ea961"/><stop offset="0.141" stop-color="#6ea861"/><stop offset="0.262" stop-color="#6fa862"/><stop offset="0.382" stop-color="#75a563"/><stop offset="0.501" stop-color="#72aa66"/><stop offset="0.620" stop-color="#6ba561"/><stop offset="0.738" stop-color="#69a361"/><stop offset="0.857" stop-color="#69a361"/><stop offset="0.976" stop-color="#6ba361"/></linearGradient><linearGradient id="g2_21" x1="0" x2="1" y1="0" y2="0"><stop offset="0.022" stop-color="#6da860"/><stop offset="0.141" stop-color="#6da760"/><stop offset="0.262" stop-color="#6ea762"/><stop offset="0.382" stop-color="#75a362"/><stop offset="0.501" stop-color="#72aa65"/><stop offset="0.620" stop-color="#6ba460"/><stop offset="0.738" stop-color="#68a260"/><stop offset="0.857" stop-color="#68a260"/><stop offset="0.976" stop-color="#6ba260"/></linearGradient><linearGradient id="g2_22" x1="0" x2="1" y1="0" y2="0"><stop offset="0.022" stop-color="#6ca760"/><stop offset="0.141" stop-color="#6ca65f"/><stop offset="0.262" stop-color="#6ea661"/><stop offset="0.382" stop-color="#76a261"/><stop offset="0.501" stop-color="#72a965"/><stop offset="0.620" stop-color="#6aa35f"/><stop offset="0.738" stop-color="#68a15f"/><stop offset="0.857" stop-color="#68a15f"/><stop offset="0.976" stop-color="#6aa15f"/></linearGradient><linearGradient id="g2_23" x1="0" x2="1" y1="0" y2="0"><stop offset="0.022" stop-color="#6ba55f"/><stop offset="0.141" stop-color="#6ba55f"/><stop offset="0.262" stop-color="#6da561"/><stop offset="0.382" stop-color="#76a061"/><stop offset="0.501" stop-color="#71a965"/><stop offset="0.620" stop-color="#69a25f"/><stop offset="0.738" stop-color="#66a05e"/><stop offset="0.857" stop-color="#67a05f"/><stop offset="0.976" stop-color="#69a05f"/></linearGradient><linearGradient id="g2_24" x1="0" x2="1" y1="0" y2="0"><stop offset="0.022" stop-color="#6aa45e"/><stop offset="0.141" stop-color="#6aa45e"/><stop offset="0.262" stop-color="#6da360"/><stop offset="0.382" stop-color="#769e60"/><stop offset="0.501" stop-color="#70a764"/><stop offset="0.620" stop-color="#68a15e"/><stop offset="0.738" stop-color="#659e5d"/><stop offset="0.857" stop-color="#669f5e"/><stop offset="0.976" stop-color="#689f5e"/></linearGradient><linearGradient id="g2_25" x1="0" x2="1" y1="0" y2="0"><stop offset="0.022" stop-color="#69a35d"/><stop offset="0.141" stop-color="#69a35d"/><stop offset="0.262" stop-color="#6da25f"/><stop offset="0.382" stop-color="#769d60"/><stop offset="0.501" stop-color="#6fa663"/><stop offset="0.620" stop-color="#68a05d"/><stop offset="0.738" stop-color="#649b5b"/><stop offset="0.857" stop-color="#659d5d"/><stop offset="0.976" stop-color="#669d5d"/></linearGradient><linearGradient id="g2_26" x1="0" x2="1" y1="0" y2="0"><stop offset="0.022" stop-color="#68a15c"/><stop offset="0.141" stop-color="#68a15c"/><stop offset="0.262" stop-color="#6da05e"/><stop offset="0.382" stop-color="#769b5f"/><stop offset="0.501" stop-color="#6ea562"/><stop offset="0.620" stop-color="#679f5d"/><stop offset="0.738" stop-color="#62995a"/><stop offset="0.857" stop-color="#649c5c"/><stop offset="0.976" stop-color="#659c5c"/></linearGradient><linearGradient id="g2_27" x1="0" x2="1" y1="0" y2="0"><stop offset="0.022" stop-color="#67a05b"/><stop offset="0.141" stop-color="#67a05b"/><stop offset="0.262" stop-color="#6d9e5d"/><stop offset="0.382" stop-color="#769a5e"/><stop offset="0.501" stop-color="#6da461"/><stop offset="0.620" stop-color="#669f5c"/><stop offset="0.738" stop-color="#619758"/><stop offset="0.857" stop-color="#639a5b"/><stop offset="0.976" stop-color="#649a5b"/></linearGradient><linearGradient id="g2_28" x1="0" x2="1" y1="0" y2="0"><stop offset="0.022" stop-color="#669f5a"/><stop offset="0.141" stop-color="#669f5a"/><stop offset="0.262" stop-color="#6c9c5c"/><stop offset="0.382" stop-color="#76985e"/><stop offset="0.501" stop-color="#6ca260"/><stop offset="0.620" stop-color="#669e5c"/><stop offset="0.738" stop-color="#609556"/><stop offset="0.857" stop-color="#62995a"/><stop offset="0.976" stop-color="#63995a"/></linearGradient><linearGradient id="g2_29" x1="0" x2="1" y1="0" y2="0"><stop offset="0.022" stop-color="#669d59"/><stop offset="0.141" stop-color="#669d59"/><stop offset="0.262" stop-color="#6c9a5b"/><stop offset="0.382" stop-color="#76975d"/><stop offset="0.501" stop-color="#6ca160"/><stop offset="0.620" stop-color="#659d5b"/><stop offset="0.738" stop-color="#5e9355"/><stop offset="0.857" stop-color="#619759"/><stop offset="0.976" stop-color="#629759"/></linearGradient><linearGradient id="g2_30" x1="0" x2="1" y1="0" y2="0"><stop offset="0.022" stop-color="#659c59"/><stop offset="0.141" stop-color="#659c59"/><stop offset="0.262" stop-color="#6c985b"/><stop offset="0.382" stop-color="#76955c"/><stop offset="0.501" stop-color="#6ba05f"/><stop offset="0.620" stop-color="#649c5a"/><stop offset="0.738" stop-color="#5d9153"/><stop offset="0.857" stop-color="#619658"/><stop offset="0.976" stop-color="#619658"/></linearGradient><linearGradient id="g2_31" x1="0" x2="1" y1="0" y2="0"><stop offset="0.022" stop-color="#649b58"/><stop offset="0.141" stop-color="#649b58"/><stop offset="0.262" stop-color="#6d965a"/><stop offset="0.382" stop-color="#75945c"/><stop offset="0.501" stop-color="#6a9f5e"/><stop offset="0.620" stop-color="#649b5a"/><stop offset="0.738" stop-color="#5c8f52"/><stop offset="0.857" stop-color="#609557"/><stop offset="0.976" stop-color="#609557"/></linearGradient><linearGradient id="g2_32" x1="0" x2="1" y1="0" y2="0"><stop offset="0.022" stop-color="#639a57"/><stop offset="0.141" stop-color="#649957"/><stop offset="0.262" stop-color="#6e9459"/><stop offset="0.382" stop-color="#74945b"/><stop offset="0.501" stop-color="#699e5d"/><stop offset="0.620" stop-color="#639a59"/><stop offset="0.738" stop-color="#5b8e51"/><stop offset="0.857" stop-color="#609356"/><stop offset="0.976" stop-color="#609457"/></linearGradient><linearGradient id="g2_33" x1="0" x2="1" y1="0" y2="0"><stop offset="0.022" stop-color="#629956"/><stop offset="0.141" stop-color="#649857"/><stop offset="0.262" stop-color="#709258"/><stop offset="0.382" stop-color="#72945b"/><stop offset="0.501" stop-color="#689d5d"/><stop offset="0.620" stop-color="#639959"/><stop offset="0.738" stop-color="#5b8c51"/><stop offset="0.857" stop-color="#609255"/><stop offset="0.976" stop-color="#5f9356"/></linearGradient><linearGradient id="g2_34" x1="0" x2="1" y1="0" y2="0"><stop offset="0.022" stop-color="#619855"/><stop offset="0.141" stop-color="#649656"/><stop offset="0.262" stop-color="#728f57"/><stop offset="0.382" stop-color="#70945a"/><stop offset="0.501" stop-color="#679c5c"/><stop offset="0.620" stop-color="#639859"/><stop offset="0.738" stop-color="#5a8b50"/><stop offset="0.857" stop-color="#5f9155"/><stop offset="0.976" stop-color="#5f9256"/></linearGradient><linearGradient id="g2_35" x1="0" x2="1" y1="0" y2="0"><stop offset="0.022" stop-color="#619755"/><stop offset="0.141" stop-color="#649556"/><stop offset="0.262" stop-color="#738d56"/><stop offset="0.382" stop-color="#6e9459"/><stop offset="0.501" stop-color="#679b5b"/><stop offset="0.620" stop-color="#629858"/><stop offset="0.738" stop-color="#5a8a50"/><stop offset="0.857" stop-color="#5f9054"/><stop offset="0.976" stop-color="#5e9255"/></linearGradient><linearGradient id="g2_36" x1="0" x2="1" y1="0" y2="0"><stop offset="0.022" stop-color="#609654"/><stop offset="0.141" stop-color="#649455"/><stop offset="0.262" stop-color="#758b55"/><stop offset="0.382" stop-color="#6c9359"/><stop offset="0.501" stop-color="#669b5b"/><stop offset="0.620" stop-color="#629758"/><stop offset="0.738" stop-color="#59894f"/><stop offset="0.857" stop-color="#5f8f53"/><stop offset="0.976" stop-color="#5e9155"/></linearGradient><linearGradient id="g2_37" x1="0" x2="1" y1="0" y2="0"><stop offset="0.022" stop-color="#5f9553"/><stop offset="0.141" stop-color="#649254"/><stop offset="0.262" stop-color="#778854"/><stop offset="0.382" stop-color="#6b9358"/><stop offset="0.501" stop-color="#659a5a"/><stop offset="0.620" stop-color="#619658"/><stop offset="0.738" stop-color="#58884f"/><stop offset="0.857" stop-color="#5f8e53"/><stop offset="0.976" stop-color="#5e9055"/></linearGradient><linearGradient id="g2_38" x1="0" x2="1" y1="0" y2="0"><stop offset="0.022" stop-color="#5e9452"/><stop offset="0.141" stop-color="#649154"/><stop offset="0.262" stop-color="#788653"/><stop offset="0.382" stop-color="#699358"/><stop offset="0.501" stop-color="#64995a"/><stop offset="0.620" stop-color="#619557"/><stop offset="0.738" stop-color="#58874e"/><stop offset="0.857" stop-color="#5f8d52"/><stop offset="0.976" stop-color="#5d8f54"/></linearGradient><linearGradient id="g2_39" x1="0" x2="1" y1="0" y2="0"><stop offset="0.022" stop-color="#5d9352"/><stop offset="0.141" stop-color="#649053"/><stop offset="0.262" stop-color="#7a8452"/><stop offset="0.382" stop-color="#679357"/><stop offset="0.501" stop-color="#639859"/><stop offset="0.620" stop-color="#619457"/><stop offset="0.738" stop-color="#57864d"/><stop offset="0.857" stop-color="#5e8b51"/><stop offset="0.976" stop-color="#5d8f54"/></linearGradient><linearGradient id="g2_40" x1="0" x2="1" y1="0" y2="0"><stop offset="0.022" stop-color="#5d9251"/><stop offset="0.141" stop-color="#648e53"/><stop offset="0.262" stop-color="#7c8151"/><stop offset="0.382" stop-color="#659356"/><stop offset="0.501" stop-color="#629758"/><stop offset="0.620" stop-color="#609456"/><stop offset="0.738" stop-color="#57844d"/><stop offset="0.857" stop-color="#5e8a51"/><stop offset="0.976" stop-color="#5c8e53"/></linearGradient><linearGradient id="g2_41" x1="0" x2="1" y1="0" y2="0"><stop offset="0.022" stop-color="#5c9150"/><stop offset="0.141" stop-color="#648d52"/><stop offset="0.262" stop-color="#7d8050"/><stop offset="0.382" stop-color="#649356"/><stop offset="0.501" stop-color="#629758"/><stop offset="0.620" stop-color="#609356"/><stop offset="0.738" stop-color="#56844c"/><stop offset="0.857" stop-color="#5e8950"/><stop offset="0.976" stop-color="#5c8d53"/></linearGradient><linearGradient id="g2_42" x1="0" x2="1" y1="0" y2="0"><stop offset="0.022" stop-color="#5b9050"/><stop offset="0.141" stop-color="#658b51"/><stop offset="0.262" stop-color="#7d7f50"/><stop offset="0.382" stop-color="#639255"/><stop offset="0.501" stop-color="#619657"/><stop offset="0.620" stop-color="#5f9255"/><stop offset="0.738" stop-color="#57844d"/><stop offset="0.857" stop-color="#5e884f"/><stop offset="0.976" stop-color="#5c8c53"/></linearGradient><linearGradient id="g2_43" x1="0" x2="1" y1="0" y2="0"><stop offset="0.022" stop-color="#5b8f4f"/><stop offset="0.141" stop-color="#668951"/><stop offset="0.262" stop-color="#7d7e4f"/><stop offset="0.382" stop-color="#629155"/><stop offset="0.501" stop-color="#619557"/><stop offset="0.620" stop-color="#5f9155"/><stop offset="0.738" stop-color="#57844d"/><stop offset="0.857" stop-color="#5e864f"/><stop offset="0.976" stop-color="#5b8b52"/></linearGradient><linearGradient id="g2_44" x1="0" x2="1" y1="0" y2="0"><stop offset="0.022" stop-color="#5a8e4e"/><stop offset="0.141" stop-color="#678750"/><stop offset="0.262" stop-color="#7d7d4e"/><stop offset="0.382" stop-color="#619054"/><stop offset="0.501" stop-color="#609456"/><stop offset="0.620" stop-color="#5e9054"/><stop offset="0.738" stop-color="#57844d"/><stop offset="0.857" stop-color="#5d854e"/><stop offset="0.976" stop-color="#5b8b52"/></linearGradient><linearGradient id="g2_45" x1="0" x2="1" y1="0" y2="0"><stop offset="0.022" stop-color="#5a8d4e"/><stop offset="0.141" stop-color="#68854f"/><stop offset="0.262" stop-color="#7d7c4e"/><stop offset="0.382" stop-color="#609054"/><stop offset="0.501" stop-color="#5f9355"/><stop offset="0.620" stop-color="#5d8f54"/><stop offset="0.738" stop-color="#57844d"/><stop offset="0.857" stop-color="#5d844d"/><stop offset="0.976" stop-color="#5b8a51"/></linearGradient><linearGradient id="g2_46" x1="0" x2="1" y1="0" y2="0"><stop offset="0.022" stop-color="#598c4d"/><stop offset="0.141" stop-color="#69834e"/><stop offset="0.262" stop-color="#7c7b4d"/><stop offset="0.382" stop-color="#5f8f53"/><stop offset="0.501" stop-color="#5f9355"/><stop offset="0.620" stop-color="#5d8e53"/><stop offset="0.738" stop-color="#57844d"/><stop offset="0.857" stop-color="#5d834c"/><stop offset="0.976" stop-color="#5a8951"/></linearGradient><linearGradient id="g2_47" x1="0" x2="1" y1="0" y2="0"><stop offset="0.022" stop-color="#598c4d"/><stop offset="0.141" stop-color="#6a814e"/><stop offset="0.262" stop-color="#7c7a4d"/><stop offset="0.382" stop-color="#5e8e52"/><stop offset="0.501" stop-color="#5e9254"/><stop offset="0.620" stop-color="#5c8d52"/><stop offset="0.738" stop-color="#58844d"/><stop offset="0.857" stop-color="#5d814c"/><stop offset="0.976" stop-color="#5a8850"/></linearGradient><linearGradient id="g2_48" x1="0" x2="1" y1="0" y2="0"><stop offset="0.022" stop-color="#588b4c"/><stop offset="0.141" stop-color="#6c804d"/><stop offset="0.262" stop-color="#7c794c"/><stop offset="0.382" stop-color="#5d8d52"/><stop offset="0.501" stop-color="#5e9154"/><stop offset="0.620" stop-color="#5c8c52"/><stop offset="0.738" stop-color="#58844d"/><stop offset="0.857" stop-color="#5d804b"/><stop offset="0.976" stop-color="#598850"/></linearGradient><linearGradient id="g2_49" x1="0" x2="1" y1="0" y2="0"><stop offset="0.022" stop-color="#578a4c"/><stop offset="0.141" stop-color="#6d7e4c"/><stop offset="0.262" stop-color="#7c784c"/><stop offset="0.382" stop-color="#5c8c51"/><stop offset="0.501" stop-color="#5d9053"/><stop offset="0.620" stop-color="#5b8b51"/><stop offset="0.738" stop-color="#58844d"/><stop offset="0.857" stop-color="#5c7f4a"/><stop offset="0.976" stop-color="#59874f"/></linearGradient><linearGradient id="g2_50" x1="0" x2="1" y1="0" y2="0"><stop offset="0.022" stop-color="#57894b"/><stop offset="0.141" stop-color="#6e7c4b"/><stop offset="0.262" stop-color="#7c774b"/><stop offset="0.382" stop-color="#5b8c51"/><stop offset="0.501" stop-color="#5c8f53"/><stop offset="0.620" stop-color="#5b8a51"/><stop offset="0.738" stop-color="#58844d"/><stop offset="0.857" stop-color="#5c7d49"/><stop offset="0.976" stop-color="#59864f"/></linearGradient><linearGradient id="g2_51" x1="0" x2="1" y1="0" y2="0"><stop offset="0.022" stop-color="#57884b"/><stop offset="0.141" stop-color="#6f7a4a"/><stop offset="0.262" stop-color="#7b764b"/><stop offset="0.382" stop-color="#5a8b50"/><stop offset="0.501" stop-color="#5c8e52"/><stop offset="0.620" stop-color="#5a8950"/><stop offset="0.738" stop-color="#58844d"/><stop offset="0.857" stop-color="#5c7c49"/><stop offset="0.976" stop-color="#58854e"/></linearGradient><linearGradient id="g2_52" x1="0" x2="1" y1="0" y2="0"><stop offset="0.022" stop-color="#57864a"/><stop offset="0.141" stop-color="#717949"/><stop offset="0.262" stop-color="#78774a"/><stop offset="0.382" stop-color="#598a4f"/><stop offset="0.501" stop-color="#5b8d51"/><stop offset="0.620" stop-color="#598850"/><stop offset="0.738" stop-color="#58834c"/><stop offset="0.857" stop-color="#5b7c49"/><stop offset="0.976" stop-color="#58844e"/></linearGradient><linearGradient id="g2_53" x1="0" x2="1" y1="0" y2="0"><stop offset="0.022" stop-color="#57844a"/><stop offset="0.141" stop-color="#737748"/><stop offset="0.262" stop-color="#75774a"/><stop offset="0.382" stop-color="#58894f"/><stop offset="0.501" stop-color="#598c50"/><stop offset="0.620" stop-color="#58884f"/><stop offset="0.738" stop-color="#57834c"/><stop offset="0.857" stop-color="#5b7b48"/><stop offset="0.976" stop-color="#58844d"/></linearGradient><linearGradient id="g2_54" x1="0" x2="1" y1="0" y2="0"><stop offset="0.022" stop-color="#578349"/><stop offset="0.141" stop-color="#767547"/><stop offset="0.262" stop-color="#73784a"/><stop offset="0.382" stop-color="#58884e"/><stop offset="0.501" stop-color="#588b4f"/><stop offset="0.620" stop-color="#58874e"/><stop offset="0.738" stop-color="#56824b"/><stop offset="0.857" stop-color="#5a7b48"/><stop offset="0.976" stop-color="#58834d"/></linearGradient><linearGradient id="g2_55" x1="0" x2="1" y1="0" y2="0"><stop offset="0.022" stop-color="#578148"/><stop offset="0.141" stop-color="#787446"/><stop offset="0.262" stop-color="#707849"/><stop offset="0.382" stop-color="#57874d"/><stop offset="0.501" stop-color="#57894e"/><stop offset="0.620" stop-color="#57864e"/><stop offset="0.738" stop-color="#56814b"/><stop offset="0.857" stop-color="#5a7a47"/><stop offset="0.976" stop-color="#57824c"/></linearGradient><linearGradient id="g2_56" x1="0" x2="1" y1="0" y2="0"><stop offset="0.022" stop-color="#577f48"/><stop offset="0.141" stop-color="#7a7245"/><stop offset="0.262" stop-color="#6d7849"/><stop offset="0.382" stop-color="#56874c"/><stop offset="0.501" stop-color="#56884d"/><stop offset="0.620" stop-color="#56854d"/><stop offset="0.738" stop-color="#55814b"/><stop offset="0.857" stop-color="#597a47"/><stop offset="0.976" stop-color="#57814c"/></linearGradient><linearGradient id="g2_57" x1="0" x2="1" y1="0" y2="0"><stop offset="0.022" stop-color="#577e47"/><stop offset="0.141" stop-color="#7c7144"/><stop offset="0.262" stop-color="#6a7949"/><stop offset="0.382" stop-color="#55864c"/><stop offset="0.501" stop-color="#55874c"/><stop offset="0.620" stop-color="#55854d"/><stop offset="0.738" stop-color="#55804a"/><stop offset="0.857" stop-color="#587947"/><stop offset="0.976" stop-color="#57804b"/></linearGradient><linearGradient id="g2_58" x1="0" x2="1" y1="0" y2="0"><stop offset="0.022" stop-color="#587c47"/><stop offset="0.141" stop-color="#7e6f43"/><stop offset="0.262" stop-color="#677948"/><stop offset="0.382" stop-color="#55854b"/><stop offset="0.501" stop-color="#54854b"/><stop offset="0.620" stop-color="#55844c"/><stop offset="0.738" stop-color="#54804a"/><stop offset="0.857" stop-color="#587946"/><stop offset="0.976" stop-color="#577f4a"/></linearGradient><linearGradient id="g2_59" x1="0" x2="1" y1="0" y2="0"><stop offset="0.022" stop-color="#587a46"/><stop offset="0.141" stop-color="#806e42"/><stop offset="0.262" stop-color="#647a48"/><stop offset="0.382" stop-color="#54844a"/><stop offset="0.501" stop-color="#53844b"/><stop offset="0.620" stop-color="#54834c"/><stop offset="0.738" stop-color="#547f4a"/><stop offset="0.857" stop-color="#577846"/><stop offset="0.976" stop-color="#577e4a"/></linearGradient><linearGradient id="g2_60" x1="0" x2="1" y1="0" y2="0"><stop offset="0.022" stop-color="#587846"/><stop offset="0.141" stop-color="#826c41"/><stop offset="0.262" stop-color="#617a47"/><stop offset="0.382" stop-color="#538349"/><stop offset="0.501" stop-color="#52834a"/><stop offset="0.620" stop-color="#53824b"/><stop offset="0.738" stop-color="#537f49"/><stop offset="0.857" stop-color="#577846"/><stop offset="0.976" stop-color="#567d49"/></linearGradient><linearGradient id="g2_61" x1="0" x2="1" y1="0" y2="0"><stop offset="0.022" stop-color="#597745"/><stop offset="0.141" stop-color="#846b40"/><stop offset="0.262" stop-color="#5f7b47"/><stop offset="0.382" stop-color="#538249"/><stop offset="0.501" stop-color="#518149"/><stop offset="0.620" stop-color="#53814b"/><stop offset="0.738" stop-color="#537e49"/><stop offset="0.857" stop-color="#567745"/><stop offset="0.976" stop-color="#567c49"/></linearGradient><linearGradient id="g2_62" x1="0" x2="1" y1="0" y2="0"><stop offset="0.022" stop-color="#5b7544"/><stop offset="0.141" stop-color="#856a3f"/><stop offset="0.262" stop-color="#5e7a47"/><stop offset="0.382" stop-color="#528148"/><stop offset="0.501" stop-color="#508048"/><stop offset="0.620" stop-color="#52814a"/><stop offset="0.738" stop-color="#527d48"/><stop offset="0.857" stop-color="#567645"/><stop offset="0.976" stop-color="#577a48"/></linearGradient><linearGradient id="g2_63" x1="0" x2="1" y1="0" y2="0"><stop offset="0.022" stop-color="#5d7343"/><stop offset="0.141" stop-color="#85693f"/><stop offset="0.262" stop-color="#5d7a47"/><stop offset="0.382" stop-color="#518148"/><stop offset="0.501" stop-color="#4f7f47"/><stop offset="0.620" stop-color="#52804a"/><stop offset="0.738" stop-color="#527d48"/><stop offset="0.857" stop-color="#567544"/><stop offset="0.976" stop-color="#577947"/></linearGradient><linearGradient id="g2_64" x1="0" x2="1" y1="0" y2="0"><stop offset="0.022" stop-color="#5f7142"/><stop offset="0.141" stop-color="#85683e"/><stop offset="0.262" stop-color="#5c7946"/><stop offset="0.382" stop-color="#518047"/><stop offset="0.501" stop-color="#4e7d46"/><stop offset="0.620" stop-color="#517f49"/><stop offset="0.738" stop-color="#517c47"/><stop offset="0.857" stop-color="#567544"/><stop offset="0.976" stop-color="#577746"/></linearGradient><linearGradient id="g2_65" x1="0" x2="1" y1="0" y2="0"><stop offset="0.022" stop-color="#626f41"/><stop offset="0.141" stop-color="#86673e"/><stop offset="0.262" stop-color="#5b7946"/><stop offset="0.382" stop-color="#507f47"/><stop offset="0.501" stop-color="#4e7c46"/><stop offset="0.620" stop-color="#517e49"/><stop offset="0.738" stop-color="#517c47"/><stop offset="0.857" stop-color="#567444"/><stop offset="0.976" stop-color="#577646"/></linearGradient><linearGradient id="g2_66" x1="0" x2="1" y1="0" y2="0"><stop offset="0.022" stop-color="#646d40"/><stop offset="0.141" stop-color="#86663d"/><stop offset="0.262" stop-color="#5a7946"/><stop offset="0.382" stop-color="#4f7e47"/><stop offset="0.501" stop-color="#4d7b45"/><stop offset="0.620" stop-color="#507e48"/><stop offset="0.738" stop-color="#507b47"/><stop offset="0.857" stop-color="#567343"/><stop offset="0.976" stop-color="#577445"/></linearGradient><linearGradient id="g2_67" x1="0" x2="1" y1="0" y2="0"><stop offset="0.022" stop-color="#666c3f"/><stop offset="0.141" stop-color="#87653c"/><stop offset="0.262" stop-color="#597845"/><stop offset="0.382" stop-color="#4f7d46"/><stop offset="0.501" stop-color="#4c7a44"/><stop offset="0.620" stop-color="#507d48"/><stop offset="0.738" stop-color="#507a46"/><stop offset="0.857" stop-color="#557343"/><stop offset="0.976" stop-color="#587244"/></linearGradient><linearGradient id="g2_68" x1="0" x2="1" y1="0" y2="0"><stop offset="0.022" stop-color="#686a3f"/><stop offset="0.141" stop-color="#87653c"/><stop offset="0.262" stop-color="#587845"/><stop offset="0.382" stop-color="#4e7c46"/><stop offset="0.501" stop-color="#4b7843"/><stop offset="0.620" stop-color="#4f7c47"/><stop offset="0.738" stop-color="#4f7a46"/><stop offset="0.857" stop-color="#557242"/><stop offset="0.976" stop-color="#587143"/></linearGradient><linearGradient id="g2_69" x1="0" x2="1" y1="0" y2="0"><stop offset="0.022" stop-color="#6b683e"/><stop offset="0.141" stop-color="#87643b"/><stop offset="0.262" stop-color="#577745"/><stop offset="0.382" stop-color="#4e7b45"/><stop offset="0.501" stop-color="#4a7742"/><stop offset="0.620" stop-color="#4f7b47"/><stop offset="0.738" stop-color="#4f7945"/><stop offset="0.857" stop-color="#557142"/><stop offset="0.976" stop-color="#586f42"/></linearGradient><linearGradient id="g2_70" x1="0" x2="1" y1="0" y2="0"><stop offset="0.022" stop-color="#6d663d"/><stop offset="0.141" stop-color="#88633b"/><stop offset="0.262" stop-color="#567745"/><stop offset="0.382" stop-color="#4d7b45"/><stop offset="0.501" stop-color="#4a7642"/><stop offset="0.620" stop-color="#4f7b47"/><stop offset="0.738" stop-color="#4f7945"/><stop offset="0.857" stop-color="#557041"/><stop offset="0.976" stop-color="#586e42"/></linearGradient><linearGradient id="g2_71" x1="0" x2="1" y1="0" y2="0"><stop offset="0.022" stop-color="#6f643c"/><stop offset="0.141" stop-color="#87623a"/><stop offset="0.262" stop-color="#557644"/><stop offset="0.382" stop-color="#4c7a44"/><stop offset="0.501" stop-color="#497541"/><stop offset="0.620" stop-color="#4e7a46"/><stop offset="0.738" stop-color="#4e7844"/><stop offset="0.857" stop-color="#556f41"/><stop offset="0.976" stop-color="#596c41"/></linearGradient><linearGradient id="g2_72" x1="0" x2="1" y1="0" y2="0"><stop offset="0.022" stop-color="#70633b"/><stop offset="0.141" stop-color="#86613a"/><stop offset="0.262" stop-color="#547644"/><stop offset="0.382" stop-color="#4c7944"/><stop offset="0.501" stop-color="#497440"/><stop offset="0.620" stop-color="#4e7945"/><stop offset="0.738" stop-color="#4e7744"/><stop offset="0.857" stop-color="#556e40"/><stop offset="0.976" stop-color="#596b40"/></linearGradient><linearGradient id="g2_73" x1="0" x2="1" y1="0" y2="0"><stop offset="0.022" stop-color="#71623a"/><stop offset="0.141" stop-color="#846139"/><stop offset="0.262" stop-color="#547544"/><stop offset="0.382" stop-color="#4c7944"/><stop offset="0.501" stop-color="#487340"/><stop offset="0.620" stop-color="#4d7845"/><stop offset="0.738" stop-color="#4e7744"/><stop offset="0.857" stop-color="#566d40"/><stop offset="0.976" stop-color="#596a40"/></linearGradient><linearGradient id="g2_74" x1="0" x2="1" y1="0" y2="0"><stop offset="0.022" stop-color="#736139"/><stop offset="0.141" stop-color="#826039"/><stop offset="0.262" stop-color="#537543"/><stop offset="0.382" stop-color="#4b7843"/><stop offset="0.501" stop-color="#48733f"/><stop offset="0.620" stop-color="#4d7844"/><stop offset="0.738" stop-color="#4d7643"/><stop offset="0.857" stop-color="#566c3f"/><stop offset="0.976" stop-color="#5a693f"/></linearGradient><linearGradient id="g2_75" x1="0" x2="1" y1="0" y2="0"><stop offset="0.022" stop-color="#746038"/><stop offset="0.141" stop-color="#815f39"/><stop offset="0.262" stop-color="#527443"/><stop offset="0.382" stop-color="#4b7843"/><stop offset="0.501" stop-color="#47723f"/><stop offset="0.620" stop-color="#4c7744"/><stop offset="0.738" stop-color="#4d7543"/><stop offset="0.857" stop-color="#576b3f"/><stop offset="0.976" stop-color="#5a673f"/></linearGradient><linearGradient id="g2_76" x1="0" x2="1" y1="0" y2="0"><stop offset="0.022" stop-color="#755f37"/><stop offset="0.141" stop-color="#7f5f38"/><stop offset="0.262" stop-color="#527442"/><stop offset="0.382" stop-color="#4a7742"/><stop offset="0.501" stop-color="#47713e"/><stop offset="0.620" stop-color="#4c7643"/><stop offset="0.738" stop-color="#4d7442"/><stop offset="0.857" stop-color="#576a3e"/><stop offset="0.976" stop-color="#5a663e"/></linearGradient><linearGradient id="g2_77" x1="0" x2="1" y1="0" y2="0"><stop offset="0.022" stop-color="#765e36"/><stop offset="0.141" stop-color="#7d5e38"/><stop offset="0.262" stop-color="#517342"/><stop offset="0.382" stop-color="#4a7642"/><stop offset="0.501" stop-color="#46703d"/><stop offset="0.620" stop-color="#4b7542"/><stop offset="0.738" stop-color="#4c7442"/><stop offset="0.857" stop-color="#57683d"/><stop offset="0.976" stop-color="#5b653d"/></linearGradient><linearGradient id="g2_78" x1="0" x2="1" y1="0" y2="0"><stop offset="0.022" stop-color="#775c36"/><stop offset="0.141" stop-color="#7c5d37"/><stop offset="0.262" stop-color="#517341"/><stop offset="0.382" stop-color="#497641"/><stop offset="0.501" stop-color="#46703d"/><stop offset="0.620" stop-color="#4b7542"/><stop offset="0.738" stop-color="#4c7341"/><stop offset="0.857" stop-color="#58673d"/><stop offset="0.976" stop-color="#5b643d"/></linearGradient><linearGradient id="g2_79" x1="0" x2="1" y1="0" y2="0"><stop offset="0.022" stop-color="#795b35"/><stop offset="0.141" stop-color="#7a5d37"/><stop offset="0.262" stop-color="#507241"/><stop offset="0.382" stop-color="#497541"/><stop offset="0.501" stop-color="#466f3c"/><stop offset="0.620" stop-color="#4b7441"/><stop offset="0.738" stop-color="#4c7241"/><stop offset="0.857" stop-color="#58663c"/><stop offset="0.976" stop-color="#5b633c"/></linearGradient><linearGradient id="g2_80" x1="0" x2="1" y1="0" y2="0"><stop offset="0.022" stop-color="#7a5a34"/><stop offset="0.141" stop-color="#785c37"/><stop offset="0.262" stop-color="#4f7141"/><stop offset="0.382" stop-color="#497541"/><stop offset="0.501" stop-color="#456e3c"/><stop offset="0.620" stop-color="#4a7341"/><stop offset="0.738" stop-color="#4c7241"/><stop offset="0.857" stop-color="#58653c"/><stop offset="0.976" stop-color="#5c623c"/></linearGradient><linearGradient id="g2_81" x1="0" x2="1" y1="0" y2="0"><stop offset="0.022" stop-color="#7b5933"/><stop offset="0.141" stop-color="#775c36"/><stop offset="0.262" stop-color="#4f7140"/><stop offset="0.382" stop-color="#487440"/><stop offset="0.501" stop-color="#456e3b"/><stop offset="0.620" stop-color="#4a7340"/><stop offset="0.738" stop-color="#4b7140"/><stop offset="0.857" stop-color="#59643b"/><stop offset="0.976" stop-color="#5c603b"/></linearGradient><linearGradient id="g2_82" x1="0" x2="1" y1="0" y2="0"><stop offset="0.022" stop-color="#7b5933"/><stop offset="0.141" stop-color="#775c36"/><stop offset="0.262" stop-color="#4f7140"/><stop offset="0.382" stop-color="#487440"/><stop offset="0.501" stop-color="#456e3b"/><stop offset="0.620" stop-color="#4a7340"/><stop offset="0.738" stop-color="#4b7140"/><stop offset="0.857" stop-color="#59643b"/><stop offset="0.976" stop-color="#5c603b"/></linearGradient><linearGradient id="g2_83" x1="0" x2="1" y1="0" y2="0"><stop offset="0.022" stop-color="#7b5933"/><stop offset="0.141" stop-color="#775c36"/><stop offset="0.262" stop-color="#4f7140"/><stop offset="0.382" stop-color="#487440"/><stop offset="0.501" stop-color="#456e3b"/><stop offset="0.620" stop-color="#4a7340"/><stop offset="0.738" stop-color="#4b7140"/><stop offset="0.857" stop-color="#59643b"/><stop offset="0.976" stop-color="#5c603b"/></linearGradient><filter id="bl2" x="0" y="0" width="1" height="1"><feGaussianBlur stdDeviation="0.8"/></filter><filter id="bb2" x="0" y="0" width="1" height="1"><feGaussianBlur stdDeviation="3"/></filter><clipPath id="c2"><rect x="516" y="554" width="435" height="397.5"/></clipPath></defs>
<g clip-path="url(#c2)"><g filter="url(#bl2)">
<g filter="url(#bb2)">
<rect x="506" y="544" width="455" height="5.6" fill="url(#g2_0)"/>
<rect x="506" y="549" width="455" height="5.6" fill="url(#g2_1)"/>
<rect x="506" y="554" width="455" height="5.6" fill="url(#g2_2)"/>
<rect x="506" y="559" width="455" height="5.6" fill="url(#g2_3)"/>
<rect x="506" y="564" width="455" height="5.6" fill="url(#g2_4)"/>
<rect x="506" y="569" width="455" height="5.6" fill="url(#g2_5)"/>
<rect x="506" y="574" width="455" height="5.6" fill="url(#g2_6)"/>
<rect x="506" y="579" width="455" height="5.6" fill="url(#g2_7)"/>
<rect x="506" y="584" width="455" height="5.6" fill="url(#g2_8)"/>
<rect x="506" y="589" width="455" height="5.6" fill="url(#g2_9)"/>
<rect x="506" y="594" width="455" height="5.6" fill="url(#g2_10)"/>
<rect x="506" y="599" width="455" height="5.6" fill="url(#g2_11)"/>
<rect x="506" y="604" width="455" height="5.6" fill="url(#g2_12)"/>
<rect x="506" y="609" width="455" height="5.6" fill="url(#g2_13)"/>
<rect x="506" y="614" width="455" height="5.6" fill="url(#g2_14)"/>
<rect x="506" y="619" width="455" height="5.6" fill="url(#g2_15)"/>
<rect x="506" y="624" width="455" height="5.6" fill="url(#g2_16)"/>
<rect x="506" y="629" width="455" height="5.6" fill="url(#g2_17)"/>
<rect x="506" y="634" width="455" height="5.6" fill="url(#g2_18)"/>
<rect x="506" y="639" width="455" height="5.6" fill="url(#g2_19)"/>
<rect x="506" y="644" width="455" height="5.6" fill="url(#g2_20)"/>
<rect x="506" y="649" width="455" height="5.6" fill="url(#g2_21)"/>
<rect x="506" y="654" width="455" height="5.6" fill="url(#g2_22)"/>
<rect x="506" y="659" width="455" height="5.6" fill="url(#g2_23)"/>
<rect x="506" y="664" width="455" height="5.6" fill="url(#g2_24)"/>
<rect x="506" y="669" width="455" height="5.6" fill="url(#g2_25)"/>
<rect x="506" y="674" width="455" height="5.6" fill="url(#g2_26)"/>
<rect x="506" y="679" width="455" height="5.6" fill="url(#g2_27)"/>
<rect x="506" y="684" width="455" height="5.6" fill="url(#g2_28)"/>
<rect x="506" y="689" width="455" height="5.6" fill="url(#g2_29)"/>
<rect x="506" y="694" width="455" height="5.6" fill="url(#g2_30)"/>
<rect x="506" y="699" width="455" height="5.6" fill="url(#g2_31)"/>
<rect x="506" y="704" width="455" height="5.6" fill="url(#g2_32)"/>
<rect x="506" y="709" width="455" height="5.6" fill="url(#g2_33)"/>
<rect x="506" y="714" width="455" height="5.6" fill="url(#g2_34)"/>
<rect x="506" y="719" width="455" height="5.6" fill="url(#g2_35)"/>
<rect x="506" y="724" width="455" height="5.6" fill="url(#g2_36)"/>
<rect x="506" y="729" width="455" height="5.6" fill="url(#g2_37)"/>
<rect x="506" y="734" width="455" height="5.6" fill="url(#g2_38)"/>
<rect x="506" y="739" width="455" height="5.6" fill="url(#g2_39)"/>
<rect x="506" y="744" width="455" height="5.6" fill="url(#g2_40)"/>
<rect x="506" y="749" width="455" height="5.6" fill="url(#g2_41)"/>
<rect x="506" y="754" width="455" height="5.6" fill="url(#g2_42)"/>
<rect x="506" y="759" width="455" height="5.6" fill="url(#g2_43)"/>
<rect x="506" y="764" width="455" height="5.6" fill="url(#g2_44)"/>
<rect x="506" y="769" width="455" height="5.6" fill="url(#g2_45)"/>
<rect x="506" y="774" width="455" height="5.6" fill="url(#g2_46)"/>
<rect x="506" y="779" width="455" height="5.6" fill="url(#g2_47)"/>
<rect x="506" y="784" width="455" height="5.6" fill="url(#g2_48)"/>
<rect x="506" y="789" width="455" height="5.6" fill="url(#g2_49)"/>
<rect x="506" y="794" width="455" height="5.6" fill="url(#g2_50)"/>
<rect x="506" y="799" width="455" height="5.6" fill="url(#g2_51)"/>
<rect x="506" y="804" width="455" height="5.6" fill="url(#g2_52)"/>
<rect x="506" y="809" width="455" height="5.6" fill="url(#g2_53)"/>
<rect x="506" y="814" width="455" height="5.6" fill="url(#g2_54)"/>
<rect x="506" y="819" width="455" height="5.6" fill="url(#g2_55)"/>
<rect x="506" y="824" width="455" height="5.6" fill="url(#g2_56)"/>
<rect x="506" y="829" width="455" height="5.6" fill="url(#g2_57)"/>
<rect x="506" y="834" width="455" height="5.6" fill="url(#g2_58)"/>
<rect x="506" y="839" width="455" height="5.6" fill="url(#g2_59)"/>
<rect x="506" y="844" width="455" height="5.6" fill="url(#g2_60)"/>
<rect x="506" y="849" width="455" height="5.6" fill="url(#g2_61)"/>
<rect x="506" y="854" width="455" height="5.6" fill="url(#g2_62)"/>
<rect x="506" y="859" width="455" height="5.6" fill="url(#g2_63)"/>
<rect x="506" y="864" width="455" height="5.6" fill="url(#g2_64)"/>
<rect x="506" y="869" width="455" height="5.6" fill="url(#g2_65)"/>
<rect x="506" y="874" width="455" height="5.6" fill="url(#g2_66)"/>
<rect x="506" y="879" width="455" height="5.6" fill="url(#g2_67)"/>
<rect x="506" y="884" width="455" height="5.6" fill="url(#g2_68)"/>
<rect x="506" y="889" width="455" height="5.6" fill="url(#g2_69)"/>
<rect x="506" y="894" width="455" height="5.6" fill="url(#g2_70)"/>
<rect x="506" y="899" width="455" height="5.6" fill="url(#g2_71)"/>
<rect x="506" y="904" width="455" height="5.6" fill="url(#g2_72)"/>
<rect x="506" y="909" width="455" height="5.6" fill="url(#g2_73)"/>
<rect x="506" y="914" width="455" height="5.6" fill="url(#g2_74)"/>
<rect x="506" y="919" width="455" height="5.6" fill="url(#g2_75)"/>
<rect x="506" y="924" width="455" height="5.6" fill="url(#g2_76)"/>
<rect x="506" y="929" width="455" height="5.6" fill="url(#g2_77)"/>
<rect x="506" y="934" width="455" height="5.6" fill="url(#g2_78)"/>
<rect x="506" y="939" width="455" height="5.6" fill="url(#g2_79)"/>
<rect x="506" y="944" width="455" height="5.6" fill="url(#g2_80)"/>
<rect x="506" y="949" width="455" height="5.6" fill="url(#g2_81)"/>
<rect x="506" y="954" width="455" height="5.6" fill="url(#g2_82)"/>
<rect x="506" y="959" width="455" height="3.1" fill="url(#g2_83)"/>
</g>
<path d="M770,640 L790,690 L805,730 L815,760 L840,800 L860,840 L875,870 L860,870 L840,830 L815,790 L795,760 L782,720 L765,680 Z" fill="#6c6a40" opacity="0.22"/>
<path d="M880,910 L945,905 L950,951 L870,951 Z" fill="#8a6a48" opacity="0.35"/>
<path d="M905 924l-4 -15M552 922l-6 -15M726 780l9 -21M791 919l20 -41M850 892l7 -24M686 869l-5 -24M928 765l4 -23M672 811l9 -21M852 865l8 -17M914 914l12 -47M835 846l7 -19M793 844l12 -30M694 807l-2 -22M764 919l-5 -22M732 954l-14 -32M867 850l2 -34M889 768l-5 -24M658 774l1 -12M778 905l8 -21M783 813l-3 -24M879 924l11 -25M523 854l14 -38M796 786l-3 -21M676 811l6 -20M845 910l4 -44M648 813l-7 -26M602 912l-2 -31M877 851l-3 -12M627 959l4 -24M809 787l-1 -14M928 914l-4 -22M521 876l2 -30M710 770l-2 -18M646 912l-4 -14M904 971l-7 -53M853 848l-8 -17M613 765l-1 -7M638 771l3 -23M560 865l-7 -17M790 782l-6 -25M809 962l3 -16M873 926l3 -27M727 910l3 -16M831 811l-8 -23M810 791l1 -22M910 960l3 -45M802 887l-9 -38M605 854l6 -33M711 901l-2 -42M581 784l1 -13M766 923l6 -34M573 891l10 -45M675 930l2 -22M572 777l-5 -13M740 858l-6 -17M809 886l6 -21M608 912l1 -33M950 834l-10 -29M619 965l4 -17M815 913l5 -29M918 929l-0 -32M555 824l6 -15M763 935l10 -35M562 862l-10 -34M795 958l-17 -47M606 915l-0 -32M757 947l-2 -17M946 939l21 -47M666 865l4 -25M673 811l1 -13M803 951l7 -33M774 936l-11 -25M813 838l4 -22M570 901l3 -28M547 841l-0 -26M822 920l-1 -39M676 869l-3 -15M812 917l-7 -34M946 908l11 -22M658 862l-16 -36M777 774l-3 -13M738 771l2 -13M785 813l-1 -13M672 824l-4 -22M665 968l13 -30M688 909l6 -16M725 764l0 -14M624 912l4 -27M749 842l-10 -22M685 801l0 -9M892 908l-3 -31M896 823l1 -26M801 865l-6 -16M889 781l1 -22M701 862l3 -17M926 831l-3 -12M855 793l5 -28M722 945l-6 -22M840 855l-12 -29M606 820l8 -26M882 780l3 -14M721 935l-0 -34M771 963l22 -49M743 934l-6 -17M887 943l-1 -29M634 950l-3 -50M691 868l3 -22M591 943l-1 -38M790 865l-2 -21M936 793l6 -12M833 915l21 -45M797 888l-7 -26M804 852l-7 -36M825 878l1 -40M716 893l-10 -26M576 902l8 -18M773 772l1 -16M681 863l-4 -37M700 800l2 -21M881 863l-3 -14M842 845l3 -35M673 795l-4 -15M599 798l-4 -16M517 824l-2 -15M905 938l-1 -18M706 970l6 -20M629 901l6 -13M744 925l17 -38M684 963l-6 -54M882 782l0 -14M608 791l-9 -24M730 861l3 -15M780 818l-6 -22M637 961l17 -51M938 870l-12 -29M773 862l-1 -12M883 861l-8 -35M539 781l-1 -11M835 857l-9 -27M556 931l3 -38M646 906l4 -26M692 893l-4 -42M634 925l-8 -21M896 884l5 -26M932 891l6 -23M527 825l0 -16M677 781l1 -28M661 864l1 -13M558 951l-2 -23M594 900l13 -39M545 854l10 -21M849 913l15 -41M725 830l1 -10M904 788l5 -28M676 860l-8 -31M573 909l4 -47M753 968l-3 -19M910 917l-1 -24M584 901l15 -37M665 896l4 -14M852 865l5 -24M731 948l-6 -51M623 912l-5 -21M750 831l-1 -30M715 848l13 -29M539 961l-14 -42M892 850l-7 -30M759 802l-0 -32M581 919l14 -39M764 785l1 -20M676 907l18 -38M718 841l-5 -17M806 971l-16 -50M605 970l7 -42M743 953l15 -42M559 924l16 -42M865 866l-6 -16M658 942l-6 -16M809 874l5 -23M889 762l4 -12M588 949l-1 -28M846 951l-7 -54M729 913l-1 -36M525 837l-7 -23M612 840l1 -34M816 888l3 -41M559 801l2 -20M633 885l1 -18M850 956l-14 -33M709 892l7 -19M893 866l-1 -36M901 859l-4 -16M852 970l12 -33M914 920l2 -25M874 887l3 -19M813 910l-3 -13M778 772l-1 -20M873 939l-2 -46M836 789l-3 -12M806 784l-1 -16M517 896l-14 -34M784 955l0 -19M899 954l-2 -22M944 784l-6 -19M794 891l5 -23M703 856l8 -18M608 856l-11 -25M644 931l8 -35M636 775l10 -20M635 947l-15 -43M619 955l-9 -34M853 829l5 -37M673 884l4 -33M545 807l2 -22M804 791l-2 -14M527 778l1 -11M809 921l4 -26M863 813l9 -30M585 787l2 -13M893 791l-8 -20M774 915l9 -23M884 782l10 -25M530 899l-0 -21M825 795l-3 -12M774 817l-10 -23M564 854l-15 -32M943 844l-4 -12M849 787l6 -27M933 834l-6 -20M658 948l-9 -39M793 859l-10 -32M568 797l-2 -11M914 935l-11 -43M795 791l7 -28M727 933l-3 -46M840 841l7 -29M658 768l-4 -25M846 876l-0 -25M530 925l4 -44M541 810l5 -20M863 933l0 -19M738 912l-10 -23M833 766l-6 -27M763 850l-1 -13M637 942l13 -39M718 918l-0 -15M755 923l7 -28M676 831l10 -22M627 786l-2 -11M605 790l-11 -24M693 914l12 -40M533 790l2 -17M604 871l-1 -12M678 780l1 -15M584 842l-2 -22M561 910l14 -30M732 782l-3 -20M703 949l11 -45M840 861l15 -35M568 867l4 -36M551 765l-2 -7M672 835l-3 -10M769 877l-6 -14M525 842l-10 -37M662 880l0 -23M923 863l6 -20M661 853l-14 -32M847 874l2 -19M791 769l-4 -12M598 867l-2 -12M817 829l-9 -20M896 827l-1 -20M579 876l1 -16M684 790l-8 -30M946 769l-3 -20M885 893l-4 -24M545 893l-6 -15M611 816l-5 -16M707 950l-18 -42M880 781l4 -9M543 812l0 -9M872 902l-18 -38M757 830l5 -36M625 763l-2 -26M626 803l13 -31M743 843l-3 -14M815 803l-13 -28M743 762l-3 -21M736 942l-2 -18M670 825l-15 -33M825 883l7 -16M765 938l3 -33M940 898l-7 -15M585 789l7 -26M705 906l-2 -17M831 923l3 -13M921 809l-3 -30M722 852l-6 -29M519 800l10 -31M814 881l10 -39M927 769l-6 -27M668 851l-6 -26M895 862l0 -11M947 927l-9 -40M806 783l-2 -28M815 870l-7 -24M919 946l-11 -26M889 944l8 -23M868 915l-2 -44M776 913l5 -19M906 914l6 -24M846 903l-5 -13M653 862l1 -28M526 882l-6 -13M549 878l10 -31M519 804l-10 -31M740 938l-13 -35M751 924l-8 -30M711 933l-2 -30M855 809l-13 -30M859 941l-2 -36M633 928l-1 -22M699 811l-8 -18M542 763l6 -14M669 801l3 -12M720 966l22 -51M745 808l-2 -9M831 897l15 -32M690 796l4 -28M565 840l2 -23M703 953l10 -39M867 954l1 -33M548 965l7 -29M616 949l8 -50M905 867l-1 -11M825 838l0 -11M634 820l-2 -12M904 862l-4 -18M814 971l-13 -37M832 948l8 -17M541 907l-12 -33M528 935l-9 -29M668 842l0 -30M868 762l5 -20M592 899l10 -40M948 858l9 -25M566 762l4 -11M603 970l7 -28M790 842l-8 -23M842 826l-3 -36M869 823l8 -22M615 840l-0 -17M864 783l-1 -23M880 847l5 -16M863 833l8 -17M903 764l0 -23M750 853l1 -36M627 794l-5 -15M644 952l-10 -30M950 908l-9 -41M583 871l3 -25M799 911l-1 -16M887 761l-5 -15M707 854l2 -41M849 784l-6 -16M774 971l-3 -27M872 778l-3 -9M712 781l-7 -25M696 789l4 -27M692 837l-3 -26M834 952l19 -48M842 853l3 -23M551 961l1 -41M834 919l14 -42M715 856l2 -19M557 768l-10 -25M663 900l10 -23M768 925l8 -29M521 962l-8 -38M847 843l-3 -21M933 804l-6 -19M605 843l5 -23M713 919l-9 -48M665 924l1 -45M575 796l-2 -19M934 771l-3 -15M759 844l9 -21M684 773l4 -14M864 805l-4 -21M876 856l12 -39M520 861l9 -26M862 762l8 -22M653 949l-2 -35M688 914l-8 -19M929 836l1 -29M742 771l-5 -24M919 849l-7 -25M897 943l15 -43M547 934l13 -29M614 910l17 -44M891 827l-7 -20M889 806l-5 -14M566 900l-1 -38M621 769l-3 -11M715 881l-4 -35M863 896l-4 -28M855 913l-8 -19M745 912l-20 -44M528 887l2 -17M812 868l7 -31M730 801l6 -20M548 958l-6 -27M847 844l-6 -16M912 936l5 -46M614 777l5 -12M571 875l4 -19M544 810l5 -22M768 909l-9 -41M710 790l-2 -8M843 944l-3 -26M714 822l0 -11M911 785l5 -11M855 786l-1 -16M890 771l-4 -18M596 929l16 -46M901 795l-6 -25M751 844l2 -19M775 930l15 -35M524 943l2 -22M596 881l-2 -18M720 807l-0 -11M886 848l2 -12M794 832l1 -19M756 916l-2 -27M830 902l-9 -20M667 914l6 -25M535 762l-0 -21M770 843l-6 -26M704 962l8 -49M519 851l1 -34M654 842l-16 -34M909 873l-9 -40M795 765l2 -14M635 860l2 -20M936 866l-7 -17M633 935l-7 -28M783 950l-0 -33M679 953l7 -35M640 783l5 -29M614 932l-13 -48M541 930l2 -14M850 918l15 -34M885 961l6 -24M579 970l13 -31M629 857l12 -31M831 854l-8 -35M921 900l-6 -37M566 957l2 -35M801 928l10 -29M598 809l-8 -23M858 797l2 -15M774 864l-6 -15M907 836l-9 -31M779 956l15 -44M544 844l3 -26M611 856l-5 -16M942 932l5 -33M848 863l6 -27M716 837l2 -30M922 838l2 -36M852 859l-3 -20M809 922l8 -30M827 835l11 -23M564 958l12 -34M839 816l6 -17M715 804l9 -21M805 936l-15 -35M766 849l-9 -21M802 890l1 -18M641 871l6 -25M560 796l-10 -30M634 769l-4 -19M663 767l2 -27M826 923l0 -40M802 852l-7 -22M894 804l2 -29M918 869l3 -17M720 896l7 -38M717 800l6 -27M759 762l-2 -11M919 881l15 -41M582 927l-6 -14M883 849l-2 -27M663 830l-8 -36M516 843l2 -35M702 760l-1 -7M591 904l3 -13M890 823l-1 -17M653 883l-6 -20M697 917l-0 -24M764 813l5 -18M784 823l-5 -19M820 903l-9 -28M535 799l5 -20M673 901l0 -17M712 938l8 -18M856 842l-6 -25M657 899l7 -27M573 837l-6 -18M572 895l2 -14M595 966l-9 -20M947 812l-2 -11M678 923l2 -26M790 932l9 -26M572 889l-16 -39M714 854l6 -13M686 832l4 -15M745 792l-2 -8M533 953l10 -38M597 955l-2 -53M909 833l-8 -30M897 948l12 -53M624 947l12 -26M771 804l-3 -10M939 900l-12 -38M726 948l-8 -22M945 876l-10 -21M821 919l2 -48M741 858l-2 -13M881 837l6 -14M706 923l3 -24M528 810l-5 -17M691 949l4 -15M571 838l-12 -27M575 843l-13 -29M911 902l-3 -19M539 781l-6 -18M553 817l-9 -22M618 876l14 -39M826 776l2 -24M867 817l-11 -29M627 949l-12 -29M598 932l1 -15M693 842l6 -27M937 930l14 -42M734 773l-1 -27M636 950l-1 -30M701 965l-16 -42M780 933l3 -31M762 842l6 -26M799 942l11 -51M640 903l7 -26M911 866l-4 -12M577 822l1 -23M597 938l-7 -24M857 933l-4 -32M783 767l0 -26M849 905l2 -12M534 836l-3 -29M574 898l2 -16M860 905l-9 -21M940 762l-9 -25M678 877l2 -18M700 923l-12 -46M518 958l8 -24M789 777l2 -13M759 871l-10 -23M769 881l4 -11M665 921l-7 -26M674 920l7 -36M884 876l-9 -30M867 934l-8 -24M847 785l-1 -19M912 772l6 -15M589 803l-3 -24M712 964l-3 -29M663 849l11 -37M518 960l7 -55M519 895l-13 -33M901 890l-6 -31M908 786l-2 -15M577 931l3 -20M647 937l-2 -50M637 971l-7 -29M539 848l-2 -15M921 831l-2 -10M921 921l-8 -36M616 774l-3 -25M702 815l7 -20M734 877l8 -43M566 880l5 -12M941 920l-3 -14M892 927l-8 -47M931 782l4 -7M558 915l-12 -27M517 904l-7 -17M755 792l-10 -27M701 921l5 -22M632 762l3 -10M915 960l-4 -25M570 905l-10 -25M667 847l-8 -33M573 925l-13 -46M626 970l-21 -47M855 793l5 -19M885 928l5 -42M846 910l1 -13M872 811l4 -20M895 947l-6 -26M886 881l1 -25M559 882l-6 -36M776 769l-7 -21M578 774l-9 -19M756 773l-7 -25M783 856l4 -27M610 883l-3 -12M772 823l3 -27M615 928l1 -39M893 837l9 -25M753 789l-1 -12M887 770l-2 -20M714 812l-0 -32M945 826l5 -20M830 801l-2 -21M615 870l3 -25M699 887l3 -26M889 770l-10 -26M637 965l-7 -26M563 771l-0 -11M804 868l-1 -15M802 874l-4 -19M594 877l2 -29M585 937l3 -34M759 900l-3 -12M728 885l-1 -13M944 856l-8 -23M614 852l-4 -10M890 766l-9 -20M944 879l-2 -28M778 931l11 -27M946 925l-4 -36M946 796l2 -22M623 912l-0 -17M601 793l-5 -11M623 846l7 -29M585 808l8 -25M737 928l-8 -25M558 873l-1 -43M648 777l4 -24M747 832l1 -15M603 769l3 -24M539 878l6 -17M781 859l1 -13M812 948l11 -33M768 779l-4 -10M677 828l-3 -22M601 792l9 -23M845 773l-5 -26M875 840l-4 -34M853 821l-3 -30M937 801l7 -18M931 893l1 -32M919 886l10 -28M947 898l1 -30M690 818l7 -16M650 882l1 -17M540 779l2 -12M792 798l-1 -17M794 881l4 -12M616 951l4 -39M567 770l0 -15M646 870l-13 -34M559 792l8 -28M788 833l-3 -31M944 912l15 -32M517 772l11 -24M764 921l-6 -20M808 799l2 -10M927 930l-10 -23M849 764l7 -19M578 835l5 -14M905 844l-2 -14M635 930l-2 -16M773 804l7 -20M762 847l-8 -30M919 929l3 -35M572 818l-5 -30M828 817l-2 -10M636 816l-0 -9M833 956l-7 -25M820 831l-2 -19M794 762l-2 -23M539 764l0 -10M907 882l-2 -41M679 833l-5 -24M847 831l3 -24M926 846l-2 -38M943 792l3 -13M796 818l1 -16M605 965l8 -21M828 857l1 -28M695 867l0 -11M568 938l8 -51M552 842l7 -23M843 915l-19 -43M809 810l5 -28M889 932l-13 -46M705 931l12 -44M899 851l-5 -11M893 839l-11 -26M780 942l1 -18M888 926l7 -44M682 763l4 -11M565 886l1 -28M629 901l-2 -37M558 762l9 -26M723 795l-3 -19M654 921l3 -28M661 897l-1 -27M866 967l-23 -50M792 868l7 -41M582 870l-11 -23M816 788l-7 -20M932 821l5 -33M564 850l1 -23M909 780l6 -13M891 789l5 -31M553 868l-4 -16M658 772l2 -11M723 844l5 -19M566 837l-2 -36M768 798l-11 -28M671 773l7 -16M638 802l8 -32M713 906l8 -31M595 935l5 -21M638 840l2 -12M802 838l-1 -12M787 866l-8 -32M784 936l10 -38M720 916l-3 -33M561 775l-3 -22M531 813l-0 -10M778 913l-0 -14M632 910l5 -36M529 884l0 -31M723 947l13 -32M693 766l-2 -10M927 760l-9 -25M792 944l-9 -50M717 762l8 -23M937 945l19 -48M751 873l-3 -29M659 825l5 -30M864 886l2 -13M889 822l8 -24M903 867l8 -36M784 859l0 -14M576 837l2 -13M861 864l1 -19M594 887l-15 -39M852 917l-3 -22M603 914l3 -36M912 831l-1 -10M518 839l1 -38M688 963l15 -31M898 770l1 -23M950 891l9 -32M607 902l-16 -37M611 917l-1 -14M824 901l15 -44M708 856l-2 -32M855 835l-3 -26M881 897l-5 -22M527 807l-2 -17M873 878l-6 -12M803 789l-5 -22M946 969l-10 -35M517 949l-6 -37M798 783l-8 -22M807 892l-8 -18M749 848l6 -21M847 927l0 -15M751 772l4 -22M907 812l5 -23M568 950l3 -26M901 804l6 -15M679 815l7 -18M949 901l11 -40M576 797l9 -23M539 970l-3 -19M517 778l2 -11M524 785l1 -24M682 963l2 -44M772 782l9 -28M822 818l12 -30M648 921l-4 -22M906 904l-6 -18M916 952l9 -23M733 966l-9 -46M721 951l-7 -24M889 893l-8 -23M779 771l-3 -13M574 970l19 -46M877 796l9 -19M881 815l5 -12M640 789l-5 -23M776 931l3 -46M739 929l-7 -29M671 934l-9 -48M627 821l-9 -25M944 954l-13 -45M621 806l-2 -17M769 905l7 -42M550 903l17 -41M565 908l4 -28M689 953l-8 -30M531 966l1 -23M886 888l-1 -27M862 950l5 -54M675 925l4 -23M681 954l2 -35M652 814l-1 -12M872 772l1 -9M686 961l-15 -46M650 883l10 -29M852 801l-0 -13M928 915l-6 -39M613 967l5 -18M744 895l-4 -25M925 931l16 -47M727 797l-7 -23M760 879l-7 -41M534 844l-4 -32M627 933l-11 -49M528 920l14 -46M625 846l-0 -11M686 803l-1 -10M827 778l4 -20M760 813l-4 -12M780 764l-2 -12M784 897l11 -37M811 883l3 -44M884 934l15 -42M820 953l-7 -14M640 908l-12 -34M829 860l4 -17M637 881l15 -35M583 958l-8 -25M641 831l-3 -10M907 865l12 -36M916 958l-2 -24M931 916l-8 -40M917 888l4 -23M526 821l-3 -16M811 793l1 -15M647 966l-5 -20M920 903l-6 -41M634 837l12 -32M724 786l-2 -9M547 918l-5 -42M674 934l6 -41M604 813l4 -13M881 860l6 -31M922 814l0 -16M582 937l-3 -37M835 843l6 -18M918 896l-3 -34M875 952l1 -24M557 816l5 -16M616 876l-0 -13M557 934l-4 -32M717 855l5 -40M903 959l0 -23M701 909l12 -44M566 781l-0 -8M642 932l9 -43M653 927l-2 -24M678 762l3 -9M916 912l-3 -18M940 795l2 -21M551 951l-4 -22M922 781l-3 -13M750 929l-15 -47M863 778l-2 -12M526 824l6 -25M816 951l5 -17M817 882l5 -11M602 932l7 -19M849 806l6 -26M900 932l-3 -48M603 762l2 -13M781 820l-1 -25M750 898l-10 -29M921 941l-4 -44M824 760l-2 -23M654 828l5 -24M732 772l-4 -10M661 936l5 -18M889 797l4 -14" stroke="#27502c" stroke-opacity="0.45" stroke-width="2.2" fill="none" stroke-linecap="round"/>
<path d="M699 778l-3 -24M711 830l-4 -14M871 653l-1 -4M641 696l1 -15M563 886l10 -34M753 939l14 -34M929 661l0 -4M755 903l2 -16M759 906l8 -20M578 919l3 -20M816 789l0 -21M854 842l-5 -27M699 899l1 -29M708 915l7 -21M943 826l3 -10M801 642l4 -10M572 726l5 -18M688 862l1 -35M940 869l5 -33M752 623l-0 -2M747 653l3 -6M640 771l5 -18M583 848l6 -38M917 959l5 -18M897 653l2 -9M764 802l3 -28M774 945l14 -44M901 757l0 -10M838 813l-3 -19M538 724l3 -10M860 621l-0 -3M614 670l-2 -10M553 645l2 -4M574 612l-1 -2M519 776l7 -20M821 700l2 -18M858 664l2 -5M564 611l-2 -4M685 613l2 -5M939 638l-3 -7M915 805l4 -22M900 821l-4 -14M624 706l5 -12M775 737l-7 -23M570 849l3 -13M581 742l-3 -12M867 854l-2 -11M670 903l8 -39M642 678l2 -9M939 844l10 -33M601 889l9 -23M716 648l-3 -9M667 582l-1 -3M631 684l-4 -9M944 880l10 -20M575 738l-4 -9M847 706l-1 -10M720 807l6 -17M775 793l6 -24M814 595l-1 -2M715 913l4 -13M838 911l3 -49M738 791l6 -15M525 671l4 -12M751 651l-2 -3M699 605l1 -4M723 757l1 -8M640 820l-10 -27M722 961l-6 -27M715 879l2 -16M567 852l-12 -32M603 803l4 -9M839 894l7 -24M661 634l-1 -6M864 788l-3 -9M789 715l-4 -19M728 893l6 -38M864 936l-5 -18M672 769l-2 -18M799 955l-18 -44M744 705l2 -13M741 661l-0 -7M765 601l-1 -3M839 904l6 -23M733 699l4 -8M615 936l5 -25M908 728l8 -20M785 659l-1 -6M771 661l-2 -6M853 689l-6 -16M673 875l-0 -30M779 909l-6 -21M894 775l6 -24M714 659l3 -8M554 780l-2 -15M650 711l-6 -19M927 642l3 -7M596 815l2 -13M724 582l2 -3M919 593l-0 -3M596 617l1 -3M860 797l-10 -21M781 778l-6 -26M516 782l-2 -17M661 790l7 -31M725 607l1 -2M784 876l-3 -43M699 833l10 -30M869 787l0 -12M755 842l-8 -37M895 961l4 -42M542 584l0 -3M900 849l-7 -30M585 826l0 -11M872 579l-0 -3M613 699l-0 -9M516 736l3 -18M830 633l-1 -2M702 846l3 -12M735 753l3 -8M611 705l-1 -15M907 679l-4 -8M916 932l-3 -20M702 839l2 -19M891 891l3 -24M789 670l-5 -13M834 603l0 -4M847 773l5 -11M632 631l-1 -4M741 619l0 -3M727 872l8 -24M776 598l1 -2M542 964l1 -15M638 801l-9 -26M894 768l-4 -8M645 955l-13 -45M812 644l-1 -10M621 833l10 -30M791 703l1 -6M592 966l-7 -16M533 636l-1 -3M930 737l-4 -19M722 953l-6 -47M735 684l1 -9M612 970l7 -45M694 821l-6 -32M830 916l6 -32M764 792l5 -20M763 718l-3 -15M698 724l2 -18M764 587l-1 -2M782 914l12 -42M835 691l2 -9M785 701l-3 -11M762 635l1 -3M910 759l-2 -7M569 765l-4 -20M625 680l2 -6M912 881l1 -21M919 634l0 -6M574 931l-6 -17M869 649l1 -3M791 838l6 -25M878 818l5 -16M835 825l10 -28M547 615l-2 -6M833 589l-0 -4M558 701l0 -14M764 948l16 -44M725 924l6 -30M890 746l-1 -8M899 722l5 -12M895 887l1 -16M751 659l1 -11M672 622l-0 -5M896 609l-1 -2M641 580l-0 -1M573 754l5 -11M816 723l7 -16M586 950l2 -50M553 667l1 -6M706 612l-1 -5M834 848l6 -24M868 895l7 -28M943 971l3 -32M920 944l19 -49M525 869l3 -19M567 706l-4 -10M768 731l-1 -6M555 745l11 -23M715 671l2 -9M948 969l-15 -44M938 959l-9 -39M888 640l-2 -6M900 930l-4 -36M553 624l-1 -3M581 840l12 -28M622 666l3 -13M833 930l-8 -36M576 694l2 -5M847 586l-1 -3M799 938l-4 -28M711 676l4 -14M636 770l2 -16M902 904l17 -43M529 930l-17 -45M560 727l-4 -18M798 935l-15 -37M588 749l8 -23M673 877l1 -27M720 768l-8 -26M665 784l-6 -12M635 799l-4 -21M766 867l8 -29M524 607l-0 -2M789 741l2 -8M536 916l-3 -48M710 948l5 -14M904 804l-3 -9M864 730l-2 -14M557 854l9 -24M525 810l-4 -10M941 576l0 -1M860 853l13 -30M550 957l8 -44M867 854l9 -23M669 876l10 -23M594 937l2 -17M674 933l8 -40M916 869l-1 -34M776 967l-2 -22M917 600l-1 -4M835 840l-1 -26M685 766l3 -21M787 921l-2 -18M878 906l-0 -31M696 938l-11 -38M760 917l19 -42M742 599l-0 -1M857 835l7 -20M821 964l14 -50M854 635l-2 -6M928 956l-1 -48M783 844l-7 -28M749 767l-1 -8M809 939l2 -46M869 606l-0 -4M647 747l2 -25M693 647l0 -5M940 794l3 -21M839 702l4 -10M613 587l-0 -3M865 833l15 -32M751 721l2 -7M781 968l-1 -24M779 892l-13 -36M608 964l13 -37M690 835l-4 -15M549 955l-7 -32M560 881l6 -37M886 807l7 -28M928 639l1 -10M586 873l-3 -16M864 630l0 -2M916 793l-7 -22M879 635l-1 -7M836 944l2 -22M705 729l0 -14M879 729l0 -12M617 872l-7 -22M615 927l-9 -30M516 809l5 -12M673 592l0 -1M592 660l4 -11M612 966l-1 -31M570 612l1 -4M867 787l3 -30M743 751l-1 -15M554 766l-6 -19M537 689l-2 -9M910 633l3 -6M702 970l-4 -55M782 848l-9 -20M521 611l-0 -2M829 831l-3 -23M919 688l-3 -8M729 601l-1 -4M516 935l2 -35M631 784l9 -22M773 927l0 -15M692 759l-7 -17M636 606l1 -5M629 932l4 -19M785 626l2 -5M575 919l-12 -36M906 729l-0 -10M937 604l1 -2M931 825l-5 -34M764 684l-4 -10M688 654l-3 -6M793 829l3 -17M535 894l-7 -17M829 600l-1 -3M565 929l9 -34M775 710l1 -16M873 627l-2 -5M898 708l-5 -12M733 889l1 -28M863 944l-1 -37M909 700l-1 -6M832 946l6 -16M672 738l-3 -7M915 909l-0 -19M859 966l-7 -20M719 922l-1 -42M699 630l-0 -4M778 826l-10 -24M721 935l4 -43M700 808l-5 -10M585 741l-6 -18M915 798l7 -32M811 747l-3 -24M561 848l-4 -17M667 620l-1 -3M786 752l-4 -10M674 640l2 -6M610 945l5 -32M585 900l-7 -21M718 686l-1 -5M746 699l6 -16M532 913l-1 -14M692 711l5 -12M573 896l-1 -22M846 682l6 -13M703 773l10 -26M805 651l-1 -3M789 578l1 -3M612 739l5 -14M728 712l-0 -8M763 876l1 -12M722 576l1 -2M925 674l-2 -4M791 857l-9 -36M896 854l-8 -30M620 658l-4 -11M538 765l-7 -22M602 960l-6 -17M785 787l-1 -22M660 952l1 -32M869 687l1 -6M840 827l-6 -13M571 878l-3 -13M803 636l-0 -3M703 970l4 -37M725 731l4 -12M813 879l-13 -28M673 655l-0 -10M708 845l-2 -28M725 626l-0 -3M930 718l1 -20M796 846l-9 -20M579 881l-8 -24M559 705l-2 -9M713 752l-2 -14M768 731l1 -9M900 865l13 -40M881 807l-4 -31M561 876l-10 -21M786 925l3 -13M652 609l-1 -3M599 966l4 -22M659 837l-0 -17M626 603l-1 -5M729 589l-0 -2M620 601l0 -2M733 759l-3 -14M803 960l9 -41M941 596l0 -4M813 600l0 -3M664 760l1 -25M568 935l5 -39M849 776l-3 -10M929 917l-10 -48M750 713l5 -15M586 766l-9 -18M911 772l7 -15M824 770l-2 -8M727 968l-11 -28M913 766l10 -24M721 799l8 -21M919 864l-3 -16M703 779l2 -8M632 619l-0 -7M749 817l2 -18M869 942l-8 -21M895 921l-11 -49M877 673l4 -13M578 869l-8 -30M578 960l2 -42M520 704l2 -6M542 842l7 -21M832 836l-0 -32M657 778l5 -13M723 943l20 -42M705 597l0 -1M545 704l-5 -11M538 592l-0 -1M640 687l1 -4M757 871l-9 -27M761 722l2 -17M757 789l-5 -13M602 963l-4 -43M661 750l-7 -17M601 666l1 -8M814 731l7 -17M760 669l2 -10M742 910l7 -15M578 692l2 -7M671 826l3 -17M647 834l-5 -12M922 642l-1 -4M757 731l5 -19M691 710l1 -16M686 889l3 -33M939 714l2 -11M675 880l0 -27M565 900l-14 -38M877 833l6 -31M862 647l1 -6M914 760l8 -24M769 593l-2 -4M543 653l-0 -12M576 622l-0 -6M797 655l-1 -8M649 669l-4 -10M689 587l0 -1M936 590l-1 -4M683 689l6 -15M557 725l3 -7M634 701l3 -13M630 845l-2 -24M909 733l4 -20M862 756l3 -10M628 580l-0 -1M623 846l-3 -22M758 583l-1 -4M594 881l7 -26M916 926l4 -16M612 940l2 -31M703 947l2 -51M534 884l2 -19M619 931l6 -20M583 727l-2 -22M846 918l-4 -15M848 651l3 -6M943 903l17 -43M608 942l10 -48M597 598l-0 -3M770 879l-6 -29M550 941l9 -25M547 915l4 -39M782 887l-11 -25M639 813l-0 -14M771 771l-3 -18M568 863l3 -16M585 777l4 -8M678 760l0 -14M693 780l9 -26M738 690l-5 -16M539 697l2 -8M553 780l-11 -24M668 832l3 -9M587 784l3 -9M786 664l-1 -6M747 949l-7 -14M646 715l2 -14M546 679l-1 -6M677 784l2 -29M932 778l-5 -23M824 954l3 -51M821 766l-8 -17M565 588l-0 -4M562 930l-3 -25M702 665l2 -9M518 588l0 -4M760 716l4 -14M573 591l-1 -2M523 909l13 -41M556 670l2 -7M732 625l2 -5M583 905l-12 -30M576 605l1 -1M594 654l1 -3M777 952l-7 -50M772 701l4 -8M747 866l4 -13M563 684l-0 -9M849 683l0 -9M559 678l-5 -12M685 755l-3 -15M827 939l6 -45M861 870l4 -12M783 911l-5 -21M768 632l2 -7M934 963l1 -24M696 825l-1 -20M526 739l9 -18M714 935l-12 -26M663 690l-6 -13M911 804l9 -25M537 699l0 -17M925 602l1 -3M841 710l2 -20M522 593l-0 -1M585 767l5 -18M890 674l1 -4M725 690l-5 -12M675 970l6 -44M522 958l11 -38M541 703l2 -10M854 601l1 -2M755 704l-1 -7M633 626l-2 -6M904 751l-5 -16M668 883l-3 -15M797 852l-0 -11M923 789l-3 -9M879 683l-3 -7M748 711l-3 -12M647 650l1 -3M589 630l1 -6M718 697l7 -16M628 702l1 -7M624 952l-11 -33M682 634l1 -3M706 596l-0 -2M620 885l-10 -25M851 968l-6 -55M789 666l5 -13M929 799l-0 -27M684 824l-3 -13M532 704l4 -10M624 858l6 -33M622 874l-11 -35M565 594l1 -3M563 631l0 -5M551 628l3 -7M831 737l0 -8M587 785l-6 -26M943 666l-1 -4M605 950l8 -42M838 686l-3 -6M572 831l4 -15M665 640l-2 -5M939 619l-2 -5M576 650l-1 -4M610 615l0 -3M892 638l-1 -6M645 634l2 -4M723 846l-7 -29M777 650l2 -9M541 935l-0 -31M615 834l2 -31M569 668l4 -13M835 630l-2 -5M771 654l-2 -5M766 808l5 -24M869 815l-2 -31M931 664l4 -9M616 809l5 -14M535 588l-1 -2M750 958l-12 -54M673 753l10 -24M849 957l-17 -44M756 894l0 -18M756 962l-3 -15M771 969l8 -39M582 604l1 -4M904 783l3 -15M535 959l-22 -51M774 636l-1 -9M584 899l-8 -20M877 647l-4 -9M857 743l2 -6M532 804l2 -24M819 902l14 -31M863 795l2 -32M902 675l-5 -9M551 844l3 -16M918 946l12 -36M948 842l-7 -25M925 613l-2 -4M830 836l14 -33M553 957l-9 -28M659 600l1 -4M566 846l5 -13M730 615l-2 -4M896 798l7 -14M669 926l11 -24M649 591l1 -4M568 692l3 -13M577 584l1 -4M878 834l-11 -36M790 774l10 -25M620 784l-5 -12M594 674l3 -14M908 717l2 -18M842 938l-2 -17M931 858l-4 -37M658 582l0 -1M711 704l-2 -11M593 897l-17 -39M517 677l0 -14M884 755l4 -9M643 672l1 -6M900 888l9 -38M563 793l-11 -26M710 694l-1 -8M798 726l4 -12M561 631l-1 -2M544 891l2 -24M880 879l9 -28M597 658l2 -6M582 851l-2 -32M758 760l-7 -19M568 629l1 -3M686 843l4 -10M725 925l-6 -14M838 804l2 -11M922 673l-3 -7M899 605l0 -2M637 897l6 -22M877 814l1 -33M874 778l-2 -27M791 951l-8 -37M886 700l6 -15M528 841l-11 -23M651 659l-3 -6M701 802l-2 -22M535 708l-1 -12M606 643l-1 -5M613 784l7 -22M777 751l-0 -15M804 778l-4 -27M737 805l-9 -24M911 942l-19 -40M874 847l5 -25M581 775l-6 -22M910 746l4 -25M536 685l4 -11M761 644l-1 -5M821 692l-1 -15M660 936l7 -27M591 670l4 -12M874 901l-4 -23M624 773l-6 -24M640 908l7 -21M781 638l-1 -5M798 823l4 -12M936 787l-0 -11M719 746l-4 -14M918 934l20 -46M904 742l-4 -22M739 590l1 -3M574 621l-1 -6M822 846l-5 -17M700 664l0 -12M861 633l0 -7M736 943l-17 -47M668 631l-0 -7M895 576l-1 -3M920 605l-0 -3M820 739l2 -17M536 707l1 -13M937 708l1 -15M634 909l3 -36M516 723l7 -16M810 575l-0 -3M910 797l1 -25M641 670l3 -10M643 810l-6 -15M639 835l8 -26M553 807l7 -27M694 801l1 -9M647 778l10 -23M830 600l0 -2M634 903l-10 -22M655 666l0 -4M610 732l2 -6M634 737l2 -13M905 627l0 -2M546 694l-0 -5M574 607l1 -3M834 964l-7 -18M903 645l-1 -4M611 792l-8 -23M888 616l1 -6M618 837l3 -10M549 777l-4 -11M936 611l-2 -5M924 767l-4 -12M525 659l-3 -7M712 650l-0 -5M807 581l0 -1M532 822l-4 -11M927 899l0 -16M677 736l3 -20M799 806l-3 -18M638 863l-5 -20M633 849l-9 -35M751 811l4 -27M733 831l4 -9M599 651l-2 -9M827 637l-1 -5M657 830l2 -13M589 679l2 -12M529 939l16 -42M799 603l0 -2M855 735l-4 -21M642 725l1 -7M524 858l3 -32M861 963l-1 -43M547 614l1 -2M557 792l6 -30M651 781l3 -8M612 673l2 -5M612 686l3 -9M897 592l1 -4M827 616l-1 -5M618 922l0 -44M797 940l-10 -33M676 623l-2 -7M730 765l3 -12M588 817l5 -14M534 791l0 -29M811 750l-0 -9M779 614l-1 -4M948 760l-4 -16M615 702l-0 -5M927 913l9 -43M878 692l-3 -6M703 776l3 -11M866 904l6 -21M711 709l-2 -7M863 686l-3 -12M571 697l2 -11M796 691l3 -12M567 585l-1 -2M525 935l-8 -44M841 579l-2 -3M769 588l-1 -2M906 955l-7 -36M756 692l-2 -6M619 758l-4 -8M641 966l13 -32M883 807l7 -25M766 840l8 -25M700 693l-1 -13M589 749l-6 -24M893 779l4 -8M807 700l-3 -10M725 845l13 -34M891 725l2 -9M642 885l6 -32M738 751l-1 -25M659 767l-4 -13M806 788l3 -30M816 873l4 -15M605 819l4 -11M582 910l7 -21M560 668l1 -9M814 642l4 -9M733 658l-1 -4M632 753l7 -25M851 959l4 -48M866 811l-6 -33M605 761l4 -8M641 912l10 -44M755 831l-5 -28M950 648l-1 -10M789 968l4 -17M705 866l6 -20M537 695l0 -8M576 822l-5 -25M877 788l1 -9M651 966l-17 -53M652 864l-1 -12M586 779l-8 -19M596 647l0 -4M675 717l4 -18M558 668l0 -4M759 936l-10 -20M758 723l3 -12M661 947l2 -22M526 804l-3 -11M803 703l4 -18M539 697l1 -18M685 958l-7 -21M716 757l6 -13M853 676l-0 -5M725 865l-4 -20M642 646l-1 -3M853 603l-0 -4M929 950l-14 -33M747 757l-1 -11M949 734l-4 -8M533 829l-1 -11M765 884l-6 -43M574 688l3 -10M601 714l2 -16M876 754l2 -14M629 897l-1 -13M818 887l8 -42M558 676l-1 -11M516 859l-6 -28M560 919l-8 -29M599 683l2 -7M619 745l-7 -16M551 816l11 -23M805 655l1 -6M917 885l2 -13M762 749l-0 -10M555 948l12 -29M766 591l-1 -3M803 715l-5 -19M694 731l4 -15M623 823l10 -25M915 742l4 -24M832 897l2 -43M886 933l7 -29M560 858l11 -37M825 669l-1 -9M544 657l-1 -5M633 760l-2 -23M829 897l-11 -36M687 877l-10 -30M827 964l9 -40M839 723l-1 -6M873 689l-2 -13M667 961l4 -37M841 661l-1 -9M824 858l-12 -34M870 947l-3 -21M624 968l6 -27M904 849l-1 -17M636 682l-3 -15M694 618l1 -4M717 936l-9 -39M694 853l-2 -21M529 581l-0 -2M689 701l7 -14M821 772l5 -26M675 759l2 -12M921 845l10 -23M626 582l1 -4M801 812l0 -15M595 849l2 -28M693 712l0 -6M651 613l0 -2M921 667l-1 -5M639 734l-7 -22M533 630l-2 -7M789 888l11 -26M540 924l-10 -36M538 780l5 -28M641 768l1 -11M883 758l-0 -8M740 676l4 -10M861 723l3 -15M631 958l-3 -44M934 666l-2 -8M552 878l5 -40M943 615l-1 -3M558 727l2 -12M722 577l-1 -3M704 930l-6 -21M622 703l2 -7M632 833l-1 -27M801 743l8 -19M863 939l-3 -43M563 778l1 -19M596 768l-0 -23M919 942l-12 -34M618 751l-0 -13M727 875l-6 -14M858 650l-0 -5M809 911l8 -40M696 693l1 -16M533 612l-1 -4M675 707l1 -8M621 711l5 -12M787 801l-2 -17M873 589l1 -2M625 803l-4 -10M835 793l-8 -28M536 702l1 -5M589 768l-7 -23M642 883l-16 -38M767 785l3 -12M790 579l0 -1M520 666l5 -11M946 632l0 -3M884 922l5 -25M696 877l13 -36M824 802l2 -15M591 644l-4 -9M664 856l-6 -23M862 785l-2 -14M885 906l-4 -35M799 875l-3 -40M912 813l-7 -30M870 825l-3 -28M721 767l8 -22M567 925l2 -29M785 817l10 -28M690 649l-3 -11M701 908l-17 -42M829 670l-0 -5M524 705l3 -9M641 875l-5 -15M789 760l-0 -11M934 827l2 -10M947 779l-4 -29M720 675l-6 -13M803 640l-3 -6M716 586l-1 -3M829 682l-2 -16M700 631l0 -5M555 583l1 -4M574 753l-8 -16M885 580l0 -2M669 952l-7 -40M528 722l-7 -18M947 744l0 -11M740 725l-2 -20M531 647l0 -3M794 916l-1 -13M552 863l-2 -27M827 915l-4 -26M642 642l-1 -10M622 821l-1 -14M826 836l-2 -29M923 698l-4 -12M806 815l-7 -19M717 713l-2 -8M740 939l-7 -16M603 577l1 -4M606 853l11 -26M756 783l-0 -18M888 910l11 -42M876 964l-10 -55M596 693l3 -11M770 615l0 -4M564 759l4 -12M664 615l1 -4M633 805l-1 -22M849 830l12 -32M781 844l5 -20M774 643l1 -3M877 724l0 -6M637 646l2 -6M574 583l-1 -2M782 894l0 -18M545 639l-1 -9M839 655l3 -11M870 876l6 -27M824 598l-1 -2M857 783l-4 -15M629 915l15 -38M897 840l-1 -19M853 632l-1 -4M534 799l5 -11M758 940l2 -21M616 964l7 -47M923 641l-2 -6M693 939l7 -29M715 712l-3 -14M626 660l-2 -4M799 737l6 -14M928 711l6 -15M901 691l1 -5M861 722l-0 -17M826 948l20 -43M759 837l5 -17M872 756l-1 -11M929 635l-2 -9M751 722l2 -21M620 900l7 -44M609 652l1 -5M912 639l-0 -8M636 885l-12 -40M626 726l2 -18M852 927l-5 -31M809 794l1 -27M949 603l-1 -2M818 952l2 -20M534 721l-4 -9M789 752l-2 -15M669 814l-4 -16M546 901l-4 -37M693 817l0 -16M889 963l13 -33M826 871l1 -17M534 891l-12 -37M901 754l-7 -25M716 961l22 -46M783 824l9 -23M841 861l-2 -13M877 879l-8 -37M588 940l20 -49M627 852l1 -29M747 862l6 -34M580 936l-15 -39M551 867l8 -19M891 767l-1 -9M603 663l-3 -7M822 592l1 -4M765 669l-3 -10M890 922l-8 -22M733 880l-3 -29M615 714l1 -6M651 962l18 -53M809 701l-1 -7M806 578l0 -3M822 664l0 -11M617 728l-2 -15M858 773l-1 -10M579 631l-1 -7M905 676l-4 -9M836 862l-2 -13M609 943l-13 -49M798 867l7 -19M769 860l-3 -15M884 769l-5 -12M932 804l2 -9M519 722l3 -8M678 863l6 -25M739 598l-0 -4M696 824l3 -16M597 918l-6 -20M551 782l-2 -14M820 794l-5 -16M912 590l0 -2M777 627l2 -7M780 846l12 -36M555 877l1 -36M566 858l10 -22M895 737l1 -8M941 712l2 -12M525 900l10 -25M738 879l-2 -31M554 700l2 -8M631 817l-1 -16M864 741l0 -11M708 909l-14 -45M791 821l-2 -14M870 862l17 -36M598 872l5 -19M861 940l5 -25M756 700l1 -16M746 722l5 -12M640 823l14 -31M578 894l10 -25M520 872l0 -26M712 882l10 -35M697 841l-11 -26M684 798l1 -31M575 709l-6 -16M827 927l-14 -40M656 719l-1 -20M529 751l-1 -10M897 591l1 -3M799 846l1 -15M528 738l-3 -8M531 790l-2 -13M825 954l-9 -40M793 601l-0 -1M793 819l-2 -17M851 895l-4 -42M677 898l4 -19M894 658l-3 -12M628 815l3 -31M773 763l-1 -19M804 619l0 -4M876 926l16 -40M707 931l-6 -38M826 781l-3 -29M551 771l-6 -13M619 962l-3 -18M950 733l3 -13M575 727l-4 -15M566 848l-2 -39M529 789l-3 -19M868 802l-8 -23M588 876l-4 -29M810 817l7 -23M715 595l0 -3M774 866l9 -19M840 970l-2 -20M603 604l1 -4M742 817l-9 -28M724 926l-10 -43M546 852l9 -36M615 860l-12 -38M595 947l10 -37M545 957l-1 -27M611 855l5 -33M870 842l-4 -11M894 878l1 -11M597 762l-3 -9M548 814l-2 -30M772 667l1 -9M938 591l0 -3M906 833l-2 -13M672 929l-1 -20M562 622l1 -5M672 576l-0 -1M697 720l-3 -19M744 595l-1 -3M776 752l-3 -12M694 651l-1 -4M783 885l17 -36M740 752l1 -12M801 884l3 -24M836 699l2 -15M602 762l-3 -12M807 587l2 -4M888 604l-0 -4M875 890l-7 -19M736 907l-4 -15M586 646l2 -10M598 802l-1 -14M887 848l-6 -36M714 936l-3 -24M761 888l-2 -13M814 720l-4 -12M864 743l-4 -21M941 728l2 -11M699 713l3 -8M703 849l13 -29M601 752l2 -14M574 715l-1 -16M810 878l4 -43M800 626l-3 -7M733 737l2 -22M948 902l-2 -28M558 861l2 -27M620 870l8 -34M557 700l1 -7M929 772l-4 -12M832 870l-9 -39M927 788l0 -9M527 590l0 -3M869 855l-2 -18M705 941l-10 -32M699 755l4 -18M935 653l2 -10M848 916l15 -35M916 824l5 -34M695 610l-0 -2M660 806l-7 -25M552 778l2 -11M708 716l7 -20M859 608l1 -2M541 939l-12 -45M615 611l-1 -2M687 580l-1 -4M944 920l-5 -13M547 950l13 -38M615 877l-0 -33M833 722l3 -11M558 761l0 -14M572 882l-1 -25M669 650l-3 -8M778 815l8 -19M936 853l1 -33M938 934l-6 -45" stroke="#62a064" stroke-opacity="0.55" stroke-width="1.8" fill="none" stroke-linecap="round"/>
<path d="M918 951l-19 -47M700 785l-3 -10M653 609l1 -3M636 802l-4 -29M815 961l19 -44M946 872l9 -20M815 739l5 -18M620 692l2 -10M760 790l1 -14M711 743l1 -8M907 609l2 -5M668 695l-2 -17M735 619l-1 -4M524 817l3 -12M824 801l8 -26M606 744l1 -12M686 727l-3 -6M589 814l1 -11M795 698l3 -13M551 890l15 -33M739 683l5 -10M578 630l2 -5M702 776l1 -25M572 777l-4 -15M944 880l-3 -14M582 798l6 -23M539 943l5 -24M855 709l-0 -6M793 821l10 -24M521 708l-4 -9M701 926l-8 -21M670 615l-1 -5M848 932l-8 -42M802 651l1 -3M627 782l1 -12M751 659l-4 -9M837 585l-0 -2M577 609l0 -5M612 612l-1 -4M749 667l-1 -6M865 877l-2 -38M659 921l1 -13M843 886l-6 -23M595 860l2 -24M729 867l6 -38M829 658l-2 -8M678 809l-2 -15M826 776l1 -11M734 734l2 -13M546 663l-2 -4M680 756l-3 -11M522 753l3 -24M924 821l6 -19M554 581l-1 -2M619 836l-6 -26M525 684l-6 -14M872 925l-5 -46M760 602l0 -1M679 966l-14 -43M884 933l4 -33M836 787l7 -15M534 898l-3 -15M543 626l-2 -6M673 639l-2 -4M655 706l-2 -8M584 821l1 -31M651 846l-9 -30M684 791l-9 -26M917 645l1 -4M708 943l-3 -33M688 641l-2 -7M803 670l1 -6M547 911l-3 -17M763 807l7 -20M750 892l5 -16M875 872l9 -39M720 956l-2 -50M819 679l2 -4M736 701l-4 -12M736 638l2 -5M635 765l3 -26M573 633l1 -6M833 626l-0 -4M686 752l4 -18M544 601l-1 -2M891 918l-2 -30M756 803l-5 -24M804 671l-2 -13M550 678l5 -13M548 654l-4 -11M837 887l1 -29M778 718l-5 -15M709 828l3 -11M625 641l-4 -8M899 620l0 -5M516 914l-2 -25M641 685l0 -12M782 678l0 -10M794 964l0 -20M805 903l11 -23M621 846l-1 -14M727 729l-7 -15M669 767l2 -16M518 671l-4 -11M854 704l-8 -16M597 949l-6 -46M873 806l-2 -23M516 644l3 -9M757 707l2 -13M657 969l1 -26M532 715l5 -15M629 918l4 -27M662 820l-11 -33M858 834l7 -25M811 827l-2 -26M740 581l-0 -2M927 842l5 -37M770 699l2 -7M816 586l-1 -4M636 855l0 -21M692 767l-10 -24M668 721l-5 -16M882 623l-0 -3M904 847l-10 -27M834 639l1 -5M886 766l3 -11M845 583l-1 -2M596 920l-15 -33M553 960l-0 -17M772 797l2 -26M944 609l-2 -5M604 676l-1 -4M724 741l4 -18M797 754l4 -16M731 807l10 -28M751 661l-1 -4M553 580l0 -4M862 930l-2 -20M822 617l-1 -7M936 932l5 -45M747 874l8 -20M759 773l-3 -15M669 802l5 -15M589 755l-0 -23M620 941l5 -21M896 874l15 -34M855 770l-0 -28M523 738l-4 -8M546 861l-1 -18M875 682l2 -12M557 868l-2 -37M644 691l-4 -17M547 942l1 -44M584 640l-0 -7M944 854l2 -22M555 779l-4 -21M799 830l-9 -33M585 722l-3 -13M820 701l3 -6M886 823l9 -33M723 669l0 -14M897 885l4 -11M882 772l-10 -24M878 700l-5 -16M757 810l2 -10M783 586l-2 -4M823 756l-5 -25M792 755l1 -14M659 590l1 -1M820 724l-1 -9M624 661l2 -7M611 761l-3 -10M584 896l-4 -45M817 886l3 -19M695 719l4 -8M557 590l0 -1M918 875l-5 -18M528 587l-1 -4M557 655l1 -7M530 651l0 -9M641 627l-1 -3M789 952l-4 -40M884 675l-4 -11M851 808l-2 -27M806 791l6 -18M546 792l-2 -24M797 823l-5 -14M855 817l3 -14M565 926l8 -22M826 667l1 -7M745 674l-4 -13M676 746l4 -16M919 714l-1 -6M930 888l9 -21M535 775l2 -10M635 697l5 -11M685 892l-3 -12M666 599l1 -3M662 906l-10 -27M787 637l0 -4M549 887l-7 -44M810 603l-0 -2M692 756l-3 -8M814 790l-8 -21M749 715l-1 -9M730 746l-3 -18M575 967l-2 -49M721 711l-1 -9M523 765l8 -21M921 639l1 -5M923 915l5 -16M762 780l3 -25M681 868l1 -14M902 662l-0 -7M797 587l-0 -2M880 793l-5 -15M830 723l3 -16M530 887l16 -39M929 725l3 -11M934 758l1 -19M664 688l1 -12M913 833l-14 -33M729 822l4 -34M802 925l16 -36M832 704l3 -10M808 757l-4 -26M692 898l-17 -42M742 744l0 -15M612 600l-1 -4M921 662l-2 -6M606 871l-3 -24M950 887l-12 -28M523 716l-4 -15M539 826l-3 -14M690 762l1 -10M780 892l7 -38M642 969l-6 -33M596 831l-10 -28M637 679l1 -10M743 812l-7 -20M888 824l-14 -34M582 817l6 -32M832 960l-3 -20M519 841l3 -12M593 651l2 -5M774 735l5 -14M680 746l-3 -15M752 580l-1 -3M670 692l0 -13M547 655l0 -6M587 779l-0 -29M895 722l0 -12M901 885l-3 -44M923 926l-2 -23M738 583l-1 -3M909 630l-2 -8M718 701l6 -14M648 753l3 -21M589 592l-0 -2M572 671l0 -5M815 699l5 -13M531 613l0 -3M592 651l1 -5M632 824l4 -27M583 933l8 -31M687 619l0 -6M864 945l-20 -46M542 642l0 -9M702 679l1 -15M916 620l1 -6M899 946l4 -52M590 699l2 -9M708 822l3 -17M655 662l-1 -4M907 724l3 -7M920 645l-2 -9M746 724l-2 -19M652 637l2 -9M718 844l-7 -37M915 865l11 -28M601 698l1 -11M710 693l4 -15M651 911l8 -27M677 694l0 -5M920 928l14 -35M708 945l6 -15M518 596l1 -3M790 601l-1 -4M932 610l-1 -2M736 773l-3 -18M620 630l-1 -4M795 656l-3 -11M621 878l1 -12M671 943l-17 -44M947 823l-14 -31M816 763l-5 -19M795 880l-1 -12M937 965l-16 -39M770 772l7 -17M629 600l1 -4M783 673l3 -8M753 931l4 -21M872 881l-13 -29M577 668l2 -5M694 720l-0 -8M792 893l5 -39M729 686l5 -15M821 584l1 -1M702 629l3 -7M557 789l8 -22M645 607l-0 -2M722 696l1 -16M837 651l2 -9M889 645l-0 -9M597 716l-0 -17M859 670l1 -10M911 871l-7 -40M951 709l-4 -17M912 737l-6 -21M883 895l15 -42M731 853l-3 -12M526 919l-3 -32M566 716l3 -11M612 954l-12 -48M933 646l-4 -9M592 950l10 -22M530 626l0 -7M675 888l9 -38M658 693l-3 -14M752 645l4 -9M747 657l1 -4M919 873l5 -37M740 699l5 -14M926 946l-5 -30M533 788l2 -8M890 961l6 -16M822 815l9 -27M792 642l1 -5M643 969l-5 -38M533 890l-7 -18M736 800l2 -13M793 846l13 -28M819 847l3 -10M929 584l-1 -4M800 612l-1 -3M787 671l-1 -7M543 820l11 -29M658 808l5 -17M940 734l8 -19M595 654l0 -9M599 840l-9 -21M677 612l1 -2M659 674l4 -8M799 691l2 -8M859 649l1 -4M770 920l5 -44M746 611l-1 -3M951 744l2 -17M800 967l1 -35M943 709l-2 -11M542 585l-0 -4M930 867l-0 -13M600 911l17 -38M780 766l-4 -16M638 767l-3 -17M696 836l6 -26M571 899l-8 -25M855 929l13 -33M859 799l-8 -21M804 798l2 -15M899 788l6 -24M536 874l-3 -35M894 694l2 -5M691 749l1 -7M927 802l-4 -26M697 856l-10 -30M813 902l-4 -32M939 605l0 -3M857 621l2 -5M774 828l-5 -23M576 830l-3 -23M928 904l18 -39M598 704l-1 -8M822 633l-1 -3M725 816l-4 -32M656 949l4 -14M523 946l8 -42M804 640l-1 -4M591 920l12 -40M869 715l2 -9M587 612l-1 -4M702 577l-1 -4M581 913l-6 -18M866 593l-0 -3M922 859l-5 -26M674 825l-3 -11M625 832l4 -13M832 912l-4 -35M726 963l15 -54M580 746l-2 -10M795 800l-3 -14M891 838l3 -34M637 722l1 -19M567 654l3 -10M623 943l-7 -15M605 904l-7 -46M659 639l-1 -5M711 623l1 -4M718 922l-16 -34M644 913l-13 -33M537 947l-16 -47M685 821l4 -29M829 862l-5 -30M684 832l-11 -26M861 734l-7 -15M853 968l14 -42M619 619l-1 -6M853 610l2 -5M836 930l-15 -41M804 693l-3 -7M879 611l-1 -6M829 778l3 -12M756 582l-0 -1M790 884l6 -42M786 962l-20 -46M697 811l7 -16M745 580l-0 -3M940 875l15 -36M832 625l-3 -6M550 824l-4 -10M584 914l-14 -32M605 911l16 -34M726 888l-13 -38M908 719l-1 -7M842 947l18 -39M684 868l-16 -34M903 577l1 -3M885 666l1 -8M572 922l5 -13M696 953l-13 -53M865 934l7 -15M725 635l1 -9M948 730l-1 -16M850 878l5 -28M522 685l-3 -7M743 581l1 -2M729 577l-1 -4M752 603l-1 -3M853 749l-2 -11M946 694l-3 -7M674 595l-1 -3M633 790l-1 -12M713 955l-3 -33M649 697l-2 -6M872 745l-4 -16M571 585l-1 -4M700 609l0 -4M906 758l-2 -25M598 923l-10 -44M532 663l-5 -11M897 884l-5 -41M805 646l-1 -8M928 670l1 -9M564 888l-9 -35M566 711l4 -15M622 696l-2 -7M799 640l2 -4M618 775l-6 -22M796 700l-6 -15M559 902l16 -42M677 968l-4 -17M764 783l-5 -11M788 856l-7 -30M699 845l-2 -14M692 937l-3 -28M799 957l-1 -19M570 721l4 -20M592 835l6 -28M595 953l9 -26M816 636l-1 -5M872 809l-6 -29M787 784l-4 -16M613 783l2 -19M589 587l-1 -2M679 800l-4 -17M943 671l3 -11M590 664l-2 -4M614 582l0 -2M872 774l-3 -24M610 716l-2 -14M926 793l-5 -15M526 898l2 -25M661 735l-1 -18M950 926l2 -23M786 576l1 -2M842 675l-3 -9M927 766l4 -17M734 777l9 -21M805 909l-4 -29M726 701l1 -5M704 670l4 -10M597 926l-1 -26M841 775l4 -20M868 822l3 -19M753 658l-2 -12M755 861l14 -39M785 805l-5 -11M729 724l-1 -10M819 663l0 -4M897 694l-2 -6M613 814l5 -23M573 689l-2 -5M659 705l-1 -16M543 882l9 -34M765 754l-5 -22M681 867l10 -37M633 654l1 -11M868 614l-0 -3M631 589l-1 -2M636 595l-0 -1M822 938l2 -13M831 888l14 -43M939 730l-3 -18M870 813l6 -23M729 955l5 -22M554 648l2 -11M796 839l-13 -28M711 822l7 -25M785 701l-2 -9M883 651l-1 -8M531 634l-0 -6M601 955l8 -47M516 844l9 -29M692 838l1 -16M537 598l1 -4M633 934l5 -48M555 670l2 -10M936 805l-4 -19M601 878l-3 -27M643 591l-1 -1M880 950l-0 -51M641 900l8 -29M523 830l-9 -20M918 777l4 -14M935 684l-4 -14M871 579l-1 -2M587 969l9 -38M525 629l1 -4M702 827l-1 -36M848 891l-12 -28M933 957l-8 -22M760 859l6 -26M794 643l1 -6M727 577l-0 -4M688 849l7 -22M722 674l-4 -13M609 687l3 -14M567 969l-4 -23M681 757l1 -9M754 607l-1 -4M869 775l-3 -20M897 825l3 -30M700 834l-5 -23M687 637l-2 -5M898 618l1 -2M551 586l1 -2M624 689l0 -10M885 629l1 -4M564 737l-4 -16M736 763l-2 -8M682 884l10 -29M728 681l1 -7M812 941l-3 -29M676 854l-3 -24M533 878l-2 -27M784 677l1 -13M837 781l11 -28M845 942l-4 -25M929 640l1 -8M740 886l-6 -25M760 819l-3 -25M565 612l1 -5M588 643l-0 -5M842 925l16 -48M878 667l1 -9M869 796l-5 -12M620 864l1 -36M825 751l3 -12M641 721l-3 -11M922 613l-1 -4M927 946l-7 -22M571 590l1 -2M568 952l-2 -21M709 615l0 -6M698 798l3 -21M689 659l1 -12M764 788l6 -24M714 837l10 -21M742 890l10 -31M913 733l3 -17M695 803l7 -24M902 608l0 -3M556 805l-9 -30M896 633l1 -7M654 741l-4 -18M700 709l-9 -18M713 818l-3 -11M632 913l3 -15M574 793l-2 -22M543 782l3 -8M835 809l1 -12M624 761l-3 -9M674 730l-0 -12M915 722l6 -15M795 600l0 -3M777 691l2 -11M737 621l-2 -6M947 593l0 -4M591 631l-1 -6M677 948l-8 -48M834 685l-2 -13M932 911l-7 -26M556 645l-2 -7M612 848l-11 -27M745 628l2 -7M651 820l-2 -20M543 621l-1 -5M573 938l11 -24M918 760l-3 -20M665 678l-4 -12M860 639l1 -4M572 942l-6 -26M883 870l4 -11M880 623l1 -5M869 904l-8 -26M655 670l-2 -11M650 933l19 -44M544 952l-5 -28M602 784l-1 -9M606 667l-2 -9M728 851l5 -22M922 900l-8 -38M560 895l11 -30M539 788l12 -27M680 895l9 -23M533 608l1 -3M592 960l-7 -50M880 898l-4 -20M929 629l2 -7M640 745l-3 -20M920 598l-0 -2M695 796l-8 -28M832 775l2 -23M614 801l-9 -29M640 800l-6 -23M597 753l1 -13M543 815l-4 -17M581 892l11 -30M828 866l7 -27M706 756l7 -20M707 801l10 -22M620 910l-8 -19M788 603l-0 -2M650 624l0 -4M837 634l1 -8M908 787l1 -8M942 843l-10 -22M859 648l-0 -4M784 924l3 -14M927 682l-2 -10M735 767l-7 -17M676 722l-2 -20M582 604l-0 -4M810 591l1 -3M790 953l4 -15M578 578l1 -4M580 610l2 -4M802 677l-3 -7M533 725l-7 -18M779 674l-1 -5M835 718l3 -9M739 705l-1 -8M913 794l-2 -18M896 884l1 -13M633 791l4 -28M819 889l-0 -29M853 597l-0 -3M723 670l1 -8M519 704l1 -7M560 752l-4 -14M688 795l-6 -13M648 659l4 -11M825 762l5 -22M897 921l-4 -38M701 875l-4 -31M631 587l-1 -3M740 682l-4 -10M788 885l-3 -41M943 875l-15 -36M516 579l-1 -2M607 901l12 -38M803 624l0 -2M664 844l10 -37M522 850l10 -38M687 856l12 -33M802 948l3 -50M801 589l1 -4M723 777l12 -26M799 585l-0 -4M684 660l-5 -11M548 666l2 -10M534 703l-4 -11M915 872l5 -20M817 929l19 -44M893 770l8 -26M818 697l5 -12M626 643l-0 -8M753 618l-3 -5M575 651l1 -4M642 928l-6 -24M755 908l1 -13M690 919l-8 -43M657 657l-1 -6M531 756l-1 -7M901 858l6 -14M576 811l3 -21M595 861l3 -34M683 843l7 -26M911 730l1 -11M913 865l6 -21M523 961l5 -14M842 931l5 -46M931 915l0 -16M910 844l-2 -32M776 729l2 -19M867 962l6 -43M945 764l-4 -24M755 945l7 -14M866 956l-1 -15M894 584l0 -3M651 962l13 -46M759 940l-3 -35M758 921l8 -17M648 727l-7 -21M638 799l11 -24M760 861l-5 -17M894 845l-10 -29M851 636l-2 -5M763 746l2 -7M594 774l-2 -23M826 867l2 -24M935 740l-5 -13M765 716l-4 -15M686 851l-10 -33M633 727l1 -8M578 887l-9 -32M802 772l2 -21M795 763l-2 -18M579 701l-1 -9M797 587l1 -2M527 586l1 -4M626 910l2 -43M592 910l6 -41M542 876l-12 -33M892 800l-3 -23M779 855l1 -35M550 718l-3 -21M927 784l9 -19M692 637l0 -3M760 672l2 -9M866 606l-1 -4M628 823l-5 -13M769 591l1 -2M742 775l8 -21M742 852l-5 -21M880 644l-2 -8M806 800l1 -12M623 723l-2 -9M551 787l-2 -21M565 848l12 -36M709 937l-1 -15M872 757l4 -10M597 694l-1 -6M696 656l0 -6M799 938l-7 -17M557 610l1 -3M798 676l4 -13M946 865l-1 -28M910 602l-0 -3M642 671l-2 -7M659 904l-6 -24M575 957l-2 -16M934 785l5 -15M565 859l4 -18M782 939l1 -22M707 613l0 -2M840 786l0 -10M887 968l2 -30M641 589l-1 -4M846 720l2 -11M655 779l-2 -16M670 931l0 -35M701 603l-1 -3M734 736l-4 -21M909 779l-1 -20M632 604l-0 -2M660 705l-4 -8M568 623l2 -4M566 817l6 -19M780 896l-4 -12M736 626l-1 -4M734 849l13 -38M521 630l3 -7M549 662l3 -8M802 691l4 -10M674 587l1 -2M574 615l-1 -3M783 632l-2 -6M754 646l-0 -8M621 676l4 -11M812 832l8 -23M711 735l2 -21M597 629l-2 -7M726 714l-3 -18M782 825l7 -15M787 681l5 -14M552 758l1 -12M683 904l-5 -21M941 641l1 -8M518 876l-5 -19M588 884l1 -33M832 663l4 -10M648 746l-3 -25M803 628l-1 -3M793 668l1 -8M707 888l12 -32M552 655l2 -11M824 904l-11 -29M663 911l-3 -20M918 666l-1 -6M786 723l1 -10M936 596l1 -4M676 622l-1 -6M770 880l-14 -42M758 674l4 -10M723 845l8 -27M943 691l7 -15M691 957l-5 -55M573 730l5 -22M576 962l-13 -34M524 705l-1 -10M792 599l0 -1M747 773l-7 -22M902 583l-1 -1M769 641l1 -6M716 806l1 -12M631 731l2 -9M567 616l1 -5M520 969l15 -45M675 610l1 -3M853 778l2 -10M645 968l-8 -33M770 735l1 -7M662 875l3 -18M588 855l4 -11M582 644l-0 -5M690 827l2 -30M682 753l-4 -25M767 943l19 -50M535 743l-7 -23M551 859l9 -37M787 597l1 -3M846 785l-11 -23M894 816l-7 -17M725 700l-2 -9M627 967l1 -40M799 868l4 -30M943 584l1 -4M781 746l-5 -14M875 716l5 -13M825 600l-0 -1M739 765l8 -20M931 929l3 -50M670 659l-1 -6M627 934l6 -48M836 725l6 -18M807 595l1 -4M813 949l8 -16M743 820l3 -12M862 957l-1 -36M654 665l-4 -10M837 867l-3 -16M682 609l-1 -2M895 603l-0 -1M552 869l5 -34M802 821l-2 -31M865 716l9 -18M856 612l-2 -5M802 817l8 -16M631 584l1 -2M561 831l5 -19M887 674l1 -4M621 766l-5 -21M791 935l-2 -31M739 965l17 -51M554 728l-4 -10M663 919l-10 -25M529 893l8 -39M792 831l12 -29M545 694l-2 -7M641 907l-11 -35M776 657l-0 -5M883 640l2 -9M824 839l-1 -29M779 664l-2 -4M735 702l1 -18M614 796l1 -21M913 819l-2 -11M524 893l-9 -41M623 855l4 -13M852 946l-2 -16M599 614l0 -6M750 638l0 -3M761 730l-6 -20M690 639l0 -4M619 768l1 -20M562 910l1 -17M862 855l-7 -15M759 845l-8 -36M944 945l-18 -46M673 575l-0 -1M803 578l1 -3M617 922l0 -13M582 707l4 -16M784 622l-1 -4M698 659l-2 -4M542 646l-1 -9M678 749l5 -10M914 887l5 -15M533 841l-6 -13M787 832l-9 -19M793 641l3 -9M910 767l-6 -16M527 592l1 -3M895 667l1 -5M810 946l22 -47M721 814l-1 -11M789 771l-1 -25M634 959l3 -28M869 748l-10 -22M532 864l-8 -21M744 940l7 -20M539 932l-9 -30M528 685l-1 -9M609 949l-12 -29M618 692l-0 -17M862 768l-0 -12M650 965l6 -14M523 757l-4 -20M839 615l0 -2M811 919l10 -33M610 692l-1 -10M661 947l15 -34M907 770l3 -18M883 642l-1 -6M806 890l4 -12M575 710l8 -17M822 779l-2 -9M898 901l-12 -42M599 761l1 -12M668 652l2 -5M780 881l0 -16M650 808l1 -17M682 631l0 -3M719 839l5 -23M897 963l0 -25M602 685l-6 -15M737 674l2 -10M659 771l-4 -11M549 929l-14 -39M536 970l-5 -20M906 672l2 -11M762 605l0 -2M943 696l-4 -8M705 752l1 -12M599 595l1 -2M580 873l6 -39M772 749l4 -12M722 961l2 -27M640 933l7 -29M899 915l-8 -36M930 603l-0 -4M614 760l4 -14M758 811l4 -11M813 872l3 -17M894 724l-3 -18M852 695l-1 -10M518 638l-1 -3M871 820l-5 -30M612 623l-1 -5M941 951l9 -34M543 757l-3 -12M617 744l-1 -6M792 891l-9 -25M827 657l-1 -7M645 690l-2 -7M722 884l-8 -38M876 907l-13 -33M716 855l-1 -26M538 949l6 -39M864 812l-4 -10M728 642l1 -3M905 967l6 -13M910 729l-4 -12M656 689l5 -11M815 907l6 -47M778 787l-1 -26M655 759l-2 -13M818 699l-4 -15M822 722l-1 -20M632 688l6 -14M666 918l16 -37M533 957l-16 -37M617 948l-3 -33M678 949l-1 -41M922 653l1 -8M803 818l-12 -31M742 634l1 -5M936 770l4 -15M601 968l-1 -45" stroke="#8ec488" stroke-opacity="0.50" stroke-width="1.6" fill="none" stroke-linecap="round"/>
<path d="M612 755l-3 -7M674 876l2 -23M940 597l-1 -2M712 860l-1 -11M674 633l-3 -7M890 748l2 -13M693 598l-0 -2M772 739l-2 -11M943 837l-8 -20M873 645l-2 -4M578 962l4 -14M696 913l-2 -15M782 905l5 -19M533 810l8 -33M861 735l-2 -18M854 850l3 -13M669 942l7 -44M817 677l6 -13M943 965l4 -20M834 710l1 -13M852 886l11 -35M751 829l-0 -11M564 968l9 -39M693 957l-14 -48M789 607l-1 -5M737 896l-5 -12M691 699l-5 -12M932 793l7 -23M872 768l2 -9M867 645l-3 -8M664 875l16 -36M601 784l-3 -16M649 683l-0 -8M778 646l-1 -8M833 729l1 -21M666 726l4 -17M841 631l-2 -4M788 606l2 -5M525 828l-3 -26M937 607l1 -3M658 971l8 -28M744 752l3 -23M548 695l4 -10M617 877l0 -13M608 753l0 -15M836 896l4 -35M853 803l8 -29M892 676l-1 -4M914 670l-0 -6M559 598l-2 -4M547 781l-4 -9M751 847l14 -32M734 879l6 -30M715 876l10 -43M705 780l8 -18M624 779l-1 -15M735 906l-1 -37M531 642l0 -9M698 723l4 -10M521 720l-3 -6M583 775l1 -9M586 722l0 -10M671 598l0 -3M725 637l-1 -4M938 810l5 -27M693 832l7 -20M803 747l1 -13M911 676l-0 -9M820 876l-5 -36M722 811l-3 -9M524 841l1 -18M882 831l4 -29M874 700l4 -17M937 833l8 -28M886 703l-1 -6M926 657l1 -7M567 958l-14 -41M569 604l-1 -3M743 740l1 -21M790 906l-8 -18M781 902l6 -15M541 788l-5 -25M882 691l-2 -4M731 773l10 -22M654 622l1 -2M610 635l-0 -9M579 642l1 -3M623 940l9 -24M572 596l-0 -2M601 738l-7 -18M528 667l4 -8M686 674l-0 -4M906 909l9 -46M616 789l0 -23M667 709l1 -6M754 822l1 -11M942 594l-0 -3M562 766l7 -20M843 763l-3 -11M656 604l0 -4M535 950l-3 -39M702 797l-2 -12M697 682l-1 -5M587 738l-4 -22M696 795l6 -18M876 903l7 -44M696 905l-2 -38M741 744l-3 -25M678 791l10 -26M736 892l0 -14M912 911l6 -37M929 648l0 -9M802 668l-3 -13M863 649l1 -10M845 796l5 -23M919 918l5 -14M717 712l-5 -11M696 679l-4 -15M876 620l1 -6M546 933l7 -26M564 580l-1 -2M920 634l2 -6M703 662l-5 -10M742 758l4 -22M526 918l6 -36M641 614l-2 -4M847 635l0 -3M696 856l8 -21M667 777l4 -21M804 927l8 -32M803 615l-1 -4M934 921l8 -48M625 807l-1 -20M578 790l-10 -26M688 594l-0 -2M645 637l2 -5M665 943l9 -22M859 803l5 -17M943 875l13 -32M874 784l-2 -29M855 930l4 -19M690 711l-4 -9M623 676l-2 -11M843 692l0 -13M573 667l-2 -5M706 796l-4 -19M536 971l1 -54M828 678l1 -6M877 806l6 -22M615 865l5 -39M918 826l6 -18M657 800l-4 -10M654 726l6 -17M713 911l10 -24M777 784l2 -27M793 919l0 -20M633 703l-1 -13M807 757l-1 -25M743 868l8 -40M877 652l-2 -7M734 661l1 -6M808 740l-5 -12M741 736l-2 -10M593 797l-1 -13M867 914l-2 -25M930 807l-4 -26M883 768l3 -28M544 631l-2 -6M566 601l-1 -4M750 686l1 -5M800 820l6 -27M666 594l-0 -1M716 736l-2 -8M834 648l-1 -9M741 850l0 -19M692 839l-6 -38M599 820l4 -31M794 742l1 -8M810 883l3 -37M827 820l-11 -32M678 809l-1 -17M739 746l4 -15M870 857l2 -14M843 722l-6 -18M564 803l4 -33M693 685l4 -11M570 718l-2 -14M939 872l3 -17M712 629l0 -5M757 828l10 -23M900 710l5 -20M930 616l0 -3M569 859l4 -30M827 801l7 -17M620 612l-0 -4M517 843l4 -29M750 932l-13 -42M887 942l3 -16M916 956l11 -49M587 686l7 -14M858 632l-1 -7M816 800l3 -12M689 961l14 -50M750 835l12 -26M909 892l-1 -13M657 836l2 -17M939 729l2 -9M567 900l-5 -15M517 639l1 -7M582 935l-3 -42M833 702l2 -13M937 598l1 -1M806 807l-1 -13M855 686l2 -9M731 937l-15 -41M818 962l-6 -13M935 578l0 -1M645 734l2 -10M596 904l1 -43M696 638l3 -8M633 707l-2 -7M898 870l-6 -14M895 684l-3 -14M743 761l7 -17M826 606l1 -5M630 955l13 -27M581 900l13 -45M640 818l1 -27M935 635l-2 -7M599 678l2 -11M580 697l-2 -4M612 954l10 -32M687 930l-3 -30M760 703l-3 -9M867 831l-0 -15M946 622l2 -5M858 799l-0 -17M945 605l1 -4M708 592l1 -3M795 780l-0 -14M950 894l-8 -27M691 890l14 -29M755 752l-1 -23M934 741l5 -23M698 850l-4 -26M815 631l1 -6M631 753l4 -18M578 868l0 -28M946 609l-1 -4M924 708l5 -18M900 882l-14 -29M923 638l-1 -9M773 759l8 -21M664 673l4 -9M624 672l-2 -6M566 904l7 -43M915 890l5 -26M696 643l1 -5M772 738l-3 -7M588 825l7 -22M857 732l1 -9M693 837l1 -19M735 914l12 -46M768 735l1 -6M579 904l16 -41M810 802l1 -13M900 911l0 -13M735 922l-4 -25M863 867l-2 -40M883 868l8 -26M950 701l1 -18M688 608l-2 -4M671 949l-8 -34M780 866l-4 -12M519 815l4 -27M533 860l-3 -15M741 767l2 -16M598 890l7 -20M688 681l-6 -13M766 698l-2 -5M523 628l1 -3M622 711l-7 -15M915 652l4 -11M576 936l-3 -30M618 947l-1 -29M641 950l-6 -34M568 686l2 -15M944 597l-2 -4M726 584l0 -1M804 606l0 -4M595 894l-1 -35M575 828l6 -23M654 583l1 -1M913 957l5 -30M925 616l-1 -3M861 799l-5 -20M920 732l2 -19M806 882l5 -43M609 606l1 -3M753 960l2 -30M536 650l1 -3M719 944l-9 -34M536 926l-6 -39M628 625l-1 -2M768 676l-0 -5M718 702l-2 -9M602 766l7 -16M564 910l5 -13M871 725l4 -19M722 814l4 -19M700 876l-11 -24M921 629l1 -2M681 720l1 -9M543 790l7 -16M941 926l-8 -31M918 762l-0 -21M937 860l11 -36M946 590l-1 -4M764 624l1 -5M625 860l-7 -26M658 805l8 -29M924 720l-2 -14M659 808l-2 -10M919 847l4 -14M670 643l0 -8M684 969l1 -31M710 883l14 -37M641 853l15 -36M582 725l-1 -8M737 946l3 -27M578 761l-1 -18M697 649l0 -4M609 862l8 -21M732 926l-4 -21M630 687l-0 -9M598 612l-1 -4M548 713l4 -15M712 889l-2 -32M760 782l8 -29M571 649l-0 -7M546 758l4 -14M895 771l-10 -24M761 779l5 -24M914 803l7 -23M615 585l1 -2M854 659l-3 -7M595 951l-7 -34M757 788l9 -26M841 776l-6 -15M806 931l12 -45M831 671l0 -7M830 939l-12 -39M516 802l-11 -31M824 919l8 -38M850 605l-1 -3M840 823l4 -32M632 914l-0 -15M941 633l1 -5M790 629l-3 -8M883 882l11 -38M677 921l-1 -36M571 931l-5 -14M796 832l-0 -13M746 847l-7 -21M902 687l4 -10M629 818l7 -24M769 751l4 -23M659 766l1 -11M607 672l-2 -9M584 608l-1 -3M617 619l-1 -6M949 692l-6 -15M913 873l-6 -18M858 911l1 -17M520 645l4 -8M950 680l3 -11M826 813l-4 -15M677 787l-2 -16M712 740l-3 -23M734 857l5 -30M858 685l-1 -7M618 930l8 -24M851 682l-6 -13M518 889l-17 -38M732 721l-2 -20M886 816l2 -18M719 728l-0 -12M807 851l15 -34M833 751l1 -17M570 617l1 -2M946 629l-1 -7M847 782l-3 -15M590 898l5 -33M816 600l1 -2M949 630l-3 -7M766 700l-3 -16M554 895l-6 -20M533 840l-5 -13M858 642l0 -4M656 577l-0 -4M926 961l-2 -33M856 761l-5 -23M748 796l5 -15M557 971l-10 -20M840 896l-1 -16M882 846l5 -38M661 871l0 -16M715 629l-2 -6M585 881l-1 -28M632 755l-1 -8M921 636l-1 -7M594 786l-7 -17M664 689l-1 -6M646 754l3 -9M869 757l11 -24M833 876l-5 -17M869 730l-4 -12M656 829l-3 -21M755 719l-1 -17M751 685l-1 -5M718 785l5 -11M934 634l-3 -7M650 599l1 -3M863 859l-1 -22M522 603l-0 -2M547 777l5 -22M671 915l4 -39M940 640l1 -7M922 586l-1 -3M881 716l3 -15M635 792l-4 -31M644 827l-9 -29M769 579l-0 -2M833 730l-6 -18M688 665l2 -13M661 732l6 -21M524 890l9 -40M809 720l-8 -17M714 698l1 -5M608 721l2 -7M825 751l-3 -17M728 672l-4 -14M749 927l-11 -31M648 802l-3 -21M938 588l0 -1M907 938l-6 -45M609 645l1 -7M815 686l-1 -13M616 695l-1 -8M809 775l1 -10M629 708l3 -12M834 890l3 -13M519 625l2 -6M935 609l1 -4M618 629l1 -7M779 792l1 -15M916 772l-3 -20M585 608l-0 -1M538 830l3 -13M581 832l-8 -33M630 946l5 -16M657 966l2 -16M776 742l3 -16M649 699l3 -14M578 752l-8 -20M715 838l-1 -19M801 583l-0 -4M666 647l-1 -3M666 954l-5 -14M680 790l-3 -11M727 909l16 -36M884 805l-4 -9M888 596l-0 -1M805 778l-4 -27M731 605l-1 -2M713 786l6 -26M916 607l-1 -2M685 900l-10 -27M539 953l13 -35M876 690l1 -8M919 591l-1 -4M899 604l1 -2M541 911l13 -41M610 875l-2 -18M674 804l-11 -27M804 833l8 -24M620 955l16 -53M859 855l-5 -20M658 723l-2 -7M805 970l6 -45M941 820l-1 -22M731 588l-1 -4M814 748l2 -7M815 744l1 -12M905 962l8 -27M935 622l-2 -5M629 645l-1 -3M835 591l-0 -2M792 785l0 -30M760 724l-1 -6M685 758l3 -10M702 578l-1 -3M527 699l-3 -7M527 885l11 -27M642 814l-3 -14M816 632l-2 -6M546 788l3 -8M790 954l-7 -55M558 910l-1 -15M694 912l15 -47M642 749l1 -13M857 756l-3 -14M856 778l-1 -12M886 820l-2 -24M518 616l1 -3M758 946l-13 -43M835 728l6 -18M726 896l14 -36M798 741l-1 -9M929 748l-9 -21M720 876l-1 -31M526 742l4 -21M653 970l-12 -35M934 809l-7 -24M892 821l8 -21M597 815l10 -30M832 618l-0 -4M927 817l-1 -18M734 933l-2 -31M813 802l8 -21M746 966l2 -15M838 612l2 -4M751 815l-4 -10M565 888l-1 -17M927 922l6 -15M704 885l11 -42M741 861l-4 -11M585 897l-3 -15M532 703l0 -12M877 633l3 -6M676 780l-2 -28M852 781l-3 -11M819 890l-0 -38M848 866l6 -19M580 848l-4 -28M649 586l0 -2M904 755l7 -24M562 813l-4 -10M765 768l4 -9M949 854l2 -13M674 795l-2 -28M897 728l0 -6M691 856l9 -20M749 806l-4 -18M896 621l-1 -2M923 776l5 -11M931 637l-1 -3M678 889l-17 -41M588 887l-2 -27M867 860l-6 -36M640 652l1 -9M627 729l6 -12M915 919l-14 -46M825 870l-9 -35M820 713l-6 -19M806 688l3 -11M548 775l3 -12M772 872l-1 -27M562 789l2 -11M700 961l-9 -35M522 967l-6 -37M802 725l1 -18M667 600l-1 -4M550 607l1 -3M812 826l0 -16M901 588l-0 -2M841 727l6 -15M769 897l-3 -24M653 886l4 -24M764 697l-0 -8M593 902l-4 -19M761 814l-2 -13M609 897l5 -21M571 611l-0 -6M783 752l-1 -13M715 595l-0 -3M778 637l0 -8M614 927l-19 -40M658 916l-0 -25M840 858l-5 -30M833 885l1 -13M842 935l-15 -34M618 597l-1 -3M675 662l1 -9M764 592l-1 -2M617 766l-2 -20M707 658l1 -6M797 698l-3 -11M723 820l1 -32M656 790l3 -19M554 581l-1 -4M936 921l-17 -36M793 781l3 -11M699 834l6 -25M897 872l-12 -28M747 793l-9 -26M645 921l9 -32M922 756l11 -24M550 872l-12 -36M589 758l1 -15M817 726l-9 -19M733 827l6 -15M600 892l-2 -34M554 780l-4 -15M732 919l-6 -26M914 674l-2 -13M543 853l17 -36M808 752l-2 -21M645 965l12 -32M866 790l4 -11M685 915l-1 -24M803 703l-6 -14M633 831l-1 -37M756 809l6 -14M950 833l-2 -18M832 726l2 -5M683 860l5 -18M569 784l-4 -10M773 944l-11 -25M781 691l-4 -15M576 851l3 -14M712 755l-8 -25M850 640l-1 -5M680 834l0 -17M771 893l-5 -15M879 745l2 -6M887 588l0 -3M612 951l-2 -33M735 950l2 -25M572 958l-14 -47M519 683l-1 -15M679 823l-10 -35M648 886l-1 -42M633 966l6 -20M875 738l-5 -19M819 752l3 -9M795 719l-0 -6M689 610l0 -4M630 954l-3 -45M865 937l-5 -14M784 867l-12 -39M685 711l-5 -13M709 745l-3 -21M736 902l0 -31M807 742l3 -10M913 603l-0 -1M577 867l7 -24M830 739l4 -11M677 780l4 -9M946 900l9 -21M948 710l7 -16M915 609l-1 -3M937 774l3 -14M615 848l-6 -26M546 912l-9 -34M556 912l11 -28M728 797l-4 -11M618 629l-1 -4M859 886l2 -30" stroke="#3a6a40" stroke-opacity="0.45" stroke-width="1.7" fill="none" stroke-linecap="round"/>
<path d="M857 809l3 -25M600 605l-1 -3M752 897l-1 -21M709 711l5 -18M637 610l-1 -2M688 844l-7 -17M773 705l-2 -6M919 699l7 -15M710 644l1 -9M749 822l2 -21M935 584l0 -4M863 715l0 -14M777 901l15 -35M592 924l-20 -44M788 957l6 -53M579 693l0 -12M635 621l-1 -5M543 621l-0 -2M841 756l2 -21M913 911l-7 -28M894 732l3 -16M922 678l-1 -6M855 637l2 -9M549 757l8 -18M645 822l-1 -10M618 686l-1 -6M812 835l0 -34M751 707l2 -5M886 703l-1 -18M576 731l3 -12M717 632l-3 -7M726 815l-3 -16M857 766l-2 -10M641 748l8 -18M741 771l-7 -16M936 898l-1 -22M732 597l-1 -2M940 707l-1 -15M938 734l4 -22M934 710l6 -14M865 576l1 -2M522 849l11 -30M688 739l-3 -10M931 840l-3 -39M592 588l-1 -3M818 647l-1 -5M548 772l6 -13M631 758l-1 -11M902 719l-3 -10M721 817l-2 -14M619 692l-1 -16M868 646l-1 -5M881 757l1 -21M705 864l5 -19M659 816l2 -10M542 738l-4 -10M740 667l-3 -11M756 650l1 -4M710 679l-2 -6M534 848l-8 -21M592 704l0 -16M566 922l-7 -47M664 755l-2 -20M808 837l-1 -22M531 733l1 -14M568 650l2 -6M841 899l2 -12M943 618l-1 -4M709 799l-8 -22M928 925l8 -38M649 897l-4 -39M945 876l9 -21M648 728l0 -14M936 759l2 -11M643 635l-1 -6M696 668l2 -13M794 843l-2 -32M816 588l-0 -2M550 619l-0 -6M841 608l2 -4M758 781l4 -16M879 600l-0 -2M939 615l-1 -2M651 920l-14 -33M802 579l-0 -2M883 595l1 -3M535 875l-3 -27M749 754l-1 -17M635 891l-7 -20M666 946l-0 -16M557 755l5 -14M851 897l-8 -36M592 640l3 -9M524 886l5 -43M671 829l-3 -34M735 705l-3 -14M899 829l12 -25M664 641l0 -7M651 941l-4 -40M851 822l4 -19M559 679l6 -13M714 768l2 -8M805 672l-1 -15M707 820l-1 -12M536 629l-2 -5M642 919l-3 -49M685 723l2 -7M891 874l-5 -20M802 778l-0 -29M894 638l0 -4M630 729l3 -6M935 750l-3 -12M853 661l3 -7M666 694l-4 -13M891 638l-1 -9M924 776l6 -16M929 713l-1 -7M810 877l8 -31M805 661l1 -3M874 695l-1 -8M859 645l3 -9M690 580l1 -2M802 747l9 -22M755 673l1 -9M752 951l-6 -29M771 640l3 -7M665 940l-21 -44M776 943l-8 -26M740 717l2 -10M749 790l6 -25M851 966l-17 -47M891 636l-3 -6M822 716l-3 -19M754 850l-4 -35M633 949l-6 -16M858 880l1 -16M587 746l-5 -22M910 958l-6 -22M688 577l-0 -1M577 697l-5 -14M867 700l-3 -15M645 958l-6 -26M621 717l-7 -20M832 794l-6 -28M840 653l3 -9M535 596l1 -2M567 801l-6 -21M770 678l2 -6M832 582l-1 -3M637 653l-3 -8M595 746l-1 -10M762 888l13 -27M904 852l12 -31M703 879l-15 -32M914 911l-5 -18M720 809l-3 -18M925 741l-8 -18M757 629l-2 -5M890 591l2 -4M575 783l-2 -14M789 790l10 -27M696 594l0 -1M724 928l5 -28M726 606l0 -2M673 825l2 -18M870 629l-2 -7M588 746l-3 -12M630 956l-1 -19M904 872l-12 -30M860 798l8 -17M689 735l-7 -16M882 865l-7 -30M721 789l8 -27M843 819l-3 -23M519 648l4 -9M784 879l-15 -42M612 969l-2 -26M546 789l-9 -26M723 850l8 -25M636 767l4 -27M894 604l0 -1M898 753l2 -13M602 728l1 -17M720 695l-2 -15M577 666l1 -6M765 943l3 -45M817 882l11 -32M803 671l1 -13M559 941l-18 -50M940 910l-5 -38M666 662l-1 -4M566 676l0 -14M805 771l2 -18M870 602l1 -3M526 712l2 -11M741 779l-9 -26M798 890l-9 -32M605 622l1 -6M755 771l1 -9M522 788l8 -16M830 704l2 -5M872 969l-1 -23M858 595l-2 -4M883 724l-2 -15M576 640l-1 -8M769 823l-2 -13M721 951l-8 -39M713 720l-0 -16M738 684l-3 -9M569 856l-5 -35M948 667l1 -8M933 742l-4 -18M535 860l-4 -28M559 885l13 -39M621 586l-1 -3M910 621l-1 -4M739 954l5 -31M725 689l0 -6M623 914l6 -33M873 824l-1 -17M629 683l-2 -5M797 838l-8 -24M781 922l-13 -36M842 584l1 -3M609 668l-1 -5M583 752l-6 -16M646 937l8 -37M938 614l1 -5M710 915l-9 -34M817 671l3 -10M583 865l-4 -29M779 691l1 -5M931 837l-2 -12M771 646l3 -9M536 622l1 -4M614 782l3 -7M617 779l-7 -27M854 809l6 -22M647 859l6 -23M586 830l7 -18M620 619l-0 -4M686 768l3 -25M919 687l1 -6M703 959l-11 -28M856 792l9 -22M931 782l-2 -27M930 771l1 -14M791 841l-4 -26M918 593l-0 -2M528 624l-1 -3M899 723l-1 -14M573 688l-3 -16M545 931l0 -38M741 590l1 -3M749 774l-3 -17M940 827l1 -15M944 828l-6 -22M837 878l11 -24M552 591l1 -2M763 748l3 -12M813 709l3 -11M766 946l12 -29M747 676l-3 -10M724 788l-1 -13M918 859l-3 -39M912 864l-5 -39M752 577l1 -4M910 887l-1 -37M925 707l-2 -17M906 684l0 -9M816 721l-4 -14M650 618l-1 -6M591 777l-3 -16M579 813l-7 -29M683 938l-1 -14M877 792l-3 -12M628 923l-12 -44M675 621l-0 -2M823 705l-3 -7M819 716l-5 -18M947 860l2 -41M522 714l-4 -14M895 632l-0 -3M588 730l-2 -8M620 797l5 -21M701 695l-0 -15M925 692l-7 -15M536 946l-1 -18M654 666l4 -11M535 650l1 -7M613 787l0 -18M570 717l0 -13M821 965l4 -22M810 707l6 -17M808 809l-1 -20M692 911l1 -26M916 869l2 -29M912 965l-19 -49M518 588l-0 -4M705 921l-11 -29M803 779l-2 -23M746 886l5 -15M762 957l-7 -19M882 604l-0 -3M665 611l1 -4M902 942l-20 -47M742 757l-3 -15M828 764l-2 -7M617 932l-3 -50M573 887l-1 -19M924 858l4 -27M878 582l0 -2M812 886l0 -41M945 745l-2 -6M785 665l3 -10M903 580l-0 -3M764 712l-2 -6M675 601l-0 -1M886 698l1 -9M699 633l0 -8M898 681l1 -6M742 613l-0 -2M541 840l10 -28M806 902l-2 -17M644 733l3 -19M720 763l0 -11M868 916l17 -40M611 584l1 -3M521 623l1 -5M914 633l1 -7M640 729l-6 -13M624 778l-5 -25M825 949l-10 -35M644 646l-2 -4M913 579l-0 -2M693 616l-2 -5M761 742l-5 -17M596 722l4 -12M944 834l5 -34M627 764l-5 -20M546 612l1 -5M561 882l10 -44M655 657l-2 -6M926 797l3 -10M664 770l10 -23M570 739l4 -8M757 779l-4 -17M547 829l3 -14M536 587l-0 -3M819 745l7 -18M622 680l-2 -5M940 834l-2 -26M779 900l6 -20M700 641l-3 -9M791 836l-2 -17M624 687l-3 -7M917 861l4 -19M644 770l-1 -17M724 646l-1 -8M727 792l1 -9M648 597l-1 -3M759 650l0 -4M910 611l0 -2M830 880l-2 -33M742 891l-14 -37M762 834l11 -27M858 596l1 -3M905 732l-3 -11M574 577l-1 -4M769 588l1 -2M545 965l10 -37M540 622l-1 -3M782 806l8 -23M758 858l-5 -25M674 580l-1 -2M822 590l0 -1M944 733l0 -8M621 870l-3 -24M677 929l8 -45M769 943l8 -45M526 738l3 -18M554 895l-2 -44M764 906l-6 -40M726 921l-1 -31M720 607l1 -3M735 611l-0 -3M675 623l-1 -6M536 622l1 -5M701 813l2 -13M938 895l2 -21M861 745l-4 -9M690 926l-7 -24M948 652l-2 -7M659 901l9 -46M946 717l4 -16M604 838l3 -10M828 679l0 -6M913 797l0 -12M640 661l-2 -6M894 958l-4 -35M540 893l-6 -18M560 588l-1 -2M735 691l6 -15M668 750l3 -22M914 894l-3 -41M929 715l4 -20M628 789l2 -18M594 631l1 -4M830 945l-4 -31M786 940l-8 -52M915 691l-2 -8M929 724l-5 -20M607 949l-4 -26M901 850l11 -34M756 699l-5 -12M812 964l9 -20M820 803l6 -22M614 738l-3 -22M605 778l-3 -8M713 916l15 -43M910 578l-1 -3M656 836l-4 -18M898 745l-6 -22M929 708l3 -10M683 692l2 -4M603 719l-4 -9M934 763l-5 -10M792 957l20 -49M863 742l6 -21M579 812l4 -12M899 739l-6 -15M687 657l3 -8M584 763l-4 -10M688 937l0 -38M819 856l-5 -17M906 740l2 -17M585 652l-4 -8M883 853l8 -21M781 583l1 -3M756 925l3 -29M733 736l5 -20M769 881l0 -20M571 625l2 -6M627 864l14 -29M778 971l-19 -48M543 691l-7 -16M518 776l0 -23M946 789l-8 -18M672 843l6 -38M903 963l2 -32M950 805l-7 -28M813 847l-14 -28M724 749l-2 -9M834 947l1 -25M629 796l2 -10M777 636l3 -8M827 946l9 -31M642 950l10 -26M930 797l-7 -29M564 614l-0 -3M663 834l11 -30M934 786l1 -12M694 961l17 -48M874 679l6 -13M522 697l1 -9M523 744l-2 -10M857 654l1 -4M922 635l-2 -8M867 864l-3 -27M605 662l-4 -10M740 957l-12 -32M936 828l-6 -14M840 968l-2 -17M855 644l2 -4M808 801l0 -29M675 719l-3 -9M647 665l1 -5M769 970l-17 -55M638 685l3 -16M765 837l6 -26M735 692l-4 -10M714 803l-2 -25M712 676l-1 -13M932 813l-1 -10M945 654l-2 -9M750 628l-1 -3M916 756l-10 -25M525 654l2 -8M940 782l-5 -26M753 968l11 -28M701 666l3 -8M765 651l2 -6M529 830l5 -16M760 687l-6 -13M781 858l-3 -11M892 873l1 -14M546 787l1 -16M579 605l0 -2M692 640l2 -9M547 880l2 -20M766 878l-18 -40M657 711l-8 -18M791 857l-3 -14M818 710l-5 -12M638 631l-0 -2M884 918l14 -33M888 587l0 -2M790 666l-2 -7M566 637l-1 -3M536 656l-2 -10M658 663l1 -4M906 877l-2 -23M626 635l0 -3M578 962l2 -30M888 791l2 -8M938 946l-6 -29M931 785l-3 -18M560 748l-1 -16M918 578l-1 -3M597 621l-1 -2M555 961l-1 -52M742 695l1 -10M933 771l2 -12M665 957l1 -40" stroke="#b0d4a4" stroke-opacity="0.35" stroke-width="1.3" fill="none" stroke-linecap="round"/>
<linearGradient id="pg2" x1="0" y1="0" x2="0" y2="1"><stop offset="0" stop-color="#a88a66" stop-opacity="0.2"/><stop offset="0.3" stop-color="#b48c6a" stop-opacity="0.55"/><stop offset="0.6" stop-color="#bc8a66" stop-opacity="0.7"/><stop offset="1" stop-color="#c87a50" stop-opacity="0.85"/></linearGradient>
<path d="M670,612 L672,625 L664,652 L657,683 L643,714 L633,745 L625,776 L620,800 L606,830 L596,852 L586,900 L580,951 L514,951 L514,900 L526,852 L548,826 L572,800 L580,776 L598,745 L612,714 L634,683 L647,652 L662,625 L666,612 Z" fill="url(#pg2)"/>
<path d="M655 638l-2 -4M573 947l11 -26M594 772l3 -21M570 900l7 -25M641 675l-2 -8M553 918l8 -30M655 677l-5 -10M584 874l-2 -14M666 625l1 -2M537 927l3 -29M540 922l27 -39M556 825l2 -17M595 797l2 -14M669 621l1 -4M670 621l-1 -4M627 730l-8 -16M658 666l-7 -12M651 683l1 -8M550 891l-8 -12M633 693l8 -13M532 860l7 -30M573 901l-7 -43M554 843l-8 -15M561 857l-2 -37M534 889l8 -16M517 930l-3 -41M533 928l-9 -21M608 803l9 -20M520 940l-7 -47M610 737l1 -15M547 902l12 -34M626 740l-11 -16M644 699l-3 -7M563 924l-1 -47M556 846l10 -26M582 778l6 -16M652 674l-0 -14M647 659l0 -10M645 697l-2 -5M663 644l-3 -8M585 830l-1 -14M665 636l-3 -6M657 675l4 -8M651 670l1 -7M596 758l-9 -17M664 622l-1 -4M627 749l-4 -9M632 716l-0 -7M575 900l13 -26M594 787l-9 -24M573 886l-17 -26M547 865l8 -15M570 815l15 -27M527 898l9 -30M522 947l16 -35M556 965l17 -29M570 852l-8 -33M594 823l-9 -22M563 916l1 -19M570 869l8 -16M658 630l-1 -3M598 775l4 -12M626 743l0 -20M599 826l-1 -13M544 916l0 -48M570 939l13 -22M653 648l4 -10M585 787l3 -22M651 654l2 -4M613 767l3 -27M564 907l-17 -44M553 834l-13 -23M644 698l4 -7M617 788l0 -15M535 929l15 -35M559 827l-5 -20M618 765l-3 -19M562 830l-17 -28M624 707l2 -18M602 774l10 -21M572 923l-17 -27M587 834l-4 -33M547 842l-4 -15M615 745l-9 -19M572 842l-7 -11M664 647l-2 -5M609 806l4 -9M665 645l3 -7M569 948l7 -33M598 766l1 -12M643 675l-2 -7M562 938l19 -39M583 781l3 -17M636 685l2 -16M552 909l11 -34M558 846l11 -36M518 946l-8 -39M664 623l0 -3M618 769l11 -26M562 950l-4 -45M630 698l-1 -8M592 778l16 -25M612 755l-4 -18M581 857l15 -26M560 921l1 -44M647 701l1 -15M603 787l7 -10M651 651l4 -8M653 659l0 -5M648 695l-2 -14M608 759l2 -7M548 875l-10 -36M602 765l-4 -6M530 876l8 -13M580 876l3 -17M545 892l-6 -13M536 910l-0 -28M617 732l4 -11M560 901l-7 -34M541 960l-5 -28M590 818l-10 -24M568 952l2 -29M632 743l1 -8M604 817l-14 -26M601 795l-6 -22M600 763l-5 -15M653 659l-1 -4M595 837l-8 -16M666 634l5 -7M556 942l-0 -27M555 844l0 -32M556 928l8 -20M561 854l-3 -27M576 958l-11 -25M655 676l-6 -12M521 927l-2 -14M603 759l1 -20M554 920l-20 -35M614 721l-3 -12M542 876l14 -30M641 711l1 -10M585 775l-2 -9M646 690l0 -6M619 770l1 -9M522 909l11 -24M662 624l1 -7M550 915l9 -31M618 728l-3 -8M607 785l9 -13M554 939l-13 -35" stroke="#62a064" stroke-opacity="0.60" stroke-width="1.8" fill="none" stroke-linecap="round"/>
<path d="M615 772l16 -25M565 920l-10 -26M588 772l-6 -14M578 866l-14 -23M569 917l2 -18M563 819l3 -9M651 675l-1 -5M654 664l3 -6M644 688l-2 -15M574 853l1 -28M548 843l7 -11M619 714l5 -11M576 893l-12 -29M611 792l-2 -10M618 722l2 -20M635 687l-3 -15M613 728l4 -13M635 715l1 -12M606 771l-7 -20M585 811l1 -30M659 657l0 -5M553 831l-15 -28M639 710l1 -10M546 966l4 -21M603 799l-14 -24M666 624l3 -5M586 821l-2 -13M532 875l8 -39M614 742l5 -12M634 706l-4 -6M568 898l3 -43M577 927l26 -43M608 747l-11 -21M599 790l6 -16M587 780l-11 -25M579 815l-7 -14M571 867l-9 -18M667 626l0 -3M551 851l14 -20M665 628l-1 -4M539 916l25 -43M650 680l0 -4M553 905l-7 -14M521 962l-5 -17M563 935l-22 -46M644 664l-6 -9M653 659l-5 -9M574 810l1 -34M565 938l-13 -31M658 638l3 -6M577 874l-13 -32M567 863l20 -33M568 861l12 -27M605 786l2 -28M581 830l-5 -19M566 866l-7 -30M557 833l6 -17M606 801l2 -12M565 880l-6 -15M560 831l-10 -20M591 801l-10 -29M621 712l-2 -10M633 712l10 -17M550 859l11 -22M650 684l8 -13M656 647l0 -11M644 690l-6 -10M611 755l8 -19M544 912l6 -13M586 785l-1 -23M636 705l-5 -13M630 695l-0 -7M608 758l-7 -11M562 881l2 -39M562 934l-8 -29M585 781l1 -15M653 656l-1 -3M661 625l1 -2M567 841l13 -23M572 814l-6 -24M580 801l-8 -14M606 757l10 -21M595 800l3 -21M611 746l-1 -19M646 681l-3 -15M581 955l16 -27M623 716l5 -13M520 947l8 -17M664 644l-2 -9M657 680l-3 -5M664 639l-3 -5M561 846l3 -24M515 963l-11 -21M616 802l18 -27M629 719l-6 -12M532 895l-6 -38M656 683l-2 -5M637 684l-1 -6M668 622l0 -3M632 736l-4 -8" stroke="#3a6a40" stroke-opacity="0.50" stroke-width="1.6" fill="none" stroke-linecap="round"/>
</g>
<path d="M513,552 H954 V596 L951,595 C905,584 860,576 800,572 C760,570 700,570 650,572 C600,575 560,580 516,590 L513,591 Z" fill="#e3e3e8"/>
<path d="M516,590 C560,580 600,575 650,572 C700,570 760,570 800,572 C860,576 905,584 950,595" fill="none" stroke="#a8c0a8" stroke-width="2"/>
<path d="M896,586 L905,580 L915,582 L925,578 L935,582 L944,584 L944,593 L896,590 Z" fill="#e6e2ea"/>
<rect x="905" y="581" width="9" height="8" fill="#b08a8e"/><rect x="925" y="578" width="8" height="12" fill="#f4f4f8"/><rect x="936" y="583" width="8" height="9" fill="#d8dce0"/>
</g>
</svg>
</body></html>
